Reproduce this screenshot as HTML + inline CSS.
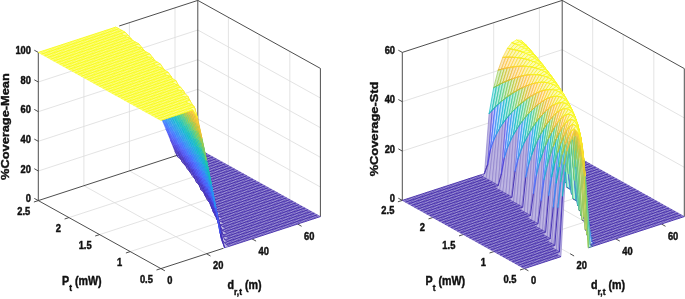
<!DOCTYPE html>
<html><head><meta charset="utf-8"><title>3D coverage plots</title>
<style>html,body{margin:0;padding:0;background:#fff}svg{display:block;will-change:transform}</style></head>
<body>
<svg width="685" height="299" viewBox="0 0 685 299">
<style>.f{fill:#fff;stroke:none}.n{fill:none}</style>
<defs><filter id="b" x="-5%" y="-5%" width="110%" height="110%"><feGaussianBlur stdDeviation=".35"/></filter></defs>
<rect width="685" height="299" fill="#fff"/>
<path d="M206.5 253.7L83.9 185.7M83.9 185.7L83.9 37.5M252 238.9L129.4 170.9M129.4 170.9L129.4 22.7M297.6 224L175 156M175 156L175 7.8M130.2 251.6L289.8 199.6M289.8 199.6L289.8 51.4M99.6 234.6L259.1 182.6M259.1 182.6L259.1 34.4M68.9 217.6L228.4 165.6M228.4 165.6L228.4 17.4M38.3 171L197.8 119M197.8 119L320.4 187M38.3 141.3L197.8 89.3M197.8 89.3L320.4 157.3M38.3 111.7L197.8 59.7M197.8 59.7L320.4 127.7M38.3 82L197.8 30M197.8 30L320.4 98" stroke="#dcdcdc" stroke-width=".8" fill="none"/>
<path d="M38.3 200.6L38.3 52.4M38.3 200.6L160.9 268.6M160.9 268.6L223.6 248.2M38.3 200.6L178.4 154.9M119.2 26L197.8 .4M197.8 148.6L197.8 .4M320.4 216.6L320.4 68.4M197.8 .4L320.4 68.4M38.3 200.6L34.3 198.4M38.3 171L34.3 168.7M38.3 141.3L34.3 139.1M38.3 111.7L34.3 109.4M38.3 82L34.3 79.8M38.3 52.4L34.3 50.2M160.9 268.6L156.5 270M130.2 251.6L125.9 253M99.6 234.6L95.2 236M68.9 217.6L64.6 219M38.3 200.6L33.9 202M160.9 268.6L164.9 270.8M206.5 253.7L210.5 256M252 238.9L256.1 241.1M297.6 224L301.6 226.3" stroke="#3a3a3a" stroke-width=".9" fill="none"/>
<g fill="#fff" stroke-width=".65" stroke-linejoin="round">
<path stroke="none" fill="#9e93d4" d="M229.3 246.3L320.4 216.6L317.3 214.9L226.2 244.6zM226.2 244.6L317.3 214.9L314.3 213.2L223.1 242.9zM227.7 241.4L314.3 213.2L311.2 211.5L224.6 239.7zM229.2 238.2L311.2 211.5L308.1 209.8L226.1 236.5zM226.1 236.5L308.1 209.8L305.1 208.1L223 234.8zM227.6 233.4L305.1 208.1L302 206.4L224.5 231.7zM224.5 231.7L302 206.4L298.9 204.7L221.5 230zM226 228.5L298.9 204.7L295.9 203L223 226.8zM223 226.8L295.9 203L292.8 201.3L219.9 225.1zM224.5 223.6L292.8 201.3L289.8 199.6L221.4 221.9zM221.4 221.9L289.8 199.6L286.7 197.9L218.3 220.2zM222.9 218.7L286.7 197.9L283.6 196.2L219.8 217zM219.8 217L283.6 196.2L280.6 194.5L216.8 215.3zM221.3 213.8L280.6 194.5L277.5 192.8L218.2 212.1zM218.2 212.1L277.5 192.8L274.4 191.1L215.2 210.4zM215.2 210.4L274.4 191.1L271.4 189.4L212.1 208.7zM216.7 207.2L271.4 189.4L268.3 187.7L213.6 205.5zM213.6 205.5L268.3 187.7L265.2 186L210.5 203.8zM215.1 202.3L265.2 186L262.2 184.3L212 200.6zM212 200.6L262.2 184.3L259.1 182.6L209 198.9zM209 198.9L259.1 182.6L256 180.9L205.9 197.2zM210.5 195.8L256 180.9L253 179.2L207.4 194.1zM207.4 194.1L253 179.2L249.9 177.5L204.3 192.4zM208.9 190.9L249.9 177.5L246.8 175.8L205.8 189.2zM205.8 189.2L246.8 175.8L243.8 174.1L202.8 187.5zM202.8 187.5L243.8 174.1L240.7 172.4L199.7 185.8zM204.3 184.3L240.7 172.4L237.6 170.7L201.2 182.6zM201.2 182.6L237.6 170.7L234.6 169L198.1 180.9zM198.1 180.9L234.6 169L231.5 167.3L195.1 179.2zM199.6 177.7L231.5 167.3L228.4 165.6L196.6 176zM196.6 176L228.4 165.6L225.4 163.9L193.5 174.3zM193.5 174.3L225.4 163.9L222.3 162.2L190.4 172.6zM195 171.1L222.3 162.2L219.3 160.5L191.9 169.4zM191.9 169.4L219.3 160.5L216.2 158.8L188.8 167.7zM188.8 167.7L216.2 158.8L213.1 157.1L185.8 166zM190.3 164.5L213.1 157.1L210.1 155.4L187.3 162.8zM187.3 162.8L210.1 155.4L207 153.7L184.2 161.1zM184.2 161.1L207 153.7L203.9 152L181.1 159.4zM185.7 157.9L203.9 152L200.9 150.3L182.6 156.2zM182.6 156.2L200.9 150.3L197.8 148.6L179.6 154.5z"/>
<path class="n" stroke-width=".5" stroke="#3e26a8" d="M229.3 246.3L223.1 242.9M231.5 245.6L225.4 242.2M233.8 244.8L224.6 239.7M236.1 244.1L226.9 239M238.4 243.3L223 234.8M240.6 242.6L225.3 234.1M242.9 241.9L221.5 230M245.2 241.1L223.8 229.2M247.5 240.4L219.9 225.1M249.8 239.6L222.2 224.3M252 238.9L218.3 220.2M254.3 238.1L220.6 219.4M256.6 237.4L216.8 215.3M258.9 236.7L219 214.6M261.2 235.9L212.1 208.7M263.4 235.2L214.4 208M265.7 234.4L210.5 203.8M268 233.7L212.8 203.1M270.3 232.9L205.9 197.2M272.5 232.2L208.2 196.5M274.8 231.5L204.3 192.4M277.1 230.7L206.6 191.6M279.4 230L199.7 185.8M281.7 229.2L202 185M283.9 228.5L195.1 179.2M286.2 227.7L197.3 178.4M288.5 227L190.4 172.6M290.8 226.3L192.7 171.9M293.1 225.5L185.8 166M295.3 224.8L188.1 165.3M297.6 224L181.1 159.4M299.9 223.3L183.4 158.7M302.2 222.5L179.6 154.5M304.4 221.8L181.8 153.8M306.7 221.1L184.1 153.1M309 220.3L186.4 152.3M311.3 219.6L188.7 151.6M313.6 218.8L191 150.8M315.8 218.1L193.2 150.1M318.1 217.3L195.5 149.3M320.4 216.6L197.8 148.6"/>
<path class="n" stroke-width=".85" stroke="#3e26a8" d="M229.3 246.3L320.4 216.6M226.2 244.6L317.3 214.9M223.1 242.9L314.3 213.2M224.6 239.7L311.2 211.5M226.1 236.5L308.1 209.8M223 234.8L305.1 208.1M224.5 231.7L302 206.4M221.5 230L298.9 204.7M223 226.8L295.9 203M219.9 225.1L292.8 201.3M221.4 221.9L289.8 199.6M218.3 220.2L286.7 197.9M219.8 217L283.6 196.2M216.8 215.3L280.6 194.5M218.2 212.1L277.5 192.8M215.2 210.4L274.4 191.1M212.1 208.7L271.4 189.4M213.6 205.5L268.3 187.7M210.5 203.8L265.2 186M212 200.6L262.2 184.3M209 198.9L259.1 182.6M205.9 197.2L256 180.9M207.4 194.1L253 179.2M204.3 192.4L249.9 177.5M205.8 189.2L246.8 175.8M202.8 187.5L243.8 174.1M199.7 185.8L240.7 172.4M201.2 182.6L237.6 170.7M198.1 180.9L234.6 169M195.1 179.2L231.5 167.3M196.6 176L228.4 165.6M193.5 174.3L225.4 163.9M190.4 172.6L222.3 162.2M191.9 169.4L219.3 160.5M188.8 167.7L216.2 158.8M185.8 166L213.1 157.1M187.3 162.8L210.1 155.4M184.2 161.1L207 153.7M181.1 159.4L203.9 152M182.6 156.2L200.9 150.3M179.6 154.5L197.8 148.6"/>
<g filter="url(#b)">
<path stroke="#3e26a8" fill="#bdb5e2" d="M179.6 154.5l-4.6-3.1l3.1 5.6l4.5-.8z"/>
<path stroke="#3e26a8" fill="#bdb5e2" d="M182.6 156.2l-4.5 .8l3 2.4l4.6-1.5z"/>
<path stroke="#422ec0" fill="#bfb8e9" d="M175 151.4l-4.5-11.4l3 5.4l4.6 11.6z"/>
<path class="n" stroke="#3e26a8" d="M173.5 145.4l4.6 11.6"/>
<path stroke="#3e26a8" fill="#bdb5e2" d="M178.1 157l-4.6-11.6l3.1 5.6l4.5 8.4z"/>
<path stroke="#3e26a8" fill="#bdb5e2" d="M181.1 159.4l-4.5-8.4l3.1 5.8l4.5 4.3z"/>
<path stroke="#3e26a8" fill="#bdb5e2" d="M184.2 161.1l-4.5-4.3l3 5.9l4.6 .1z"/>
<path stroke="#3e26a8" fill="#bdb5e2" d="M187.3 162.8l-4.6-.1l3.1 3.3l4.5-1.5z"/>
<path stroke="#4747eb" fill="#c1c0f8" d="M170.5 140l-4.6-11.2l3.1 5.3l4.5 11.3z"/>
<path class="n" stroke="#463cde" d="M169 134.1l4.5 11.3"/>
<path stroke="#463cde" fill="#c0bdf4" d="M173.5 145.4l-4.5-11.3l3 5.4l4.6 11.5z"/>
<path stroke="#4537d5" fill="#c0bbf1" d="M176.6 151l-4.6-11.5l3.1 5.5l4.6 11.8z"/>
<path class="n" stroke="#422ec0" d="M175.1 145l4.6 11.8"/>
<path stroke="#422ec0" fill="#bfb8e9" d="M179.7 156.8l-4.6-11.8l3.1 5.7l4.5 12z"/>
<path class="n" stroke="#3e26a8" d="M178.2 150.7l4.5 12"/>
<path stroke="#3e26a8" fill="#bdb5e2" d="M182.7 162.7l-4.5-12l3 5.8l4.6 9.5z"/>
<path stroke="#3e26a8" fill="#bdb5e2" d="M185.8 166l-4.6-9.5l3.1 6l4.5 5.2z"/>
<path stroke="#3e26a8" fill="#bdb5e2" d="M188.8 167.7l-4.5-5.2l3.1 6.2l4.5 .7z"/>
<path stroke="#3e26a8" fill="#bdb5e2" d="M191.9 169.4l-4.5-.7l3 3.9l4.6-1.5z"/>
<path stroke="#4269fe" fill="#bfccff" d="M165.9 128.8l-4.6-10.9l3.1 5l4.6 11.2z"/>
<path class="n" stroke="#465efb" d="M164.4 122.9l4.6 11.2"/>
<path stroke="#465efb" fill="#c0c8fe" d="M169 134.1l-4.6-11.2l3.1 5.2l4.5 11.4z"/>
<path class="n" stroke="#4852f4" d="M167.5 128.1l4.5 11.4"/>
<path stroke="#4852f4" fill="#c1c4fb" d="M172 139.5l-4.5-11.4l3 5.3l4.6 11.6z"/>
<path stroke="#484df0" fill="#c1c2fa" d="M175.1 145l-4.6-11.6l3.1 5.5l4.6 11.8z"/>
<path class="n" stroke="#4741e5" d="M173.6 138.9l4.6 11.8"/>
<path stroke="#4741e5" fill="#c0bef6" d="M178.2 150.7l-4.6-11.8l3.1 5.6l4.5 12z"/>
<path class="n" stroke="#4537d5" d="M176.7 144.5l4.5 12"/>
<path stroke="#4537d5" fill="#c0bbf1" d="M181.2 156.5l-4.5-12l3 5.8l4.6 12.2z"/>
<path class="n" stroke="#422ec0" d="M179.7 150.3l4.6 12.2"/>
<path stroke="#422ec0" fill="#bfb8e9" d="M184.3 162.5l-4.6-12.2l3.1 5.9l4.6 12.5z"/>
<path class="n" stroke="#3e26a8" d="M182.8 156.2l4.6 12.5"/>
<path stroke="#3e26a8" fill="#bdb5e2" d="M187.4 168.7l-4.6-12.5l3.1 6.1l4.5 10.3z"/>
<path stroke="#3e26a8" fill="#bdb5e2" d="M190.4 172.6l-4.5-10.3l3 6.4l4.6 5.6z"/>
<path stroke="#3e26a8" fill="#bdb5e2" d="M193.5 174.3l-4.6-5.6l3.1 6.5l4.6 .8z"/>
<path stroke="#3e26a8" fill="#bdb5e2" d="M196.6 176l-4.6-.8l3.1 4l4.5-1.5z"/>
<path stroke="#2e87f7" fill="#b8d6fc" d="M161.3 117.9l-4.5-10.7l3.1 4.8l4.5 10.9z"/>
<path class="n" stroke="#327cfc" d="M159.9 112l4.5 10.9"/>
<path stroke="#327cfc" fill="#b9d2fe" d="M164.4 122.9l-4.5-10.9l3 5l4.6 11.1z"/>
<path stroke="#3875fe" fill="#bbd0ff" d="M167.5 128.1l-4.6-11.1l3.1 5.1l4.5 11.3z"/>
<path class="n" stroke="#4269fe" d="M166 122.1l4.5 11.3"/>
<path stroke="#4269fe" fill="#bfccff" d="M170.5 133.4l-4.5-11.3l3 5.2l4.6 11.6z"/>
<path stroke="#4563fd" fill="#c0cafe" d="M173.6 138.9l-4.6-11.6l3.1 5.4l4.6 11.8z"/>
<path class="n" stroke="#4758f8" d="M172.1 132.7l4.6 11.8"/>
<path stroke="#4758f8" fill="#c1c6fd" d="M176.7 144.5l-4.6-11.8l3.1 5.5l4.5 12.1z"/>
<path class="n" stroke="#484df0" d="M175.2 138.2l4.5 12.1"/>
<path stroke="#484df0" fill="#c1c2fa" d="M179.7 150.3l-4.5-12.1l3 5.7l4.6 12.3z"/>
<path class="n" stroke="#4741e5" d="M178.2 143.9l4.6 12.3"/>
<path stroke="#4741e5" fill="#c0bef6" d="M182.8 156.2l-4.6-12.3l3.1 5.9l4.6 12.5z"/>
<path stroke="#463cde" fill="#c0bdf4" d="M185.9 162.3l-4.6-12.5l3.1 6.1l4.5 12.8z"/>
<path class="n" stroke="#4332cb" d="M184.4 155.9l4.5 12.8"/>
<path stroke="#4332cb" fill="#bfb9ed" d="M188.9 168.7l-4.5-12.8l3 6.3l4.6 13z"/>
<path class="n" stroke="#3e26a8" d="M187.4 162.2l4.6 13"/>
<path stroke="#3e26a8" fill="#bdb5e2" d="M192 175.2l-4.6-13l3.1 6.4l4.6 10.6z"/>
<path stroke="#3e26a8" fill="#bdb5e2" d="M195.1 179.2l-4.6-10.6l3.1 6.8l4.5 5.5z"/>
<path stroke="#3e26a8" fill="#bdb5e2" d="M198.1 180.9l-4.5-5.5l3 6.9l4.6 .3z"/>
<path stroke="#3e26a8" fill="#bdb5e2" d="M201.2 182.6l-4.6-.3l3.1 3.5l4.6-1.5z"/>
<path stroke="#23a0e5" fill="#b4dff6" d="M156.8 107.2l-4.6-10.5l3.1 4.7l4.6 10.6z"/>
<path stroke="#259be8" fill="#b5ddf7" d="M159.9 112l-4.6-10.6l3.1 4.7l4.5 10.9z"/>
<path class="n" stroke="#2b91ef" d="M158.4 106.1l4.5 10.9"/>
<path stroke="#2b91ef" fill="#b7daf9" d="M162.9 117l-4.5-10.9l3 4.9l4.6 11.1z"/>
<path stroke="#2d8cf3" fill="#b8d8fb" d="M166 122.1l-4.6-11.1l3.1 5l4.5 11.3z"/>
<path class="n" stroke="#2f81fa" d="M164.5 116l4.5 11.3"/>
<path stroke="#2f81fa" fill="#b8d4fd" d="M169 127.3l-4.5-11.3l3.1 5.2l4.5 11.5z"/>
<path stroke="#327cfc" fill="#b9d2fe" d="M172.1 132.7l-4.5-11.5l3 5.3l4.6 11.7z"/>
<path class="n" stroke="#3e6fff" d="M170.6 126.5l4.6 11.7"/>
<path stroke="#3e6fff" fill="#bdceff" d="M175.2 138.2l-4.6-11.7l3.1 5.4l4.5 12z"/>
<path class="n" stroke="#4563fd" d="M173.7 131.9l4.5 12"/>
<path stroke="#4563fd" fill="#c0cafe" d="M178.2 143.9l-4.5-12l3 5.7l4.6 12.2z"/>
<path stroke="#465efb" fill="#c0c8fe" d="M181.3 149.8l-4.6-12.2l3.1 5.8l4.6 12.5z"/>
<path class="n" stroke="#4852f4" d="M179.8 143.4l4.6 12.5"/>
<path stroke="#4852f4" fill="#c1c4fb" d="M184.4 155.9l-4.6-12.5l3.1 6l4.5 12.8z"/>
<path class="n" stroke="#4747eb" d="M182.9 149.4l4.5 12.8"/>
<path stroke="#4747eb" fill="#c1c0f8" d="M187.4 162.2l-4.5-12.8l3 6.1l4.6 13.1z"/>
<path class="n" stroke="#463cde" d="M185.9 155.5l4.6 13.1"/>
<path stroke="#463cde" fill="#c0bdf4" d="M190.5 168.6l-4.6-13.1l3.1 6.5l4.6 13.4z"/>
<path class="n" stroke="#4332cb" d="M189 162l4.6 13.4"/>
<path stroke="#4332cb" fill="#bfb9ed" d="M193.6 175.4l-4.6-13.4l3.1 6.6l4.5 13.7z"/>
<path class="n" stroke="#3e26a8" d="M192.1 168.6l4.5 13.7"/>
<path stroke="#3e26a8" fill="#bdb5e2" d="M196.6 182.3l-4.5-13.7l3 6.9l4.6 10.3z"/>
<path stroke="#3e26a8" fill="#bdb5e2" d="M199.7 185.8l-4.6-10.3l3.1 7.2l4.6 4.8z"/>
<path stroke="#3e26a8" fill="#bdb5e2" d="M202.8 187.5l-4.6-4.8l3.1 7.4l4.5-.9z"/>
<path stroke="#3e26a8" fill="#bdb5e2" d="M205.8 189.2l-4.5 .9l3 2.3l4.6-1.5z"/>
<path stroke="#08b5d0" fill="#abe6ef" d="M152.2 96.7l-4.5-10.2l3 4.4l4.6 10.5z"/>
<path stroke="#12b1d6" fill="#aee5f1" d="M155.3 101.4l-4.6-10.5l3.1 4.6l4.6 10.6z"/>
<path stroke="#18addb" fill="#b1e3f3" d="M158.4 106.1l-4.6-10.6l3.1 4.7l4.5 10.8z"/>
<path class="n" stroke="#20a5e3" d="M156.9 100.2l4.5 10.8"/>
<path stroke="#20a5e3" fill="#b3e0f5" d="M161.4 111l-4.5-10.8l3 4.8l4.6 11z"/>
<path stroke="#23a0e5" fill="#b4dff6" d="M164.5 116l-4.6-11l3.1 4.9l4.6 11.3z"/>
<path class="n" stroke="#2797eb" d="M163 109.9l4.6 11.3"/>
<path stroke="#2797eb" fill="#b6dbf8" d="M167.6 121.2l-4.6-11.3l3.1 5.1l4.5 11.5z"/>
<path stroke="#2b91ef" fill="#b7daf9" d="M170.6 126.5l-4.5-11.5l3 5.2l4.6 11.7z"/>
<path class="n" stroke="#2e87f7" d="M169.1 120.2l4.6 11.7"/>
<path stroke="#2e87f7" fill="#b8d6fc" d="M173.7 131.9l-4.6-11.7l3.1 5.4l4.5 12z"/>
<path stroke="#2f81fa" fill="#b8d4fd" d="M176.7 137.6l-4.5-12l3.1 5.5l4.5 12.3z"/>
<path class="n" stroke="#3875fe" d="M175.3 131.1l4.5 12.3"/>
<path stroke="#3875fe" fill="#bbd0ff" d="M179.8 143.4l-4.5-12.3l3 5.7l4.6 12.6z"/>
<path class="n" stroke="#4269fe" d="M178.3 136.8l4.6 12.6"/>
<path stroke="#4269fe" fill="#bfccff" d="M182.9 149.4l-4.6-12.6l3.1 5.9l4.5 12.8z"/>
<path class="n" stroke="#465efb" d="M181.4 142.7l4.5 12.8"/>
<path stroke="#465efb" fill="#c0c8fe" d="M185.9 155.5l-4.5-12.8l3.1 6.2l4.5 13.1z"/>
<path class="n" stroke="#4852f4" d="M184.5 148.9l4.5 13.1"/>
<path stroke="#4852f4" fill="#c1c4fb" d="M189 162l-4.5-13.1l3 6.3l4.6 13.4z"/>
<path class="n" stroke="#4747eb" d="M187.5 155.2l4.6 13.4"/>
<path stroke="#4747eb" fill="#c1c0f8" d="M192.1 168.6l-4.6-13.4l3.1 6.6l4.5 13.7z"/>
<path class="n" stroke="#463cde" d="M190.6 161.8l4.5 13.7"/>
<path stroke="#463cde" fill="#c0bdf4" d="M195.1 175.5l-4.5-13.7l3 6.8l4.6 14.1z"/>
<path class="n" stroke="#422ec0" d="M193.6 168.6l4.6 14.1"/>
<path stroke="#422ec0" fill="#bfb8e9" d="M198.2 182.7l-4.6-14.1l3.1 7.1l4.6 14.4z"/>
<path class="n" stroke="#3e26a8" d="M196.7 175.7l4.6 14.4"/>
<path stroke="#3e26a8" fill="#bdb5e2" d="M201.3 190.1l-4.6-14.4l3.1 7.4l4.5 9.3z"/>
<path stroke="#3e26a8" fill="#bdb5e2" d="M204.3 192.4l-4.5-9.3l3 7.7l4.6 3.3z"/>
<path stroke="#3e26a8" fill="#bdb5e2" d="M207.4 194.1l-4.6-3.3l3.1 6.4l4.6-1.4z"/>
<path stroke="#24c1ae" fill="#b5eae4" d="M147.7 86.5l-4.6-10l3.1 4.2l4.5 10.2z"/>
<path stroke="#19bfb6" fill="#b1e9e6" d="M150.7 90.9l-4.5-10.2l3 4.4l4.6 10.4z"/>
<path stroke="#0bbdbd" fill="#ace9e8" d="M153.8 95.5l-4.6-10.4l3.1 4.5l4.6 10.6z"/>
<path stroke="#02bac3" fill="#a9e8eb" d="M156.9 100.2l-4.6-10.6l3.1 4.6l4.5 10.8z"/>
<path class="n" stroke="#08b5d0" d="M155.4 94.2l4.5 10.8"/>
<path stroke="#08b5d0" fill="#abe6ef" d="M159.9 105l-4.5-10.8l3 4.7l4.6 11z"/>
<path stroke="#12b1d6" fill="#aee5f1" d="M163 109.9l-4.6-11l3.1 4.8l4.6 11.3z"/>
<path class="n" stroke="#1ca9df" d="M161.5 103.7l4.6 11.3"/>
<path stroke="#1ca9df" fill="#b2e2f4" d="M166.1 115l-4.6-11.3l3.1 5l4.5 11.5z"/>
<path stroke="#20a5e3" fill="#b3e0f5" d="M169.1 120.2l-4.5-11.5l3 5.1l4.6 11.8z"/>
<path class="n" stroke="#259be8" d="M167.6 113.8l4.6 11.8"/>
<path stroke="#259be8" fill="#b5ddf7" d="M172.2 125.6l-4.6-11.8l3.1 5.3l4.6 12z"/>
<path stroke="#2797eb" fill="#b6dbf8" d="M175.3 131.1l-4.6-12l3.1 5.5l4.5 12.2z"/>
<path class="n" stroke="#2d8cf3" d="M173.8 124.6l4.5 12.2"/>
<path stroke="#2d8cf3" fill="#b8d8fb" d="M178.3 136.8l-4.5-12.2l3 5.6l4.6 12.5z"/>
<path class="n" stroke="#2f81fa" d="M176.8 130.2l4.6 12.5"/>
<path stroke="#2f81fa" fill="#b8d4fd" d="M181.4 142.7l-4.6-12.5l3.1 5.9l4.6 12.8z"/>
<path class="n" stroke="#3875fe" d="M179.9 136.1l4.6 12.8"/>
<path stroke="#3875fe" fill="#bbd0ff" d="M184.5 148.9l-4.6-12.8l3.1 6l4.5 13.1z"/>
<path class="n" stroke="#4269fe" d="M183 142.1l4.5 13.1"/>
<path stroke="#4269fe" fill="#bfccff" d="M187.5 155.2l-4.5-13.1l3 6.3l4.6 13.4z"/>
<path class="n" stroke="#465efb" d="M186 148.4l4.6 13.4"/>
<path stroke="#465efb" fill="#c0c8fe" d="M190.6 161.8l-4.6-13.4l3.1 6.5l4.5 13.7z"/>
<path class="n" stroke="#4852f4" d="M189.1 154.9l4.5 13.7"/>
<path stroke="#4852f4" fill="#c1c4fb" d="M193.6 168.6l-4.5-13.7l3.1 6.7l4.5 14.1z"/>
<path class="n" stroke="#4747eb" d="M192.2 161.6l4.5 14.1"/>
<path stroke="#4747eb" fill="#c1c0f8" d="M196.7 175.7l-4.5-14.1l3 7.1l4.6 14.4z"/>
<path class="n" stroke="#4537d5" d="M195.2 168.7l4.6 14.4"/>
<path stroke="#4537d5" fill="#c0bbf1" d="M199.8 183.1l-4.6-14.4l3.1 7.3l4.5 14.8z"/>
<path class="n" stroke="#422ec0" d="M198.3 176l4.5 14.8"/>
<path stroke="#422ec0" fill="#bfb8e9" d="M202.8 190.8l-4.5-14.8l3 7.6l4.6 13.6z"/>
<path class="n" stroke="#3e26a8" d="M201.3 183.6l4.6 13.6"/>
<path stroke="#3e26a8" fill="#bdb5e2" d="M205.9 197.2l-4.6-13.6l3.1 8.1l4.6 7.2z"/>
<path stroke="#3e26a8" fill="#bdb5e2" d="M209 198.9l-4.6-7.2l3.1 8.3l4.5 .6z"/>
<path stroke="#3e26a8" fill="#bdb5e2" d="M212 200.6l-4.5-.6l3 3.8l4.6-1.5z"/>
<path stroke="#4acb84" fill="#c1edd5" d="M143.1 76.5l-4.5-9.8l3 4.1l4.6 9.9z"/>
<path stroke="#3fca8e" fill="#beedd9" d="M146.2 80.7l-4.6-9.9l3.1 4.2l4.5 10.1z"/>
<path stroke="#37c897" fill="#bbecdc" d="M149.2 85.1l-4.5-10.1l3.1 4.3l4.5 10.3z"/>
<path stroke="#31c69f" fill="#b9ecde" d="M152.3 89.6l-4.5-10.3l3 4.3l4.6 10.6z"/>
<path stroke="#2cc4a7" fill="#b7ebe1" d="M155.4 94.2l-4.6-10.6l3.1 4.5l4.5 10.8z"/>
<path class="n" stroke="#19bfb6" d="M153.9 88.1l4.5 10.8"/>
<path stroke="#19bfb6" fill="#b1e9e6" d="M158.4 98.9l-4.5-10.8l3 4.7l4.6 10.9z"/>
<path stroke="#0bbdbd" fill="#ace9e8" d="M161.5 103.7l-4.6-10.9l3.1 4.7l4.6 11.2z"/>
<path stroke="#02bac3" fill="#a9e8eb" d="M164.6 108.7l-4.6-11.2l3.1 4.9l4.5 11.4z"/>
<path class="n" stroke="#08b5d0" d="M163.1 102.4l4.5 11.4"/>
<path stroke="#08b5d0" fill="#abe6ef" d="M167.6 113.8l-4.5-11.4l3 5.1l4.6 11.6z"/>
<path stroke="#12b1d6" fill="#aee5f1" d="M170.7 119.1l-4.6-11.6l3.1 5.2l4.6 11.9z"/>
<path class="n" stroke="#1ca9df" d="M169.2 112.7l4.6 11.9"/>
<path stroke="#1ca9df" fill="#b2e2f4" d="M173.8 124.6l-4.6-11.9l3.1 5.3l4.5 12.2z"/>
<path class="n" stroke="#23a0e5" d="M172.3 118l4.5 12.2"/>
<path stroke="#23a0e5" fill="#b4dff6" d="M176.8 130.2l-4.5-12.2l3 5.6l4.6 12.5z"/>
<path class="n" stroke="#2797eb" d="M175.3 123.6l4.6 12.5"/>
<path stroke="#2797eb" fill="#b6dbf8" d="M179.9 136.1l-4.6-12.5l3.1 5.7l4.6 12.8z"/>
<path stroke="#2b91ef" fill="#b7daf9" d="M183 142.1l-4.6-12.8l3.1 6l4.5 13.1z"/>
<path class="n" stroke="#2e87f7" d="M181.5 135.3l4.5 13.1"/>
<path stroke="#2e87f7" fill="#b8d6fc" d="M186 148.4l-4.5-13.1l3 6.2l4.6 13.4z"/>
<path class="n" stroke="#327cfc" d="M184.5 141.5l4.6 13.4"/>
<path stroke="#327cfc" fill="#b9d2fe" d="M189.1 154.9l-4.6-13.4l3.1 6.4l4.6 13.7z"/>
<path class="n" stroke="#4269fe" d="M187.6 147.9l4.6 13.7"/>
<path stroke="#4269fe" fill="#bfccff" d="M192.2 161.6l-4.6-13.7l3.1 6.7l4.5 14.1z"/>
<path class="n" stroke="#465efb" d="M190.7 154.6l4.5 14.1"/>
<path stroke="#465efb" fill="#c0c8fe" d="M195.2 168.7l-4.5-14.1l3 6.9l4.6 14.5z"/>
<path class="n" stroke="#4852f4" d="M193.7 161.5l4.6 14.5"/>
<path stroke="#4852f4" fill="#c1c4fb" d="M198.3 176l-4.6-14.5l3.1 7.3l4.5 14.8z"/>
<path class="n" stroke="#4741e5" d="M196.8 168.8l4.5 14.8"/>
<path stroke="#4741e5" fill="#c0bef6" d="M201.3 183.6l-4.5-14.8l3.1 7.6l4.5 15.3z"/>
<path class="n" stroke="#4332cb" d="M199.9 176.4l4.5 15.3"/>
<path stroke="#4332cb" fill="#bfb9ed" d="M204.4 191.7l-4.5-15.3l3 7.9l4.6 15.7z"/>
<path class="n" stroke="#3e26a8" d="M202.9 184.3l4.6 15.7"/>
<path stroke="#3e26a8" fill="#bdb5e2" d="M207.5 200l-4.6-15.7l3.1 8.4l4.5 11.1z"/>
<path stroke="#3e26a8" fill="#bdb5e2" d="M210.5 203.8l-4.5-11.1l3.1 8.8l4.5 4z"/>
<path stroke="#3e26a8" fill="#bdb5e2" d="M213.6 205.5l-4.5-4l3 7.2l4.6-1.5z"/>
<path stroke="#8fcb4e" fill="#d9edc3" d="M138.6 66.7l-4.6-9.5l3.1 3.9l4.5 9.7z"/>
<path stroke="#81cc59" fill="#d4eec6" d="M141.6 70.8l-4.5-9.7l3 4l4.6 9.9z"/>
<path stroke="#72cd64" fill="#cfeeca" d="M144.7 75l-4.6-9.9l3.1 4.1l4.6 10.1z"/>
<path stroke="#64cd6f" fill="#caeece" d="M147.8 79.3l-4.6-10.1l3.1 4.2l4.5 10.2z"/>
<path stroke="#57cc7a" fill="#c6eed2" d="M150.8 83.6l-4.5-10.2l3 4.3l4.6 10.4z"/>
<path stroke="#4acb84" fill="#c1edd5" d="M153.9 88.1l-4.6-10.4l3.1 4.4l4.5 10.7z"/>
<path class="n" stroke="#37c897" d="M152.4 82.1l4.5 10.7"/>
<path stroke="#37c897" fill="#bbecdc" d="M156.9 92.8l-4.5-10.7l3.1 4.5l4.5 10.9z"/>
<path stroke="#31c69f" fill="#b9ecde" d="M160 97.5l-4.5-10.9l3 4.7l4.6 11.1z"/>
<path stroke="#2cc4a7" fill="#b7ebe1" d="M163.1 102.4l-4.6-11.1l3.1 4.8l4.5 11.4z"/>
<path class="n" stroke="#19bfb6" d="M161.6 96.1l4.5 11.4"/>
<path stroke="#19bfb6" fill="#b1e9e6" d="M166.1 107.5l-4.5-11.4l3 4.9l4.6 11.7z"/>
<path stroke="#0bbdbd" fill="#ace9e8" d="M169.2 112.7l-4.6-11.7l3.1 5.1l4.6 11.9z"/>
<path class="n" stroke="#01b8ca" d="M167.7 106.1l4.6 11.9"/>
<path stroke="#01b8ca" fill="#a9e7ed" d="M172.3 118l-4.6-11.9l3.1 5.3l4.5 12.2z"/>
<path class="n" stroke="#12b1d6" d="M170.8 111.4l4.5 12.2"/>
<path stroke="#12b1d6" fill="#aee5f1" d="M175.3 123.6l-4.5-12.2l3 5.5l4.6 12.4z"/>
<path stroke="#18addb" fill="#b1e3f3" d="M178.4 129.3l-4.6-12.4l3.1 5.6l4.6 12.8z"/>
<path class="n" stroke="#20a5e3" d="M176.9 122.5l4.6 12.8"/>
<path stroke="#20a5e3" fill="#b3e0f5" d="M181.5 135.3l-4.6-12.8l3.1 5.9l4.5 13.1z"/>
<path class="n" stroke="#259be8" d="M180 128.4l4.5 13.1"/>
<path stroke="#259be8" fill="#b5ddf7" d="M184.5 141.5l-4.5-13.1l3 6.1l4.6 13.4z"/>
<path class="n" stroke="#2b91ef" d="M183 134.5l4.6 13.4"/>
<path stroke="#2b91ef" fill="#b7daf9" d="M187.6 147.9l-4.6-13.4l3.1 6.3l4.6 13.8z"/>
<path class="n" stroke="#2e87f7" d="M186.1 140.8l4.6 13.8"/>
<path stroke="#2e87f7" fill="#b8d6fc" d="M190.7 154.6l-4.6-13.8l3.1 6.6l4.5 14.1z"/>
<path class="n" stroke="#3875fe" d="M189.2 147.4l4.5 14.1"/>
<path stroke="#3875fe" fill="#bbd0ff" d="M193.7 161.5l-4.5-14.1l3 6.9l4.6 14.5z"/>
<path class="n" stroke="#4269fe" d="M192.2 154.3l4.6 14.5"/>
<path stroke="#4269fe" fill="#bfccff" d="M196.8 168.8l-4.6-14.5l3.1 7.2l4.6 14.9z"/>
<path class="n" stroke="#465efb" d="M195.3 161.5l4.6 14.9"/>
<path stroke="#465efb" fill="#c0c8fe" d="M199.9 176.4l-4.6-14.9l3.1 7.5l4.5 15.3z"/>
<path class="n" stroke="#484df0" d="M198.4 169l4.5 15.3"/>
<path stroke="#484df0" fill="#c1c2fa" d="M202.9 184.3l-4.5-15.3l3 7.9l4.6 15.8z"/>
<path class="n" stroke="#463cde" d="M201.4 176.9l4.6 15.8"/>
<path stroke="#463cde" fill="#c0bdf4" d="M206 192.7l-4.6-15.8l3.1 8.3l4.6 16.3z"/>
<path class="n" stroke="#422ec0" d="M204.5 185.2l4.6 16.3"/>
<path stroke="#422ec0" fill="#bfb8e9" d="M209.1 201.5l-4.6-16.3l3.1 8.8l4.5 14.7z"/>
<path class="n" stroke="#3e26a8" d="M207.6 194l4.5 14.7"/>
<path stroke="#3e26a8" fill="#bdb5e2" d="M212.1 208.7l-4.5-14.7l3 9.2l4.6 7.2z"/>
<path stroke="#3e26a8" fill="#bdb5e2" d="M215.2 210.4l-4.6-7.2l3.1 9.8l4.5-.9z"/>
<path stroke="#3e26a8" fill="#bdb5e2" d="M218.2 212.1l-4.5 .9l3.1 2.3l4.5-1.5z"/>
<path stroke="#d1bf27" fill="#efe9b6" d="M134 57.2l-4.6-9.2l3.1 3.7l4.6 9.4z"/>
<path stroke="#c5c22a" fill="#ebeab7" d="M137.1 61.1l-4.6-9.4l3.1 3.8l4.5 9.6z"/>
<path stroke="#b9c431" fill="#e7ebb9" d="M140.1 65.1l-4.5-9.6l3 3.9l4.6 9.8z"/>
<path stroke="#abc739" fill="#e3ecbc" d="M143.2 69.2l-4.6-9.8l3.1 4l4.6 10z"/>
<path stroke="#9dc943" fill="#deedbf" d="M146.3 73.4l-4.6-10l3.1 4.1l4.5 10.2z"/>
<path stroke="#8fcb4e" fill="#d9edc3" d="M149.3 77.7l-4.5-10.2l3 4.2l4.6 10.4z"/>
<path stroke="#81cc59" fill="#d4eec6" d="M152.4 82.1l-4.6-10.4l3.1 4.3l4.6 10.6z"/>
<path class="n" stroke="#64cd6f" d="M150.9 76l4.6 10.6"/>
<path stroke="#64cd6f" fill="#caeece" d="M155.5 86.6l-4.6-10.6l3.1 4.4l4.5 10.9z"/>
<path stroke="#57cc7a" fill="#c6eed2" d="M158.5 91.3l-4.5-10.9l3 4.6l4.6 11.1z"/>
<path stroke="#4acb84" fill="#c1edd5" d="M161.6 96.1l-4.6-11.1l3.1 4.7l4.5 11.3z"/>
<path class="n" stroke="#37c897" d="M160.1 89.7l4.5 11.3"/>
<path stroke="#37c897" fill="#bbecdc" d="M164.6 101l-4.5-11.3l3.1 4.9l4.5 11.5z"/>
<path stroke="#31c69f" fill="#b9ecde" d="M167.7 106.1l-4.5-11.5l3 5l4.6 11.8z"/>
<path class="n" stroke="#24c1ae" d="M166.2 99.6l4.6 11.8"/>
<path stroke="#24c1ae" fill="#b5eae4" d="M170.8 111.4l-4.6-11.8l3.1 5.2l4.5 12.1z"/>
<path stroke="#19bfb6" fill="#b1e9e6" d="M173.8 116.9l-4.5-12.1l3.1 5.3l4.5 12.4z"/>
<path class="n" stroke="#02bac3" d="M172.4 110.1l4.5 12.4"/>
<path stroke="#02bac3" fill="#a9e8eb" d="M176.9 122.5l-4.5-12.4l3 5.6l4.6 12.7z"/>
<path class="n" stroke="#08b5d0" d="M175.4 115.7l4.6 12.7"/>
<path stroke="#08b5d0" fill="#abe6ef" d="M180 128.4l-4.6-12.7l3.1 5.7l4.5 13.1z"/>
<path class="n" stroke="#18addb" d="M178.5 121.4l4.5 13.1"/>
<path stroke="#18addb" fill="#b1e3f3" d="M183 134.5l-4.5-13.1l3 6l4.6 13.4z"/>
<path class="n" stroke="#20a5e3" d="M181.5 127.4l4.6 13.4"/>
<path stroke="#20a5e3" fill="#b3e0f5" d="M186.1 140.8l-4.6-13.4l3.1 6.3l4.6 13.7z"/>
<path class="n" stroke="#259be8" d="M184.6 133.7l4.6 13.7"/>
<path stroke="#259be8" fill="#b5ddf7" d="M189.2 147.4l-4.6-13.7l3.1 6.5l4.5 14.1z"/>
<path class="n" stroke="#2b91ef" d="M187.7 140.2l4.5 14.1"/>
<path stroke="#2b91ef" fill="#b7daf9" d="M192.2 154.3l-4.5-14.1l3 6.8l4.6 14.5z"/>
<path class="n" stroke="#2e87f7" d="M190.7 147l4.6 14.5"/>
<path stroke="#2e87f7" fill="#b8d6fc" d="M195.3 161.5l-4.6-14.5l3.1 7.1l4.6 14.9z"/>
<path class="n" stroke="#3875fe" d="M193.8 154.1l4.6 14.9"/>
<path stroke="#3875fe" fill="#bbd0ff" d="M198.4 169l-4.6-14.9l3.1 7.5l4.5 15.3z"/>
<path class="n" stroke="#4563fd" d="M196.9 161.6l4.5 15.3"/>
<path stroke="#4563fd" fill="#c0cafe" d="M201.4 176.9l-4.5-15.3l3 7.8l4.6 15.8z"/>
<path class="n" stroke="#4758f8" d="M199.9 169.4l4.6 15.8"/>
<path stroke="#4758f8" fill="#c1c6fd" d="M204.5 185.2l-4.6-15.8l3.1 8.3l4.6 16.3z"/>
<path class="n" stroke="#4747eb" d="M203 177.7l4.6 16.3"/>
<path stroke="#4747eb" fill="#c1c0f8" d="M207.6 194l-4.6-16.3l3.1 8.7l4.5 16.8z"/>
<path class="n" stroke="#4332cb" d="M206.1 186.4l4.5 16.8"/>
<path stroke="#4332cb" fill="#bfb9ed" d="M210.6 203.2l-4.5-16.8l3 9.2l4.6 17.4z"/>
<path class="n" stroke="#3e26a8" d="M209.1 195.6l4.6 17.4"/>
<path stroke="#3e26a8" fill="#bdb5e2" d="M213.7 213l-4.6-17.4l3.1 9.8l4.6 9.9z"/>
<path stroke="#3e26a8" fill="#bdb5e2" d="M216.8 215.3l-4.6-9.9l3.1 10.4l4.5 1.2z"/>
<path stroke="#3e26a8" fill="#bdb5e2" d="M219.8 217l-4.5-1.2l3 4.4l4.6-1.5z"/>
<path stroke="#febe3c" fill="#ffe9bd" d="M129.4 48l-4.5-9l3.1 3.6l4.5 9.1z"/>
<path stroke="#f8ba3d" fill="#fde8bd" d="M132.5 51.7l-4.5-9.1l3 3.6l4.6 9.3z"/>
<path stroke="#f0ba36" fill="#fae7bb" d="M135.6 55.5l-4.6-9.3l3.1 3.7l4.5 9.5z"/>
<path stroke="#e6bb2d" fill="#f7e8b8" d="M138.6 59.4l-4.5-9.5l3 3.8l4.6 9.7z"/>
<path stroke="#dcbd29" fill="#f3e9b6" d="M141.7 63.4l-4.6-9.7l3.1 3.9l4.6 9.9z"/>
<path stroke="#d1bf27" fill="#efe9b6" d="M144.8 67.5l-4.6-9.9l3.1 4l4.5 10.1z"/>
<path stroke="#c5c22a" fill="#ebeab7" d="M147.8 71.7l-4.5-10.1l3 4.1l4.6 10.3z"/>
<path stroke="#b9c431" fill="#e7ebb9" d="M150.9 76l-4.6-10.3l3.1 4.2l4.6 10.5z"/>
<path class="n" stroke="#9dc943" d="M149.4 69.9l4.6 10.5"/>
<path stroke="#9dc943" fill="#deedbf" d="M154 80.4l-4.6-10.5l3.1 4.3l4.5 10.8z"/>
<path stroke="#8fcb4e" fill="#d9edc3" d="M157 85l-4.5-10.8l3 4.5l4.6 11z"/>
<path stroke="#81cc59" fill="#d4eec6" d="M160.1 89.7l-4.6-11l3.1 4.6l4.6 11.3z"/>
<path stroke="#72cd64" fill="#cfeeca" d="M163.2 94.6l-4.6-11.3l3.1 4.8l4.5 11.5z"/>
<path class="n" stroke="#57cc7a" d="M161.7 88.1l4.5 11.5"/>
<path stroke="#57cc7a" fill="#c6eed2" d="M166.2 99.6l-4.5-11.5l3 4.9l4.6 11.8z"/>
<path stroke="#4acb84" fill="#c1edd5" d="M169.3 104.8l-4.6-11.8l3.1 5l4.6 12.1z"/>
<path class="n" stroke="#37c897" d="M167.8 98l4.6 12.1"/>
<path stroke="#37c897" fill="#bbecdc" d="M172.4 110.1l-4.6-12.1l3.1 5.3l4.5 12.4z"/>
<path class="n" stroke="#2cc4a7" d="M170.9 103.3l4.5 12.4"/>
<path stroke="#2cc4a7" fill="#b7ebe1" d="M175.4 115.7l-4.5-12.4l3 5.5l4.6 12.6z"/>
<path stroke="#24c1ae" fill="#b5eae4" d="M178.5 121.4l-4.6-12.6l3.1 5.6l4.5 13z"/>
<path class="n" stroke="#0bbdbd" d="M177 114.4l4.5 13"/>
<path stroke="#0bbdbd" fill="#ace9e8" d="M181.5 127.4l-4.5-13l3.1 5.9l4.5 13.4z"/>
<path class="n" stroke="#01b8ca" d="M180.1 120.3l4.5 13.4"/>
<path stroke="#01b8ca" fill="#a9e7ed" d="M184.6 133.7l-4.5-13.4l3 6.2l4.6 13.7z"/>
<path class="n" stroke="#12b1d6" d="M183.1 126.5l4.6 13.7"/>
<path stroke="#12b1d6" fill="#aee5f1" d="M187.7 140.2l-4.6-13.7l3.1 6.4l4.5 14.1z"/>
<path class="n" stroke="#1ca9df" d="M186.2 132.9l4.5 14.1"/>
<path stroke="#1ca9df" fill="#b2e2f4" d="M190.7 147l-4.5-14.1l3.1 6.7l4.5 14.5z"/>
<path class="n" stroke="#259be8" d="M189.3 139.6l4.5 14.5"/>
<path stroke="#259be8" fill="#b5ddf7" d="M193.8 154.1l-4.5-14.5l3 7l4.6 15z"/>
<path class="n" stroke="#2b91ef" d="M192.3 146.6l4.6 15"/>
<path stroke="#2b91ef" fill="#b7daf9" d="M196.9 161.6l-4.6-15l3.1 7.4l4.5 15.4z"/>
<path class="n" stroke="#2f81fa" d="M195.4 154l4.5 15.4"/>
<path stroke="#2f81fa" fill="#b8d4fd" d="M199.9 169.4l-4.5-15.4l3 7.8l4.6 15.9z"/>
<path class="n" stroke="#3e6fff" d="M198.4 161.8l4.6 15.9"/>
<path stroke="#3e6fff" fill="#bdceff" d="M203 177.7l-4.6-15.9l3.1 8.2l4.6 16.4z"/>
<path class="n" stroke="#465efb" d="M201.5 170l4.6 16.4"/>
<path stroke="#465efb" fill="#c0c8fe" d="M206.1 186.4l-4.6-16.4l3.1 8.7l4.5 16.9z"/>
<path class="n" stroke="#484df0" d="M204.6 178.7l4.5 16.9"/>
<path stroke="#484df0" fill="#c1c2fa" d="M209.1 195.6l-4.5-16.9l3 9.1l4.6 17.6z"/>
<path class="n" stroke="#4537d5" d="M207.6 187.8l4.6 17.6"/>
<path stroke="#4537d5" fill="#c0bbf1" d="M212.2 205.4l-4.6-17.6l3.1 9.8l4.6 18.2z"/>
<path class="n" stroke="#402ab4" d="M210.7 197.6l4.6 18.2"/>
<path stroke="#402ab4" fill="#beb7e6" d="M215.3 215.8l-4.6-18.2l3.1 10.5l4.5 12.1z"/>
<path stroke="#3e26a8" fill="#bdb5e2" d="M218.3 220.2l-4.5-12.1l3 11.1l4.6 2.7z"/>
<path stroke="#3e26a8" fill="#bdb5e2" d="M221.4 221.9l-4.6-2.7l3.1 5.9l4.6-1.5z"/>
<path stroke="#fad62d" fill="#fdf1b8" d="M124.9 39l-4.6-8.7l3.1 3.4l4.6 8.9z"/>
<path stroke="#fccf30" fill="#feefb9" d="M128 42.6l-4.6-8.9l3.1 3.5l4.5 9z"/>
<path stroke="#fec934" fill="#ffedba" d="M131 46.2l-4.5-9l3 3.5l4.6 9.2z"/>
<path stroke="#fec934" fill="#ffedba" d="M134.1 49.9l-4.6-9.2l3.1 3.6l4.5 9.4z"/>
<path stroke="#fec338" fill="#ffebbb" d="M137.1 53.7l-4.5-9.4l3.1 3.7l4.5 9.6z"/>
<path stroke="#febe3c" fill="#ffe9bd" d="M140.2 57.6l-4.5-9.6l3 3.8l4.6 9.8z"/>
<path stroke="#f8ba3d" fill="#fde8bd" d="M143.3 61.6l-4.6-9.8l3.1 3.9l4.5 10z"/>
<path stroke="#f0ba36" fill="#fae7bb" d="M146.3 65.7l-4.5-10l3 4l4.6 10.2z"/>
<path stroke="#e6bb2d" fill="#f7e8b8" d="M149.4 69.9l-4.6-10.2l3.1 4.1l4.6 10.4z"/>
<path class="n" stroke="#d1bf27" d="M147.9 63.8l4.6 10.4"/>
<path stroke="#d1bf27" fill="#efe9b6" d="M152.5 74.2l-4.6-10.4l3.1 4.2l4.5 10.7z"/>
<path stroke="#c5c22a" fill="#ebeab7" d="M155.5 78.7l-4.5-10.7l3 4.4l4.6 10.9z"/>
<path stroke="#b9c431" fill="#e7ebb9" d="M158.6 83.3l-4.6-10.9l3.1 4.5l4.6 11.2z"/>
<path stroke="#abc739" fill="#e3ecbc" d="M161.7 88.1l-4.6-11.2l3.1 4.6l4.5 11.5z"/>
<path class="n" stroke="#8fcb4e" d="M160.2 81.5l4.5 11.5"/>
<path stroke="#8fcb4e" fill="#d9edc3" d="M164.7 93l-4.5-11.5l3 4.8l4.6 11.7z"/>
<path stroke="#81cc59" fill="#d4eec6" d="M167.8 98l-4.6-11.7l3.1 5l4.6 12z"/>
<path class="n" stroke="#64cd6f" d="M166.3 91.3l4.6 12"/>
<path stroke="#64cd6f" fill="#caeece" d="M170.9 103.3l-4.6-12l3.1 5.1l4.5 12.4z"/>
<path stroke="#57cc7a" fill="#c6eed2" d="M173.9 108.8l-4.5-12.4l3 5.4l4.6 12.6z"/>
<path class="n" stroke="#3fca8e" d="M172.4 101.8l4.6 12.6"/>
<path stroke="#3fca8e" fill="#beedd9" d="M177 114.4l-4.6-12.6l3.1 5.5l4.6 13z"/>
<path class="n" stroke="#31c69f" d="M175.5 107.3l4.6 13"/>
<path stroke="#31c69f" fill="#b9ecde" d="M180.1 120.3l-4.6-13l3.1 5.8l4.5 13.4z"/>
<path class="n" stroke="#24c1ae" d="M178.6 113.1l4.5 13.4"/>
<path stroke="#24c1ae" fill="#b5eae4" d="M183.1 126.5l-4.5-13.4l3 6.1l4.6 13.7z"/>
<path class="n" stroke="#0bbdbd" d="M181.6 119.2l4.6 13.7"/>
<path stroke="#0bbdbd" fill="#ace9e8" d="M186.2 132.9l-4.6-13.7l3.1 6.3l4.6 14.1z"/>
<path class="n" stroke="#01b8ca" d="M184.7 125.5l4.6 14.1"/>
<path stroke="#01b8ca" fill="#a9e7ed" d="M189.3 139.6l-4.6-14.1l3.1 6.6l4.5 14.5z"/>
<path class="n" stroke="#12b1d6" d="M187.8 132.1l4.5 14.5"/>
<path stroke="#12b1d6" fill="#aee5f1" d="M192.3 146.6l-4.5-14.5l3 7l4.6 14.9z"/>
<path class="n" stroke="#20a5e3" d="M190.8 139.1l4.6 14.9"/>
<path stroke="#20a5e3" fill="#b3e0f5" d="M195.4 154l-4.6-14.9l3.1 7.3l4.5 15.4z"/>
<path class="n" stroke="#259be8" d="M193.9 146.4l4.5 15.4"/>
<path stroke="#259be8" fill="#b5ddf7" d="M198.4 161.8l-4.5-15.4l3.1 7.7l4.5 15.9z"/>
<path class="n" stroke="#2d8cf3" d="M197 154.1l4.5 15.9"/>
<path stroke="#2d8cf3" fill="#b8d8fb" d="M201.5 170l-4.5-15.9l3 8.1l4.6 16.5z"/>
<path class="n" stroke="#327cfc" d="M200 162.2l4.6 16.5"/>
<path stroke="#327cfc" fill="#b9d2fe" d="M204.6 178.7l-4.6-16.5l3.1 8.6l4.5 17z"/>
<path class="n" stroke="#4269fe" d="M203.1 170.8l4.5 17"/>
<path stroke="#4269fe" fill="#bfccff" d="M207.6 187.8l-4.5-17l3 9.2l4.6 17.6z"/>
<path class="n" stroke="#4852f4" d="M206.1 180l4.6 17.6"/>
<path stroke="#4852f4" fill="#c1c4fb" d="M210.7 197.6l-4.6-17.6l3.1 9.8l4.6 18.3z"/>
<path class="n" stroke="#463cde" d="M209.2 189.8l4.6 18.3"/>
<path stroke="#463cde" fill="#c0bdf4" d="M213.8 208.1l-4.6-18.3l3.1 10.4l4.5 19z"/>
<path class="n" stroke="#402ab4" d="M212.3 200.2l4.5 19"/>
<path stroke="#402ab4" fill="#beb7e6" d="M216.8 219.2l-4.5-19l3 11.3l4.6 13.6z"/>
<path stroke="#3e26a8" fill="#bdb5e2" d="M219.9 225.1l-4.6-13.6l3.1 12.1l4.6 3.2z"/>
<path stroke="#3e26a8" fill="#bdb5e2" d="M223 226.8l-4.6-3.2l3.1 6.4l4.5-1.5z"/>
<path stroke="#f6ef20" fill="#fcfab3" d="M120.3 30.3l-4.5-3.2l3 1.7l4.6 4.9z"/>
<path stroke="#f6ef20" fill="#fcfab3" d="M123.4 33.7l-4.6-4.9l3.1 1.7l4.6 6.7z"/>
<path stroke="#f5e924" fill="#fcf8b5" d="M126.5 37.2l-4.6-6.7l3.1 1.7l4.5 8.5z"/>
<path stroke="#f5e327" fill="#fcf5b6" d="M129.5 40.7l-4.5-8.5l3 3l4.6 9.1z"/>
<path stroke="#f7dc2a" fill="#fcf3b7" d="M132.6 44.3l-4.6-9.1l3.1 3.5l4.6 9.3z"/>
<path stroke="#f7dc2a" fill="#fcf3b7" d="M135.7 48l-4.6-9.3l3.1 3.6l4.5 9.5z"/>
<path stroke="#fad62d" fill="#fdf1b8" d="M138.7 51.8l-4.5-9.5l3 3.7l4.6 9.7z"/>
<path stroke="#fccf30" fill="#feefb9" d="M141.8 55.7l-4.6-9.7l3.1 3.8l4.5 9.9z"/>
<path stroke="#fec934" fill="#ffedba" d="M144.8 59.7l-4.5-9.9l3.1 3.9l4.5 10.1z"/>
<path stroke="#fec338" fill="#ffebbb" d="M147.9 63.8l-4.5-10.1l3 4l4.6 10.3z"/>
<path stroke="#febe3c" fill="#ffe9bd" d="M151 68l-4.6-10.3l3.1 4.1l4.5 10.6z"/>
<path class="n" stroke="#f0ba36" d="M149.5 61.8l4.5 10.6"/>
<path stroke="#f0ba36" fill="#fae7bb" d="M154 72.4l-4.5-10.6l3.1 4.2l4.5 10.9z"/>
<path stroke="#e6bb2d" fill="#f7e8b8" d="M157.1 76.9l-4.5-10.9l3 4.4l4.6 11.1z"/>
<path stroke="#dcbd29" fill="#f3e9b6" d="M160.2 81.5l-4.6-11.1l3.1 4.5l4.5 11.4z"/>
<path stroke="#d1bf27" fill="#efe9b6" d="M163.2 86.3l-4.5-11.4l3 4.7l4.6 11.7z"/>
<path class="n" stroke="#b9c431" d="M161.7 79.6l4.6 11.7"/>
<path stroke="#b9c431" fill="#e7ebb9" d="M166.3 91.3l-4.6-11.7l3.1 4.9l4.6 11.9z"/>
<path stroke="#abc739" fill="#e3ecbc" d="M169.4 96.4l-4.6-11.9l3.1 5l4.5 12.3z"/>
<path class="n" stroke="#8fcb4e" d="M167.9 89.5l4.5 12.3"/>
<path stroke="#8fcb4e" fill="#d9edc3" d="M172.4 101.8l-4.5-12.3l3 5.3l4.6 12.5z"/>
<path class="n" stroke="#72cd64" d="M170.9 94.8l4.6 12.5"/>
<path stroke="#72cd64" fill="#cfeeca" d="M175.5 107.3l-4.6-12.5l3.1 5.4l4.6 12.9z"/>
<path stroke="#64cd6f" fill="#caeece" d="M178.6 113.1l-4.6-12.9l3.1 5.7l4.5 13.3z"/>
<path class="n" stroke="#4acb84" d="M177.1 105.9l4.5 13.3"/>
<path stroke="#4acb84" fill="#c1edd5" d="M181.6 119.2l-4.5-13.3l3 5.9l4.6 13.7z"/>
<path class="n" stroke="#37c897" d="M180.1 111.8l4.6 13.7"/>
<path stroke="#37c897" fill="#bbecdc" d="M184.7 125.5l-4.6-13.7l3.1 6.2l4.6 14.1z"/>
<path class="n" stroke="#2cc4a7" d="M183.2 118l4.6 14.1"/>
<path stroke="#2cc4a7" fill="#b7ebe1" d="M187.8 132.1l-4.6-14.1l3.1 6.6l4.5 14.5z"/>
<path class="n" stroke="#0bbdbd" d="M186.3 124.6l4.5 14.5"/>
<path stroke="#0bbdbd" fill="#ace9e8" d="M190.8 139.1l-4.5-14.5l3 6.8l4.6 15z"/>
<path class="n" stroke="#01b8ca" d="M189.3 131.4l4.6 15"/>
<path stroke="#01b8ca" fill="#a9e7ed" d="M193.9 146.4l-4.6-15l3.1 7.2l4.6 15.5z"/>
<path class="n" stroke="#18addb" d="M192.4 138.6l4.6 15.5"/>
<path stroke="#18addb" fill="#b1e3f3" d="M197 154.1l-4.6-15.5l3.1 7.6l4.5 16z"/>
<path class="n" stroke="#20a5e3" d="M195.5 146.2l4.5 16"/>
<path stroke="#20a5e3" fill="#b3e0f5" d="M200 162.2l-4.5-16l3 8.1l4.6 16.5z"/>
<path class="n" stroke="#2797eb" d="M198.5 154.3l4.6 16.5"/>
<path stroke="#2797eb" fill="#b6dbf8" d="M203.1 170.8l-4.6-16.5l3.1 8.6l4.5 17.1z"/>
<path class="n" stroke="#2f81fa" d="M201.6 162.9l4.5 17.1"/>
<path stroke="#2f81fa" fill="#b8d4fd" d="M206.1 180l-4.5-17.1l3.1 9.1l4.5 17.8z"/>
<path class="n" stroke="#3e6fff" d="M204.7 172l4.5 17.8"/>
<path stroke="#3e6fff" fill="#bdceff" d="M209.2 189.8l-4.5-17.8l3 9.8l4.6 18.4z"/>
<path class="n" stroke="#4758f8" d="M207.7 181.8l4.6 18.4"/>
<path stroke="#4758f8" fill="#c1c6fd" d="M212.3 200.2l-4.6-18.4l3.1 10.5l4.5 19.2z"/>
<path class="n" stroke="#4741e5" d="M210.8 192.3l4.5 19.2"/>
<path stroke="#4741e5" fill="#c0bef6" d="M215.3 211.5l-4.5-19.2l3.1 11.3l4.5 20z"/>
<path class="n" stroke="#422ec0" d="M213.9 203.6l4.5 20"/>
<path stroke="#422ec0" fill="#bfb8e9" d="M218.4 223.6l-4.5-20l3 12.2l4.6 14.2z"/>
<path class="n" stroke="#3e26a8" d="M216.9 215.8l4.6 14.2"/>
<path stroke="#3e26a8" fill="#bdb5e2" d="M221.5 230l-4.6-14.2l3.1 13.4l4.5 2.5z"/>
<path stroke="#3e26a8" fill="#bdb5e2" d="M224.5 231.7l-4.5-2.5l3 5.6l4.6-1.4z"/>
<path stroke="#f9fb15" fill="#fdfeaf" d="M125 32.2l-4.6 1.5l3.1 1.7l4.5-.2z"/>
<path stroke="#f9fb15" fill="#fdfeaf" d="M128 35.2l-4.5 .2l3 1.7l4.6 1.6z"/>
<path stroke="#f7f51b" fill="#fcfcb2" d="M131.1 38.7l-4.6-1.6l3.1 1.7l4.6 3.5z"/>
<path stroke="#f6ef20" fill="#fcfab3" d="M134.2 42.3l-4.6-3.5l3.1 1.7l4.5 5.5z"/>
<path stroke="#f6ef20" fill="#fcfab3" d="M137.2 46l-4.5-5.5l3 1.7l4.6 7.6z"/>
<path stroke="#f5e924" fill="#fcf8b5" d="M140.3 49.8l-4.6-7.6l3.1 1.7l4.6 9.8z"/>
<path stroke="#f5e327" fill="#fcf5b6" d="M143.4 53.7l-4.6-9.8l3.1 3.8l4.5 10z"/>
<path stroke="#f7dc2a" fill="#fcf3b7" d="M146.4 57.7l-4.5-10l3 3.8l4.6 10.3z"/>
<path stroke="#fad62d" fill="#fdf1b8" d="M149.5 61.8l-4.6-10.3l3.1 4.1l4.6 10.4z"/>
<path stroke="#fccf30" fill="#feefb9" d="M152.6 66l-4.6-10.4l3.1 4.1l4.5 10.7z"/>
<path class="n" stroke="#fec338" d="M151.1 59.7l4.5 10.7"/>
<path stroke="#fec338" fill="#ffebbb" d="M155.6 70.4l-4.5-10.7l3 4.3l4.6 10.9z"/>
<path stroke="#febe3c" fill="#ffe9bd" d="M158.7 74.9l-4.6-10.9l3.1 4.4l4.5 11.2z"/>
<path stroke="#f8ba3d" fill="#fde8bd" d="M161.7 79.6l-4.5-11.2l3.1 4.5l4.5 11.6z"/>
<path class="n" stroke="#e6bb2d" d="M160.3 72.9l4.5 11.6"/>
<path stroke="#e6bb2d" fill="#f7e8b8" d="M164.8 84.5l-4.5-11.6l3 4.8l4.6 11.8z"/>
<path stroke="#dcbd29" fill="#f3e9b6" d="M167.9 89.5l-4.6-11.8l3.1 4.9l4.5 12.2z"/>
<path stroke="#d1bf27" fill="#efe9b6" d="M170.9 94.8l-4.5-12.2l3 5.1l4.6 12.5z"/>
<path class="n" stroke="#b9c431" d="M169.4 87.7l4.6 12.5"/>
<path stroke="#b9c431" fill="#e7ebb9" d="M174 100.2l-4.6-12.5l3.1 5.3l4.6 12.9z"/>
<path class="n" stroke="#9dc943" d="M172.5 93l4.6 12.9"/>
<path stroke="#9dc943" fill="#deedbf" d="M177.1 105.9l-4.6-12.9l3.1 5.6l4.5 13.2z"/>
<path class="n" stroke="#81cc59" d="M175.6 98.6l4.5 13.2"/>
<path stroke="#81cc59" fill="#d4eec6" d="M180.1 111.8l-4.5-13.2l3 5.8l4.6 13.6z"/>
<path class="n" stroke="#64cd6f" d="M178.6 104.4l4.6 13.6"/>
<path stroke="#64cd6f" fill="#caeece" d="M183.2 118l-4.6-13.6l3.1 6.1l4.6 14.1z"/>
<path class="n" stroke="#4acb84" d="M181.7 110.5l4.6 14.1"/>
<path stroke="#4acb84" fill="#c1edd5" d="M186.3 124.6l-4.6-14.1l3.1 6.4l4.5 14.5z"/>
<path class="n" stroke="#37c897" d="M184.8 116.9l4.5 14.5"/>
<path stroke="#37c897" fill="#bbecdc" d="M189.3 131.4l-4.5-14.5l3 6.8l4.6 14.9z"/>
<path class="n" stroke="#2cc4a7" d="M187.8 123.7l4.6 14.9"/>
<path stroke="#2cc4a7" fill="#b7ebe1" d="M192.4 138.6l-4.6-14.9l3.1 7.1l4.6 15.4z"/>
<path class="n" stroke="#0bbdbd" d="M190.9 130.8l4.6 15.4"/>
<path stroke="#0bbdbd" fill="#ace9e8" d="M195.5 146.2l-4.6-15.4l3.1 7.5l4.5 16z"/>
<path class="n" stroke="#08b5d0" d="M194 138.3l4.5 16"/>
<path stroke="#08b5d0" fill="#abe6ef" d="M198.5 154.3l-4.5-16l3 8l4.6 16.6z"/>
<path class="n" stroke="#1ca9df" d="M197 146.3l4.6 16.6"/>
<path stroke="#1ca9df" fill="#b2e2f4" d="M201.6 162.9l-4.6-16.6l3.1 8.6l4.6 17.1z"/>
<path class="n" stroke="#259be8" d="M200.1 154.9l4.6 17.1"/>
<path stroke="#259be8" fill="#b5ddf7" d="M204.7 172l-4.6-17.1l3.1 9.1l4.5 17.8z"/>
<path class="n" stroke="#2d8cf3" d="M203.2 164l4.5 17.8"/>
<path stroke="#2d8cf3" fill="#b8d8fb" d="M207.7 181.8l-4.5-17.8l3 9.7l4.6 18.6z"/>
<path class="n" stroke="#3875fe" d="M206.2 173.7l4.6 18.6"/>
<path stroke="#3875fe" fill="#bbd0ff" d="M210.8 192.3l-4.6-18.6l3.1 10.6l4.6 19.3z"/>
<path class="n" stroke="#465efb" d="M209.3 184.3l4.6 19.3"/>
<path stroke="#465efb" fill="#c0c8fe" d="M213.9 203.6l-4.6-19.3l3.1 11.4l4.5 20.1z"/>
<path class="n" stroke="#4741e5" d="M212.4 195.7l4.5 20.1"/>
<path stroke="#4741e5" fill="#c0bef6" d="M216.9 215.8l-4.5-20.1l3 12.3l4.6 21.2z"/>
<path class="n" stroke="#402ab4" d="M215.4 208l4.6 21.2"/>
<path stroke="#402ab4" fill="#beb7e6" d="M220 229.2l-4.6-21.2l3.1 13.6l4.5 13.2z"/>
<path stroke="#3e26a8" fill="#bdb5e2" d="M223 234.8l-4.5-13.2l3.1 14.9l4.5 0z"/>
<path stroke="#3e26a8" fill="#bdb5e2" d="M226.1 236.5l-4.5 0l3 3.2l4.6-1.5z"/>
<path stroke="#f9fb15" fill="#fdfeaf" d="M138.8 43.9l-4.6 1.5l3.1 1.7l4.6 .6z"/>
<path stroke="#f9fb15" fill="#fdfeaf" d="M141.9 47.7l-4.6-.6l3.1 1.7l4.5 2.7z"/>
<path stroke="#f7f51b" fill="#fcfcb2" d="M144.9 51.5l-4.5-2.7l3 1.7l4.6 5.1z"/>
<path stroke="#f6ef20" fill="#fcfab3" d="M148 55.6l-4.6-5.1l3.1 1.7l4.6 7.5z"/>
<path stroke="#f5e924" fill="#fcf8b5" d="M151.1 59.7l-4.6-7.5l3.1 1.7l4.5 10.1z"/>
<path stroke="#f5e327" fill="#fcf5b6" d="M154.1 64l-4.5-10.1l3 3.6l4.6 10.9z"/>
<path class="n" stroke="#fad62d" d="M152.6 57.5l4.6 10.9"/>
<path stroke="#fad62d" fill="#fdf1b8" d="M157.2 68.4l-4.6-10.9l3.1 4.3l4.6 11.1z"/>
<path stroke="#fccf30" fill="#feefb9" d="M160.3 72.9l-4.6-11.1l3.1 4.4l4.5 11.5z"/>
<path stroke="#fec934" fill="#ffedba" d="M163.3 77.7l-4.5-11.5l3 4.6l4.6 11.8z"/>
<path class="n" stroke="#febe3c" d="M161.8 70.8l4.6 11.8"/>
<path stroke="#febe3c" fill="#ffe9bd" d="M166.4 82.6l-4.6-11.8l3.1 4.8l4.5 12.1z"/>
<path stroke="#f8ba3d" fill="#fde8bd" d="M169.4 87.7l-4.5-12.1l3.1 5l4.5 12.4z"/>
<path class="n" stroke="#e6bb2d" d="M168 80.6l4.5 12.4"/>
<path stroke="#e6bb2d" fill="#f7e8b8" d="M172.5 93l-4.5-12.4l3 5.2l4.6 12.8z"/>
<path stroke="#dcbd29" fill="#f3e9b6" d="M175.6 98.6l-4.6-12.8l3.1 5.5l4.5 13.1z"/>
<path class="n" stroke="#c5c22a" d="M174.1 91.3l4.5 13.1"/>
<path stroke="#c5c22a" fill="#ebeab7" d="M178.6 104.4l-4.5-13.1l3.1 5.7l4.5 13.5z"/>
<path class="n" stroke="#abc739" d="M177.2 97l4.5 13.5"/>
<path stroke="#abc739" fill="#e3ecbc" d="M181.7 110.5l-4.5-13.5l3 5.9l4.6 14z"/>
<path class="n" stroke="#8fcb4e" d="M180.2 102.9l4.6 14"/>
<path stroke="#8fcb4e" fill="#d9edc3" d="M184.8 116.9l-4.6-14l3.1 6.3l4.5 14.5z"/>
<path class="n" stroke="#72cd64" d="M183.3 109.2l4.5 14.5"/>
<path stroke="#72cd64" fill="#cfeeca" d="M187.8 123.7l-4.5-14.5l3 6.7l4.6 14.9z"/>
<path class="n" stroke="#4acb84" d="M186.3 115.9l4.6 14.9"/>
<path stroke="#4acb84" fill="#c1edd5" d="M190.9 130.8l-4.6-14.9l3.1 7l4.6 15.4z"/>
<path class="n" stroke="#37c897" d="M189.4 122.9l4.6 15.4"/>
<path stroke="#37c897" fill="#bbecdc" d="M194 138.3l-4.6-15.4l3.1 7.4l4.5 16z"/>
<path class="n" stroke="#24c1ae" d="M192.5 130.3l4.5 16"/>
<path stroke="#24c1ae" fill="#b5eae4" d="M197 146.3l-4.5-16l3 8l4.6 16.6z"/>
<path class="n" stroke="#02bac3" d="M195.5 138.3l4.6 16.6"/>
<path stroke="#02bac3" fill="#a9e8eb" d="M200.1 154.9l-4.6-16.6l3.1 8.4l4.6 17.3z"/>
<path class="n" stroke="#12b1d6" d="M198.6 146.7l4.6 17.3"/>
<path stroke="#12b1d6" fill="#aee5f1" d="M203.2 164l-4.6-17.3l3.1 9.1l4.5 17.9z"/>
<path class="n" stroke="#20a5e3" d="M201.7 155.8l4.5 17.9"/>
<path stroke="#20a5e3" fill="#b3e0f5" d="M206.2 173.7l-4.5-17.9l3 9.8l4.6 18.7z"/>
<path class="n" stroke="#2b91ef" d="M204.7 165.6l4.6 18.7"/>
<path stroke="#2b91ef" fill="#b7daf9" d="M209.3 184.3l-4.6-18.7l3.1 10.5l4.6 19.6z"/>
<path class="n" stroke="#327cfc" d="M207.8 176.1l4.6 19.6"/>
<path stroke="#327cfc" fill="#b9d2fe" d="M212.4 195.7l-4.6-19.6l3.1 11.5l4.5 20.4z"/>
<path class="n" stroke="#465efb" d="M210.9 187.6l4.5 20.4"/>
<path stroke="#465efb" fill="#c0c8fe" d="M215.4 208l-4.5-20.4l3 12.6l4.6 21.4z"/>
<path class="n" stroke="#4741e5" d="M213.9 200.2l4.6 21.4"/>
<path stroke="#4741e5" fill="#c0bef6" d="M218.5 221.6l-4.6-21.4l3.1 13.7l4.6 22.6z"/>
<path class="n" stroke="#3e26a8" d="M217 213.9l4.6 22.6"/>
<path stroke="#3e26a8" fill="#bdb5e2" d="M221.6 236.5l-4.6-22.6l3.1 15.3l4.5 10.5z"/>
<path stroke="#3e26a8" fill="#bdb5e2" d="M224.6 239.7l-4.5-10.5l3 13.7l4.6-1.5z"/>
<path stroke="#f9fb15" fill="#fdfeaf" d="M149.6 53.9l-4.6 1.5l3.1 1.7l4.5 .4z"/>
<path stroke="#f9fb15" fill="#fdfeaf" d="M152.6 57.5l-4.5-.4l3 1.7l4.6 3z"/>
<path stroke="#f7f51b" fill="#fcfcb2" d="M155.7 61.8l-4.6-3l3.1 1.7l4.6 5.7z"/>
<path class="n" stroke="#f5e924" d="M154.2 60.5l4.6 5.7"/>
<path stroke="#f5e924" fill="#fcf8b5" d="M158.8 66.2l-4.6-5.7l3.1 1.7l4.5 8.6z"/>
<path stroke="#f5e327" fill="#fcf5b6" d="M161.8 70.8l-4.5-8.6l3 1.8l4.6 11.6z"/>
<path stroke="#f7dc2a" fill="#fcf3b7" d="M164.9 75.6l-4.6-11.6l3.1 4.6l4.6 12z"/>
<path class="n" stroke="#fccf30" d="M163.4 68.6l4.6 12"/>
<path stroke="#fccf30" fill="#feefb9" d="M168 80.6l-4.6-12l3.1 4.9l4.5 12.3z"/>
<path stroke="#fec934" fill="#ffedba" d="M171 85.8l-4.5-12.3l3 5.1l4.6 12.7z"/>
<path class="n" stroke="#febe3c" d="M169.5 78.6l4.6 12.7"/>
<path stroke="#febe3c" fill="#ffe9bd" d="M174.1 91.3l-4.6-12.7l3.1 5.3l4.6 13.1z"/>
<path stroke="#f8ba3d" fill="#fde8bd" d="M177.2 97l-4.6-13.1l3.1 5.5l4.5 13.5z"/>
<path class="n" stroke="#e6bb2d" d="M175.7 89.4l4.5 13.5"/>
<path stroke="#e6bb2d" fill="#f7e8b8" d="M180.2 102.9l-4.5-13.5l3 5.9l4.6 13.9z"/>
<path class="n" stroke="#d1bf27" d="M178.7 95.3l4.6 13.9"/>
<path stroke="#d1bf27" fill="#efe9b6" d="M183.3 109.2l-4.6-13.9l3.1 6.2l4.5 14.4z"/>
<path class="n" stroke="#b9c431" d="M181.8 101.5l4.5 14.4"/>
<path stroke="#b9c431" fill="#e7ebb9" d="M186.3 115.9l-4.5-14.4l3.1 6.5l4.5 14.9z"/>
<path class="n" stroke="#8fcb4e" d="M184.9 108l4.5 14.9"/>
<path stroke="#8fcb4e" fill="#d9edc3" d="M189.4 122.9l-4.5-14.9l3 6.9l4.6 15.4z"/>
<path class="n" stroke="#72cd64" d="M187.9 114.9l4.6 15.4"/>
<path stroke="#72cd64" fill="#cfeeca" d="M192.5 130.3l-4.6-15.4l3.1 7.4l4.5 16z"/>
<path class="n" stroke="#4acb84" d="M191 122.3l4.5 16"/>
<path stroke="#4acb84" fill="#c1edd5" d="M195.5 138.3l-4.5-16l3 7.8l4.6 16.6z"/>
<path class="n" stroke="#31c69f" d="M194 130.1l4.6 16.6"/>
<path stroke="#31c69f" fill="#b9ecde" d="M198.6 146.7l-4.6-16.6l3.1 8.4l4.6 17.3z"/>
<path class="n" stroke="#19bfb6" d="M197.1 138.5l4.6 17.3"/>
<path stroke="#19bfb6" fill="#b1e9e6" d="M201.7 155.8l-4.6-17.3l3.1 9l4.5 18.1z"/>
<path class="n" stroke="#08b5d0" d="M200.2 147.5l4.5 18.1"/>
<path stroke="#08b5d0" fill="#abe6ef" d="M204.7 165.6l-4.5-18.1l3 9.8l4.6 18.8z"/>
<path class="n" stroke="#1ca9df" d="M203.2 157.3l4.6 18.8"/>
<path stroke="#1ca9df" fill="#b2e2f4" d="M207.8 176.1l-4.6-18.8l3.1 10.6l4.6 19.7z"/>
<path class="n" stroke="#2b91ef" d="M206.3 167.9l4.6 19.7"/>
<path stroke="#2b91ef" fill="#b7daf9" d="M210.9 187.6l-4.6-19.7l3.1 11.6l4.5 20.7z"/>
<path class="n" stroke="#327cfc" d="M209.4 179.5l4.5 20.7"/>
<path stroke="#327cfc" fill="#b9d2fe" d="M213.9 200.2l-4.5-20.7l3 12.7l4.6 21.7z"/>
<path class="n" stroke="#465efb" d="M212.4 192.2l4.6 21.7"/>
<path stroke="#465efb" fill="#c0c8fe" d="M217 213.9l-4.6-21.7l3.1 14.1l4.6 22.9z"/>
<path class="n" stroke="#463cde" d="M215.5 206.3l4.6 22.9"/>
<path stroke="#463cde" fill="#c0bdf4" d="M220.1 229.2l-4.6-22.9l3.1 15.7l4.5 20.9z"/>
<path class="n" stroke="#3e26a8" d="M218.6 222l4.5 20.9"/>
<path stroke="#3e26a8" fill="#bdb5e2" d="M223.1 242.9l-4.5-20.9l3 17.7l4.6 4.9z"/>
<path stroke="#3e26a8" fill="#bdb5e2" d="M226.2 244.6l-4.6-4.9l3.1 8.1l4.6-1.5z"/>
<path stroke="#f9fb15" fill="#fdfeaf" d="M157.3 62.2l-4.6 1.5l3.1 1.7l4.5-1.4z"/>
<path stroke="#f9fb15" fill="#fdfeaf" d="M160.3 64l-4.5 1.4l3 1.7l4.6 1.5z"/>
<path stroke="#f7f51b" fill="#fcfcb2" d="M163.4 68.6l-4.6-1.5l3.1 1.7l4.6 4.7z"/>
<path stroke="#f6ef20" fill="#fcfab3" d="M166.5 73.5l-4.6-4.7l3.1 1.7l4.5 8.1z"/>
<path class="n" stroke="#f5e327" d="M165 70.5l4.5 8.1"/>
<path stroke="#f5e327" fill="#fcf5b6" d="M169.5 78.6l-4.5-8.1l3 1.7l4.6 11.7z"/>
<path stroke="#f7dc2a" fill="#fcf3b7" d="M172.6 83.9l-4.6-11.7l3.1 4.3l4.6 12.9z"/>
<path class="n" stroke="#fccf30" d="M171.1 76.5l4.6 12.9"/>
<path stroke="#fccf30" fill="#feefb9" d="M175.7 89.4l-4.6-12.9l3.1 5.4l4.5 13.4z"/>
<path class="n" stroke="#fec338" d="M174.2 81.9l4.5 13.4"/>
<path stroke="#fec338" fill="#ffebbb" d="M178.7 95.3l-4.5-13.4l3 5.7l4.6 13.9z"/>
<path class="n" stroke="#f8ba3d" d="M177.2 87.6l4.6 13.9"/>
<path stroke="#f8ba3d" fill="#fde8bd" d="M181.8 101.5l-4.6-13.9l3.1 6.1l4.6 14.3z"/>
<path class="n" stroke="#e6bb2d" d="M180.3 93.7l4.6 14.3"/>
<path stroke="#e6bb2d" fill="#f7e8b8" d="M184.9 108l-4.6-14.3l3.1 6.4l4.5 14.8z"/>
<path class="n" stroke="#d1bf27" d="M183.4 100.1l4.5 14.8"/>
<path stroke="#d1bf27" fill="#efe9b6" d="M187.9 114.9l-4.5-14.8l3 6.8l4.6 15.4z"/>
<path class="n" stroke="#b9c431" d="M186.4 106.9l4.6 15.4"/>
<path stroke="#b9c431" fill="#e7ebb9" d="M191 122.3l-4.6-15.4l3.1 7.2l4.5 16z"/>
<path class="n" stroke="#8fcb4e" d="M189.5 114.1l4.5 16"/>
<path stroke="#8fcb4e" fill="#d9edc3" d="M194 130.1l-4.5-16l3.1 7.8l4.5 16.6z"/>
<path class="n" stroke="#64cd6f" d="M192.6 121.9l4.5 16.6"/>
<path stroke="#64cd6f" fill="#caeece" d="M197.1 138.5l-4.5-16.6l3 8.3l4.6 17.3z"/>
<path class="n" stroke="#3fca8e" d="M195.6 130.2l4.6 17.3"/>
<path stroke="#3fca8e" fill="#beedd9" d="M200.2 147.5l-4.6-17.3l3.1 9l4.5 18.1z"/>
<path class="n" stroke="#24c1ae" d="M198.7 139.2l4.5 18.1"/>
<path stroke="#24c1ae" fill="#b5eae4" d="M203.2 157.3l-4.5-18.1l3.1 9.7l4.5 19z"/>
<path class="n" stroke="#02bac3" d="M201.8 148.9l4.5 19"/>
<path stroke="#02bac3" fill="#a9e8eb" d="M206.3 167.9l-4.5-19l3 10.7l4.6 19.9z"/>
<path class="n" stroke="#1ca9df" d="M204.8 159.6l4.6 19.9"/>
<path stroke="#1ca9df" fill="#b2e2f4" d="M209.4 179.5l-4.6-19.9l3.1 11.7l4.5 20.9z"/>
<path class="n" stroke="#2797eb" d="M207.9 171.3l4.5 20.9"/>
<path stroke="#2797eb" fill="#b6dbf8" d="M212.4 192.2l-4.5-20.9l3 12.9l4.6 22.1z"/>
<path class="n" stroke="#3875fe" d="M210.9 184.2l4.6 22.1"/>
<path stroke="#3875fe" fill="#bbd0ff" d="M215.5 206.3l-4.6-22.1l3.1 14.4l4.6 23.4z"/>
<path class="n" stroke="#4852f4" d="M214 198.6l4.6 23.4"/>
<path stroke="#4852f4" fill="#c1c4fb" d="M218.6 222l-4.6-23.4l3.1 16.2l4.5 24.9z"/>
<path class="n" stroke="#422ec0" d="M217.1 214.8l4.5 24.9"/>
<path stroke="#422ec0" fill="#bfb8e9" d="M221.6 239.7l-4.5-24.9l3 18.5l4.6 14.5z"/>
<path class="n" stroke="#3e26a8" d="M220.1 233.3l4.6 14.5"/>
<path stroke="#f9fb15" fill="#fdfeaf" d="M168 72.2l-4.5 1.5l3 1.7l4.6 1.1z"/>
<path stroke="#f7f51b" fill="#fcfcb2" d="M171.1 76.5l-4.6-1.1l3.1 1.7l4.6 4.8z"/>
<path stroke="#f6ef20" fill="#fcfab3" d="M174.2 81.9l-4.6-4.8l3.1 1.7l4.5 8.8z"/>
<path class="n" stroke="#f5e327" d="M172.7 78.8l4.5 8.8"/>
<path stroke="#f5e327" fill="#fcf5b6" d="M177.2 87.6l-4.5-8.8l3 1.7l4.6 13.2z"/>
<path class="n" stroke="#fad62d" d="M175.7 80.5l4.6 13.2"/>
<path stroke="#fad62d" fill="#fdf1b8" d="M180.3 93.7l-4.6-13.2l3.1 5.3l4.6 14.3z"/>
<path class="n" stroke="#fec934" d="M178.8 85.8l4.6 14.3"/>
<path stroke="#fec934" fill="#ffedba" d="M183.4 100.1l-4.6-14.3l3.1 6.3l4.5 14.8z"/>
<path class="n" stroke="#febe3c" d="M181.9 92.1l4.5 14.8"/>
<path stroke="#febe3c" fill="#ffe9bd" d="M186.4 106.9l-4.5-14.8l3 6.7l4.6 15.3z"/>
<path class="n" stroke="#f0ba36" d="M184.9 98.8l4.6 15.3"/>
<path stroke="#f0ba36" fill="#fae7bb" d="M189.5 114.1l-4.6-15.3l3.1 7.1l4.6 16z"/>
<path class="n" stroke="#d1bf27" d="M188 105.9l4.6 16"/>
<path stroke="#d1bf27" fill="#efe9b6" d="M192.6 121.9l-4.6-16l3.1 7.6l4.5 16.7z"/>
<path class="n" stroke="#abc739" d="M191.1 113.5l4.5 16.7"/>
<path stroke="#abc739" fill="#e3ecbc" d="M195.6 130.2l-4.5-16.7l3 8.3l4.6 17.4z"/>
<path class="n" stroke="#81cc59" d="M194.1 121.8l4.6 17.4"/>
<path stroke="#81cc59" fill="#d4eec6" d="M198.7 139.2l-4.6-17.4l3.1 8.9l4.6 18.2z"/>
<path class="n" stroke="#4acb84" d="M197.2 130.7l4.6 18.2"/>
<path stroke="#4acb84" fill="#c1edd5" d="M201.8 148.9l-4.6-18.2l3.1 9.8l4.5 19.1z"/>
<path class="n" stroke="#31c69f" d="M200.3 140.5l4.5 19.1"/>
<path stroke="#31c69f" fill="#b9ecde" d="M204.8 159.6l-4.5-19.1l3 10.7l4.6 20.1z"/>
<path class="n" stroke="#02bac3" d="M203.3 151.2l4.6 20.1"/>
<path stroke="#02bac3" fill="#a9e8eb" d="M207.9 171.3l-4.6-20.1l3.1 11.8l4.5 21.2z"/>
<path class="n" stroke="#1ca9df" d="M206.4 163l4.5 21.2"/>
<path stroke="#1ca9df" fill="#b2e2f4" d="M210.9 184.2l-4.5-21.2l3.1 13.2l4.5 22.4z"/>
<path class="n" stroke="#2b91ef" d="M209.5 176.2l4.5 22.4"/>
<path stroke="#2b91ef" fill="#b7daf9" d="M214 198.6l-4.5-22.4l3 14.8l4.6 23.8z"/>
<path class="n" stroke="#3e6fff" d="M212.5 191l4.6 23.8"/>
<path stroke="#3e6fff" fill="#bdceff" d="M217.1 214.8l-4.6-23.8l3.1 16.8l4.5 25.5z"/>
<path class="n" stroke="#4741e5" d="M215.6 207.8l4.5 25.5"/>
<path stroke="#f9fb15" fill="#fdfeaf" d="M175.7 80.5l-4.5 1.5l3 1.7l4.6 2.1z"/>
<path stroke="#f7f51b" fill="#fcfcb2" d="M178.8 85.8l-4.6-2.1l3.1 1.7l4.6 6.7z"/>
<path class="n" stroke="#f5e924" d="M177.3 85.4l4.6 6.7"/>
<path stroke="#f5e924" fill="#fcf8b5" d="M181.9 92.1l-4.6-6.7l3.1 1.7l4.5 11.7z"/>
<path class="n" stroke="#f7dc2a" d="M180.4 87.1l4.5 11.7"/>
<path stroke="#f7dc2a" fill="#fcf3b7" d="M184.9 98.8l-4.5-11.7l3 3.5l4.6 15.3z"/>
<path class="n" stroke="#fec934" d="M183.4 90.6l4.6 15.3"/>
<path stroke="#fec934" fill="#ffedba" d="M188 105.9l-4.6-15.3l3.1 7l4.6 15.9z"/>
<path class="n" stroke="#febe3c" d="M186.5 97.6l4.6 15.9"/>
<path stroke="#febe3c" fill="#ffe9bd" d="M191.1 113.5l-4.6-15.9l3.1 7.6l4.5 16.6z"/>
<path class="n" stroke="#e6bb2d" d="M189.6 105.2l4.5 16.6"/>
<path stroke="#e6bb2d" fill="#f7e8b8" d="M194.1 121.8l-4.5-16.6l3 8.2l4.6 17.3z"/>
<path class="n" stroke="#c5c22a" d="M192.6 113.4l4.6 17.3"/>
<path stroke="#c5c22a" fill="#ebeab7" d="M197.2 130.7l-4.6-17.3l3.1 8.9l4.6 18.2z"/>
<path class="n" stroke="#8fcb4e" d="M195.7 122.3l4.6 18.2"/>
<path stroke="#8fcb4e" fill="#d9edc3" d="M200.3 140.5l-4.6-18.2l3.1 9.7l4.5 19.2z"/>
<path class="n" stroke="#64cd6f" d="M198.8 132l4.5 19.2"/>
<path stroke="#64cd6f" fill="#caeece" d="M203.3 151.2l-4.5-19.2l3 10.8l4.6 20.2z"/>
<path class="n" stroke="#31c69f" d="M201.8 142.8l4.6 20.2"/>
<path stroke="#31c69f" fill="#b9ecde" d="M206.4 163l-4.6-20.2l3.1 11.9l4.6 21.5z"/>
<path class="n" stroke="#02bac3" d="M204.9 154.7l4.6 21.5"/>
<path stroke="#02bac3" fill="#a9e8eb" d="M209.5 176.2l-4.6-21.5l3.1 13.5l4.5 22.8z"/>
<path class="n" stroke="#1ca9df" d="M208 168.2l4.5 22.8"/>
<path stroke="#1ca9df" fill="#b2e2f4" d="M212.5 191l-4.5-22.8l3 15.3l4.6 24.3z"/>
<path class="n" stroke="#2e87f7" d="M211 183.5l4.6 24.3"/>
<path stroke="#f9fb15" fill="#fdfeaf" d="M180.4 87.1l-4.6 1.4l3.1 1.7l4.5 .4z"/>
<path stroke="#f9fb15" fill="#fdfeaf" d="M183.4 90.6l-4.5-.4l3.1 1.7l4.5 5.7z"/>
<path class="n" stroke="#f5e924" d="M182 91.9l4.5 5.7"/>
<path stroke="#f5e924" fill="#fcf8b5" d="M186.5 97.6l-4.5-5.7l3 1.7l4.6 11.6z"/>
<path class="n" stroke="#f7dc2a" d="M185 93.6l4.6 11.6"/>
<path stroke="#f7dc2a" fill="#fcf3b7" d="M189.6 105.2l-4.6-11.6l3.1 3.2l4.5 16.6z"/>
<path class="n" stroke="#fec934" d="M188.1 96.8l4.5 16.6"/>
<path stroke="#fec934" fill="#ffedba" d="M192.6 113.4l-4.5-16.6l3 8.1l4.6 17.4z"/>
<path class="n" stroke="#f8ba3d" d="M191.1 104.9l4.6 17.4"/>
<path stroke="#f8ba3d" fill="#fde8bd" d="M195.7 122.3l-4.6-17.4l3.1 8.8l4.6 18.3z"/>
<path class="n" stroke="#d1bf27" d="M194.2 113.7l4.6 18.3"/>
<path stroke="#d1bf27" fill="#efe9b6" d="M198.8 132l-4.6-18.3l3.1 9.8l4.5 19.3z"/>
<path class="n" stroke="#abc739" d="M197.3 123.5l4.5 19.3"/>
<path stroke="#abc739" fill="#e3ecbc" d="M201.8 142.8l-4.5-19.3l3 10.8l4.6 20.4z"/>
<path class="n" stroke="#64cd6f" d="M200.3 134.3l4.6 20.4"/>
<path stroke="#64cd6f" fill="#caeece" d="M204.9 154.7l-4.6-20.4l3.1 12.2l4.6 21.7z"/>
<path class="n" stroke="#31c69f" d="M203.4 146.5l4.6 21.7"/>
<path stroke="#31c69f" fill="#b9ecde" d="M208 168.2l-4.6-21.7l3.1 13.8l4.5 23.2z"/>
<path class="n" stroke="#01b8ca" d="M206.5 160.3l4.5 23.2"/>
<path stroke="#f9fb15" fill="#fdfeaf" d="M185 93.6l-4.5 1.5l3 1.7l4.6 0z"/>
<path stroke="#f9fb15" fill="#fdfeaf" d="M188.1 96.8l-4.6 0l3.1 1.7l4.5 6.4z"/>
<path class="n" stroke="#f5e924" d="M186.6 98.5l4.5 6.4"/>
<path stroke="#f5e924" fill="#fcf8b5" d="M191.1 104.9l-4.5-6.4l3.1 1.7l4.5 13.5z"/>
<path class="n" stroke="#fad62d" d="M189.7 100.2l4.5 13.5"/>
<path stroke="#fad62d" fill="#fdf1b8" d="M194.2 113.7l-4.5-13.5l3 5l4.6 18.3z"/>
<path class="n" stroke="#fec338" d="M192.7 105.2l4.6 18.3"/>
<path stroke="#fec338" fill="#ffebbb" d="M197.3 123.5l-4.6-18.3l3.1 9.8l4.5 19.3z"/>
<path class="n" stroke="#e6bb2d" d="M195.8 115l4.5 19.3"/>
<path stroke="#e6bb2d" fill="#f7e8b8" d="M200.3 134.3l-4.5-19.3l3 10.9l4.6 20.6z"/>
<path class="n" stroke="#abc739" d="M198.8 125.9l4.6 20.6"/>
<path stroke="#abc739" fill="#e3ecbc" d="M203.4 146.5l-4.6-20.6l3.1 12.3l4.6 22.1z"/>
<path class="n" stroke="#64cd6f" d="M201.9 138.2l4.6 22.1"/>
<path stroke="#f9fb15" fill="#fdfeaf" d="M189.7 100.2l-4.6 1.5l3.1 1.7l4.5 1.8z"/>
<path stroke="#f7f51b" fill="#fcfcb2" d="M192.7 105.2l-4.5-1.8l3 1.7l4.6 9.9z"/>
<path class="n" stroke="#f5e327" d="M191.2 105.1l4.6 9.9"/>
<path stroke="#f5e327" fill="#fcf5b6" d="M195.8 115l-4.6-9.9l3.1 1.7l4.5 19.1z"/>
<path class="n" stroke="#fec934" d="M194.3 106.8l4.5 19.1"/>
<path stroke="#fec934" fill="#ffedba" d="M198.8 125.9l-4.5-19.1l3.1 10.7l4.5 20.7z"/>
<path class="n" stroke="#e6bb2d" d="M197.4 117.5l4.5 20.7"/>
<path stroke="#f9fb15" fill="#fdfeaf" d="M194.3 106.8l-4.6 1.5l3.1 1.7l4.6 7.5z"/>
<path class="n" stroke="#f5e924" d="M192.8 110l4.6 7.5"/>
</g>
<path stroke="none" fill="#fcfd8a" d="M160.9 120.4L192.8 110L189.7 108.3L157.8 118.7zM157.8 118.7L194.3 106.8L191.2 105.1L154.8 117zM154.8 117L191.2 105.1L188.2 103.4L151.7 115.3zM151.7 115.3L188.2 103.4L185.1 101.7L148.6 113.6zM148.6 113.6L189.7 100.2L186.6 98.5L145.6 111.9zM145.6 111.9L186.6 98.5L183.5 96.8L142.5 110.2zM142.5 110.2L183.5 96.8L180.5 95.1L139.4 108.5zM139.4 108.5L185 93.6L182 91.9L136.4 106.8zM136.4 106.8L182 91.9L178.9 90.2L133.3 105.1zM133.3 105.1L178.9 90.2L175.8 88.5L130.2 103.4zM130.2 103.4L180.4 87.1L177.3 85.4L127.2 101.7zM127.2 101.7L177.3 85.4L174.2 83.7L124.1 100zM124.1 100L174.2 83.7L171.2 82L121.1 98.3zM121.1 98.3L175.7 80.5L172.7 78.8L118 96.6zM118 96.6L172.7 78.8L169.6 77.1L114.9 94.9zM114.9 94.9L169.6 77.1L166.5 75.4L111.9 93.2zM111.9 93.2L166.5 75.4L163.5 73.7L108.8 91.5zM108.8 91.5L168 72.2L165 70.5L105.7 89.8zM105.7 89.8L165 70.5L161.9 68.8L102.7 88.1zM102.7 88.1L161.9 68.8L158.8 67.1L99.6 86.4zM99.6 86.4L158.8 67.1L155.8 65.4L96.5 84.7zM96.5 84.7L155.8 65.4L152.7 63.7L93.5 83zM93.5 83L157.3 62.2L154.2 60.5L90.4 81.3zM90.4 81.3L154.2 60.5L151.1 58.8L87.3 79.6zM87.3 79.6L151.1 58.8L148.1 57.1L84.3 77.9zM84.3 77.9L148.1 57.1L145 55.4L81.2 76.2zM81.2 76.2L149.6 53.9L146.5 52.2L78.1 74.5zM78.1 74.5L146.5 52.2L143.4 50.5L75.1 72.8zM75.1 72.8L143.4 50.5L140.4 48.8L72 71.1zM72 71.1L140.4 48.8L137.3 47.1L68.9 69.4zM68.9 69.4L137.3 47.1L134.2 45.4L65.9 67.7zM65.9 67.7L138.8 43.9L135.7 42.2L62.8 66zM62.8 66L135.7 42.2L132.7 40.5L59.8 64.3zM59.8 64.3L132.7 40.5L129.6 38.8L56.7 62.6zM56.7 62.6L129.6 38.8L126.5 37.1L53.6 60.9zM53.6 60.9L126.5 37.1L123.5 35.4L50.6 59.2zM50.6 59.2L123.5 35.4L120.4 33.7L47.5 57.5zM47.5 57.5L125 32.2L121.9 30.5L44.4 55.8zM44.4 55.8L121.9 30.5L118.8 28.8L41.4 54.1zM41.4 54.1L118.8 28.8L115.8 27.1L38.3 52.4z"/>
<path class="n" stroke-width=".5" stroke="#f9fb15" d="M160.9 120.4L38.3 52.4M163.2 119.7L40.6 51.7M165.5 118.9L42.9 50.9M167.7 118.2L45.1 50.2M170 117.4L47.4 49.4M172.3 116.7L49.7 48.7M174.6 115.9L52 47.9M176.8 115.2L54.2 47.2M179.1 114.5L56.5 46.5M181.4 113.7L58.8 45.7M183.7 113L61.1 45M186 112.2L63.4 44.2M188.2 111.5L65.6 43.5M190.5 110.7L67.9 42.7M192.8 110L70.2 42M192 107.6L72.5 41.3M194.3 106.8L74.8 40.5M187.4 101L77 39.8M189.7 100.2L79.3 39M182.7 94.4L81.6 38.3M185 93.6L83.9 37.5M178.1 87.8L86.1 36.8M180.4 87.1L88.4 36.1M173.5 81.2L90.7 35.3M175.7 80.5L93 34.6M165.8 72.9L95.3 33.8M168 72.2L97.5 33.1M155 62.9L99.8 32.3M157.3 62.2L102.1 31.6M147.3 54.7L104.4 30.9M149.6 53.9L106.7 30.1M136.5 44.7L108.9 29.4M138.8 43.9L111.2 28.6M122.7 33L113.5 27.9M125 32.2L115.8 27.1"/>
<path class="n" stroke-width=".85" stroke="#f9fb15" d="M160.9 120.4L192.8 110M157.8 118.7L194.3 106.8M154.8 117L191.2 105.1M151.7 115.3L188.2 103.4M148.6 113.6L189.7 100.2M145.6 111.9L186.6 98.5M142.5 110.2L183.5 96.8M139.4 108.5L185 93.6M136.4 106.8L182 91.9M133.3 105.1L178.9 90.2M130.2 103.4L180.4 87.1M127.2 101.7L177.3 85.4M124.1 100L174.2 83.7M121.1 98.3L175.7 80.5M118 96.6L172.7 78.8M114.9 94.9L169.6 77.1M111.9 93.2L166.5 75.4M108.8 91.5L168 72.2M105.7 89.8L165 70.5M102.7 88.1L161.9 68.8M99.6 86.4L158.8 67.1M96.5 84.7L155.8 65.4M93.5 83L157.3 62.2M90.4 81.3L154.2 60.5M87.3 79.6L151.1 58.8M84.3 77.9L148.1 57.1M81.2 76.2L149.6 53.9M78.1 74.5L146.5 52.2M75.1 72.8L143.4 50.5M72 71.1L140.4 48.8M68.9 69.4L137.3 47.1M65.9 67.7L138.8 43.9M62.8 66L135.7 42.2M59.8 64.3L132.7 40.5M56.7 62.6L129.6 38.8M53.6 60.9L126.5 37.1M50.6 59.2L123.5 35.4M47.5 57.5L125 32.2M44.4 55.8L121.9 30.5M41.4 54.1L118.8 28.8M38.3 52.4L115.8 27.1"/>
</g>
<path d="M570.1 253.7L448 185.5M448 185.5L448 37.5M615.8 238.9L493.7 170.7M493.7 170.7L493.7 22.7M661.5 224L539.4 155.8M539.4 155.8L539.4 7.8M493.9 251.6L653.8 199.6M653.8 199.6L653.8 51.6M463.4 234.5L623.2 182.5M623.2 182.5L623.2 34.5M432.8 217.5L592.7 165.5M592.7 165.5L592.7 17.5M402.3 151.1L562.2 99.1M562.2 99.1L684.3 167.3M402.3 101.7L562.2 49.7M562.2 49.7L684.3 117.9" stroke="#dcdcdc" stroke-width=".8" fill="none"/>
<path d="M402.3 200.4L402.3 52.4M402.3 52.4L562.2 .4M562.2 148.4L562.2 .4M684.3 216.6L684.3 68.6M562.2 .4L684.3 68.6M402.3 200.4L398.3 198.2M402.3 151.1L398.3 148.8M402.3 101.7L398.3 99.5M402.3 52.4L398.3 50.2M524.4 268.6L520 270M493.9 251.6L489.5 253M463.4 234.5L459 235.9M432.8 217.5L428.5 218.9M402.3 200.4L397.9 201.8M524.4 268.6L528.4 270.8M570.1 253.7L574.1 256M615.8 238.9L619.8 241.1M661.5 224L665.5 226.3" stroke="#3a3a3a" stroke-width=".9" fill="none"/>
<g fill="#fff" stroke-width=".65" stroke-linejoin="round">
<path stroke="none" fill="#9e93d4" d="M592.9 246.3L684.3 216.6L681.2 214.9L589.9 244.6zM594.4 243.1L681.2 214.9L678.2 213.2L591.4 241.4zM591.4 241.4L678.2 213.2L675.1 211.5L588.3 239.7zM592.9 238.2L675.1 211.5L672.1 209.8L589.9 236.5zM589.9 236.5L672.1 209.8L669 208.1L586.8 234.8zM591.4 233.3L669 208.1L666 206.4L588.3 231.6zM588.3 231.6L666 206.4L662.9 204.7L585.3 229.9zM589.8 228.4L662.9 204.7L659.9 203L586.8 226.7zM591.4 225.2L659.9 203L656.8 201.3L588.3 223.5zM588.3 223.5L656.8 201.3L653.8 199.6L585.2 221.8zM585.2 221.8L653.8 199.6L650.7 197.8L582.2 220.1zM586.8 218.6L650.7 197.8L647.7 196.1L583.7 216.9zM583.7 216.9L647.7 196.1L644.6 194.4L580.7 215.2zM585.2 213.7L644.6 194.4L641.6 192.7L582.2 212zM582.2 212L641.6 192.7L638.5 191L579.1 210.3zM583.7 208.9L638.5 191L635.5 189.3L580.6 207.1zM580.6 207.1L635.5 189.3L632.4 187.6L577.6 205.4zM582.2 204L632.4 187.6L629.4 185.9L579.1 202.3zM579.1 202.3L629.4 185.9L626.3 184.2L576 200.5zM576 200.5L626.3 184.2L623.2 182.5L573 198.8zM577.6 197.4L623.2 182.5L620.2 180.8L574.5 195.7zM574.5 195.7L620.2 180.8L617.1 179.1L571.5 193.9zM576 192.5L617.1 179.1L614.1 177.4L573 190.8zM573 190.8L614.1 177.4L611 175.7L569.9 189.1zM569.9 189.1L611 175.7L608 174L566.9 187.3zM571.4 185.9L608 174L604.9 172.3L568.4 184.2zM568.4 184.2L604.9 172.3L601.9 170.6L565.3 182.5zM565.3 182.5L601.9 170.6L598.8 168.9L562.3 180.7zM566.9 179.3L598.8 168.9L595.8 167.2L563.8 177.6zM563.8 177.6L595.8 167.2L592.7 165.5L560.7 175.9zM560.7 175.9L592.7 165.5L589.7 163.7L557.7 174.1zM562.3 172.7L589.7 163.7L586.6 162L559.2 171zM559.2 171L586.6 162L583.6 160.3L556.2 169.2zM556.2 169.2L583.6 160.3L580.5 158.6L553.1 167.5zM557.7 166.1L580.5 158.6L577.5 156.9L554.6 164.4zM554.6 164.4L577.5 156.9L574.4 155.2L551.6 162.6zM551.6 162.6L574.4 155.2L571.4 153.5L548.5 160.9zM553.1 159.5L571.4 153.5L568.3 151.8L550 157.8zM550 157.8L568.3 151.8L565.3 150.1L547 156zM547 156L565.3 150.1L562.2 148.4L543.9 154.3z"/>
<path class="n" stroke-width=".5" stroke="#3e26a8" d="M592.9 246.3L589.9 244.6M595.2 245.6L592.2 243.9M597.5 244.8L588.3 239.7M599.8 244.1L590.6 239M602.1 243.3L586.8 234.8M604.3 242.6L589.1 234.1M606.6 241.9L585.3 229.9M608.9 241.1L587.6 229.2M611.2 240.4L586.8 226.7M613.5 239.6L589.1 226M615.8 238.9L582.2 220.1M618.1 238.1L584.5 219.4M620.3 237.4L580.7 215.2M622.6 236.7L582.9 214.5M624.9 235.9L579.1 210.3M627.2 235.2L581.4 209.6M629.5 234.4L577.6 205.4M631.8 233.7L579.9 204.7M634 232.9L573 198.8M636.3 232.2L575.3 198.1M638.6 231.5L571.5 193.9M640.9 230.7L573.7 193.2M643.2 230L566.9 187.3M645.5 229.2L569.2 186.6M647.8 228.5L562.3 180.7M650 227.7L564.6 180M652.3 227L557.7 174.1M654.6 226.3L560 173.4M656.9 225.5L553.1 167.5M659.2 224.8L555.4 166.8M661.5 224L548.5 160.9M663.7 223.3L550.8 160.2M666 222.5L543.9 154.3M668.3 221.8L546.2 153.6M670.6 221.1L548.5 152.9M672.9 220.3L550.8 152.1M675.2 219.6L553.1 151.4M677.4 218.8L555.3 150.6M679.7 218.1L557.6 149.9M682 217.3L559.9 149.1M684.3 216.6L562.2 148.4"/>
<path class="n" stroke-width=".85" stroke="#3e26a8" d="M592.9 246.3L684.3 216.6M589.9 244.6L681.2 214.9M591.4 241.4L678.2 213.2M588.3 239.7L675.1 211.5M589.9 236.5L672.1 209.8M586.8 234.8L669 208.1M588.3 231.6L666 206.4M585.3 229.9L662.9 204.7M586.8 226.7L659.9 203M588.3 223.5L656.8 201.3M585.2 221.8L653.8 199.6M582.2 220.1L650.7 197.8M583.7 216.9L647.7 196.1M580.7 215.2L644.6 194.4M582.2 212L641.6 192.7M579.1 210.3L638.5 191M580.6 207.1L635.5 189.3M577.6 205.4L632.4 187.6M579.1 202.3L629.4 185.9M576 200.5L626.3 184.2M573 198.8L623.2 182.5M574.5 195.7L620.2 180.8M571.5 193.9L617.1 179.1M573 190.8L614.1 177.4M569.9 189.1L611 175.7M566.9 187.3L608 174M568.4 184.2L604.9 172.3M565.3 182.5L601.9 170.6M562.3 180.7L598.8 168.9M563.8 177.6L595.8 167.2M560.7 175.9L592.7 165.5M557.7 174.1L589.7 163.7M559.2 171L586.6 162M556.2 169.2L583.6 160.3M553.1 167.5L580.5 158.6M554.6 164.4L577.5 156.9M551.6 162.6L574.4 155.2M548.5 160.9L571.4 153.5M550 157.8L568.3 151.8M547 156L565.3 150.1M543.9 154.3L562.2 148.4"/>
<g filter="url(#b)">
<path stroke="#24c1ae" fill="#b5eae4" d="M543.9 154.3l-4.5-62.7l3 13.9l4.6 50.5z"/>
<path class="n" stroke="#18addb" d="M542.4 105.5l4.6 50.5"/>
<path class="n" stroke="#3e26a8" d="M547 156l-3.1-1.7"/>
<path stroke="#18addb" fill="#b1e3f3" d="M547 156l-4.6-50.5l3.1 20.1l4.5 32.2z"/>
<path class="n" stroke="#2f81fa" d="M545.5 125.6l4.5 32.2"/>
<path class="n" stroke="#3e26a8" d="M550 157.8l-3-1.8"/>
<path stroke="#2f81fa" fill="#b8d4fd" d="M550 157.8l-4.5-32.2l3 35.3l4.6-1.4z"/>
<path class="n" stroke="#3e26a8" d="M548.5 160.9l4.6-1.4"/>
<path class="n" stroke="#3e26a8" d="M553.1 159.5l-3.1-1.7"/>
<path stroke="#b9c431" fill="#e7ebb9" d="M539.4 91.6l-4.6-24.7l3 7.9l4.6 30.7z"/>
<path class="n" stroke="#8fcb4e" d="M537.8 74.8l4.6 30.7"/>
<path class="n" stroke="#24c1ae" d="M542.4 105.5l-3-13.9"/>
<path stroke="#8fcb4e" fill="#d9edc3" d="M542.4 105.5l-4.6-30.7l3.1 9.2l4.6 41.6z"/>
<path class="n" stroke="#57cc7a" d="M540.9 84l4.6 41.6"/>
<path class="n" stroke="#18addb" d="M545.5 125.6l-3.1-20.1"/>
<path stroke="#57cc7a" fill="#c6eed2" d="M545.5 125.6l-4.6-41.6l3 11l4.6 65.9z"/>
<path class="n" stroke="#2cc4a7" d="M543.9 95l4.6 65.9"/>
<path class="n" stroke="#2f81fa" d="M548.5 160.9l-3-35.3"/>
<path stroke="#2cc4a7" fill="#b7ebe1" d="M548.5 160.9l-4.6-65.9l3.1 13.9l4.6 53.7z"/>
<path class="n" stroke="#08b5d0" d="M547 108.9l4.6 53.7"/>
<path class="n" stroke="#3e26a8" d="M551.6 162.6l-3.1-1.7"/>
<path stroke="#08b5d0" fill="#abe6ef" d="M551.6 162.6l-4.6-53.7l3.1 19.6l4.5 35.9z"/>
<path class="n" stroke="#2d8cf3" d="M550.1 128.5l4.5 35.9"/>
<path class="n" stroke="#3e26a8" d="M554.6 164.4l-3-1.8"/>
<path stroke="#2d8cf3" fill="#b8d8fb" d="M554.6 164.4l-4.5-35.9l3 39l4.6-1.4z"/>
<path class="n" stroke="#3e26a8" d="M553.1 167.5l4.6-1.4"/>
<path class="n" stroke="#3e26a8" d="M557.7 166.1l-3.1-1.7"/>
<path stroke="#fec934" fill="#ffedba" d="M534.8 66.9l-4.6-14.2l3.1 5.4l4.5 16.7z"/>
<path class="n" stroke="#febe3c" d="M533.3 58.1l4.5 16.7"/>
<path class="n" stroke="#b9c431" d="M537.8 74.8l-3-7.9"/>
<path stroke="#febe3c" fill="#ffe9bd" d="M537.8 74.8l-4.5-16.7l3 6.1l4.6 19.8z"/>
<path class="n" stroke="#e6bb2d" d="M536.3 64.2l4.6 19.8"/>
<path class="n" stroke="#8fcb4e" d="M540.9 84l-3.1-9.2"/>
<path stroke="#e6bb2d" fill="#f7e8b8" d="M540.9 84l-4.6-19.8l3.1 6.8l4.5 24z"/>
<path class="n" stroke="#d1bf27" d="M539.4 71l4.5 24"/>
<path class="n" stroke="#57cc7a" d="M543.9 95l-3-11"/>
<path stroke="#d1bf27" fill="#efe9b6" d="M543.9 95l-4.5-24l3 7.9l4.6 30z"/>
<path class="n" stroke="#9dc943" d="M542.4 78.9l4.6 30"/>
<path class="n" stroke="#2cc4a7" d="M547 108.9l-3.1-13.9"/>
<path stroke="#9dc943" fill="#deedbf" d="M547 108.9l-4.6-30l3.1 9.3l4.6 40.3z"/>
<path class="n" stroke="#72cd64" d="M545.5 88.2l4.6 40.3"/>
<path class="n" stroke="#08b5d0" d="M550.1 128.5l-3.1-19.6"/>
<path stroke="#72cd64" fill="#cfeeca" d="M550.1 128.5l-4.6-40.3l3 11.2l4.6 68.1z"/>
<path class="n" stroke="#37c897" d="M548.5 99.4l4.6 68.1"/>
<path class="n" stroke="#2d8cf3" d="M553.1 167.5l-3-39"/>
<path stroke="#37c897" fill="#bbecdc" d="M553.1 167.5l-4.6-68.1l3.1 14.2l4.6 55.6z"/>
<path class="n" stroke="#01b8ca" d="M551.6 113.6l4.6 55.6"/>
<path class="n" stroke="#3e26a8" d="M556.2 169.2l-3.1-1.7"/>
<path stroke="#01b8ca" fill="#a9e7ed" d="M556.2 169.2l-4.6-55.6l3 20.2l4.6 37.2z"/>
<path class="n" stroke="#2b91ef" d="M554.6 133.8l4.6 37.2"/>
<path class="n" stroke="#3e26a8" d="M559.2 171l-3-1.8"/>
<path stroke="#2b91ef" fill="#b7daf9" d="M559.2 171l-4.6-37.2l3.1 40.3l4.6-1.4z"/>
<path class="n" stroke="#3e26a8" d="M557.7 174.1l4.6-1.4"/>
<path class="n" stroke="#3e26a8" d="M562.3 172.7l-3.1-1.7"/>
<path stroke="#f5e924" fill="#fcf8b5" d="M530.2 52.7l-4.5-8.3l3 3.9l4.6 9.8z"/>
<path class="n" stroke="#fec934" d="M533.3 58.1l-3.1-5.4"/>
<path stroke="#f5e327" fill="#fcf5b6" d="M533.3 58.1l-4.6-9.8l3.1 4.2l4.5 11.7z"/>
<path class="n" stroke="#fad62d" d="M531.8 52.5l4.5 11.7"/>
<path class="n" stroke="#febe3c" d="M536.3 64.2l-3-6.1"/>
<path stroke="#fad62d" fill="#fdf1b8" d="M536.3 64.2l-4.5-11.7l3 4.8l4.6 13.7z"/>
<path class="n" stroke="#e6bb2d" d="M539.4 71l-3.1-6.8"/>
<path stroke="#fccf30" fill="#feefb9" d="M539.4 71l-4.6-13.7l3.1 5.4l4.5 16.2z"/>
<path class="n" stroke="#fec338" d="M537.9 62.7l4.5 16.2"/>
<path class="n" stroke="#d1bf27" d="M542.4 78.9l-3-7.9"/>
<path stroke="#fec338" fill="#ffebbb" d="M542.4 78.9l-4.5-16.2l3 6l4.6 19.5z"/>
<path class="n" stroke="#f0ba36" d="M540.9 68.7l4.6 19.5"/>
<path class="n" stroke="#9dc943" d="M545.5 88.2l-3.1-9.3"/>
<path stroke="#f0ba36" fill="#fae7bb" d="M545.5 88.2l-4.6-19.5l3.1 7l4.5 23.7z"/>
<path class="n" stroke="#dcbd29" d="M544 75.7l4.5 23.7"/>
<path class="n" stroke="#72cd64" d="M548.5 99.4l-3-11.2"/>
<path stroke="#dcbd29" fill="#f3e9b6" d="M548.5 99.4l-4.5-23.7l3 8l4.6 29.9z"/>
<path class="n" stroke="#abc739" d="M547 83.7l4.6 29.9"/>
<path class="n" stroke="#37c897" d="M551.6 113.6l-3.1-14.2"/>
<path stroke="#abc739" fill="#e3ecbc" d="M551.6 113.6l-4.6-29.9l3.1 9.6l4.5 40.5z"/>
<path class="n" stroke="#72cd64" d="M550.1 93.3l4.5 40.5"/>
<path class="n" stroke="#01b8ca" d="M554.6 133.8l-3-20.2"/>
<path stroke="#72cd64" fill="#cfeeca" d="M554.6 133.8l-4.5-40.5l3 11.6l4.6 69.2z"/>
<path class="n" stroke="#37c897" d="M553.1 104.9l4.6 69.2"/>
<path class="n" stroke="#2b91ef" d="M557.7 174.1l-3.1-40.3"/>
<path stroke="#37c897" fill="#bbecdc" d="M557.7 174.1l-4.6-69.2l3.1 14.9l4.5 56.1z"/>
<path class="n" stroke="#01b8ca" d="M556.2 119.8l4.5 56.1"/>
<path class="n" stroke="#3e26a8" d="M560.7 175.9l-3-1.8"/>
<path stroke="#01b8ca" fill="#a9e7ed" d="M560.7 175.9l-4.5-56.1l3 21.9l4.6 35.9z"/>
<path class="n" stroke="#2d8cf3" d="M559.2 141.7l4.6 35.9"/>
<path class="n" stroke="#3e26a8" d="M563.8 177.6l-3.1-1.7"/>
<path stroke="#2d8cf3" fill="#b8d8fb" d="M563.8 177.6l-4.6-35.9l3.1 39l4.5-1.4z"/>
<path class="n" stroke="#3e26a8" d="M562.3 180.7l4.5-1.4"/>
<path class="n" stroke="#3e26a8" d="M566.8 179.3l-3-1.7"/>
<path stroke="#f7f51b" fill="#fcfcb2" d="M525.7 44.4l-4.6-4l3 2.8l4.6 5.1z"/>
<path class="n" stroke="#f5e924" d="M528.7 48.3l-3-3.9"/>
<path stroke="#f7f51b" fill="#fcfcb2" d="M528.7 48.3l-4.6-5.1l3.1 3l4.6 6.3z"/>
<path class="n" stroke="#f5e327" d="M531.8 52.5l-3.1-4.2"/>
<path stroke="#f6ef20" fill="#fcfab3" d="M531.8 52.5l-4.6-6.3l3 3.4l4.6 7.7z"/>
<path class="n" stroke="#fad62d" d="M534.8 57.3l-3-4.8"/>
<path stroke="#f5e924" fill="#fcf8b5" d="M534.8 57.3l-4.6-7.7l3.1 3.7l4.6 9.4z"/>
<path class="n" stroke="#fccf30" d="M537.9 62.7l-3.1-5.4"/>
<path stroke="#f5e327" fill="#fcf5b6" d="M537.9 62.7l-4.6-9.4l3 4.3l4.6 11.1z"/>
<path class="n" stroke="#fec338" d="M540.9 68.7l-3-6"/>
<path stroke="#f7dc2a" fill="#fcf3b7" d="M540.9 68.7l-4.6-11.1l3.1 4.7l4.6 13.4z"/>
<path class="n" stroke="#fccf30" d="M539.4 62.3l4.6 13.4"/>
<path class="n" stroke="#f0ba36" d="M544 75.7l-3.1-7"/>
<path stroke="#fccf30" fill="#feefb9" d="M544 75.7l-4.6-13.4l3.1 5.4l4.5 16z"/>
<path class="n" stroke="#dcbd29" d="M547 83.7l-3-8"/>
<path stroke="#fec934" fill="#ffedba" d="M547 83.7l-4.5-16l3 6.1l4.6 19.5z"/>
<path class="n" stroke="#f8ba3d" d="M545.5 73.8l4.6 19.5"/>
<path class="n" stroke="#abc739" d="M550.1 93.3l-3.1-9.6"/>
<path stroke="#f8ba3d" fill="#fde8bd" d="M550.1 93.3l-4.6-19.5l3.1 7.1l4.5 24z"/>
<path class="n" stroke="#dcbd29" d="M548.6 80.9l4.5 24"/>
<path class="n" stroke="#72cd64" d="M553.1 104.9l-3-11.6"/>
<path stroke="#dcbd29" fill="#f3e9b6" d="M553.1 104.9l-4.5-24l3 8.3l4.6 30.6z"/>
<path class="n" stroke="#b9c431" d="M551.6 89.2l4.6 30.6"/>
<path class="n" stroke="#37c897" d="M556.2 119.8l-3.1-14.9"/>
<path stroke="#b9c431" fill="#e7ebb9" d="M556.2 119.8l-4.6-30.6l3.1 10l4.5 42.5z"/>
<path class="n" stroke="#81cc59" d="M554.7 99.2l4.5 42.5"/>
<path class="n" stroke="#01b8ca" d="M559.2 141.7l-3-21.9"/>
<path stroke="#81cc59" fill="#d4eec6" d="M559.2 141.7l-4.5-42.5l3 12.3l4.6 69.2z"/>
<path class="n" stroke="#37c897" d="M557.7 111.5l4.6 69.2"/>
<path class="n" stroke="#2d8cf3" d="M562.3 180.7l-3.1-39"/>
<path stroke="#37c897" fill="#bbecdc" d="M562.3 180.7l-4.6-69.2l3.1 16.4l4.5 54.6z"/>
<path class="n" stroke="#01b8ca" d="M560.8 127.9l4.5 54.6"/>
<path class="n" stroke="#3e26a8" d="M565.3 182.5l-3-1.8"/>
<path stroke="#01b8ca" fill="#a9e7ed" d="M565.3 182.5l-4.5-54.6l3 25.6l4.6 30.7z"/>
<path class="n" stroke="#327cfc" d="M563.8 153.5l4.6 30.7"/>
<path class="n" stroke="#3e26a8" d="M568.4 184.2l-3.1-1.7"/>
<path stroke="#327cfc" fill="#b9d2fe" d="M568.4 184.2l-4.6-30.7l3.1 33.8l4.5-1.4z"/>
<path class="n" stroke="#3e26a8" d="M566.9 187.3l4.5-1.4"/>
<path class="n" stroke="#3e26a8" d="M571.4 185.9l-3-1.7"/>
<path stroke="#f9fb15" fill="#fdfeaf" d="M521.1 40.4l-4.6-.5l3.1 1.9l4.5 1.4z"/>
<path stroke="#f9fb15" fill="#fdfeaf" d="M524.1 43.2l-4.5-1.4l3 2.1l4.6 2.3z"/>
<path stroke="#f9fb15" fill="#fdfeaf" d="M527.2 46.2l-4.6-2.3l3.1 2.3l4.5 3.4z"/>
<path class="n" stroke="#f6ef20" d="M530.2 49.6l-3-3.4"/>
<path stroke="#f9fb15" fill="#fdfeaf" d="M530.2 49.6l-4.5-3.4l3 2.6l4.6 4.5z"/>
<path class="n" stroke="#f5e924" d="M533.3 53.3l-3.1-3.7"/>
<path stroke="#f7f51b" fill="#fcfcb2" d="M533.3 53.3l-4.6-4.5l3.1 2.9l4.5 5.9z"/>
<path class="n" stroke="#f5e327" d="M536.3 57.6l-3-4.3"/>
<path stroke="#f7f51b" fill="#fcfcb2" d="M536.3 57.6l-4.5-5.9l3 3.3l4.6 7.3z"/>
<path class="n" stroke="#f7dc2a" d="M539.4 62.3l-3.1-4.7"/>
<path stroke="#f6ef20" fill="#fcfab3" d="M539.4 62.3l-4.6-7.3l3.1 3.7l4.6 9z"/>
<path class="n" stroke="#fccf30" d="M542.5 67.7l-3.1-5.4"/>
<path stroke="#f5e924" fill="#fcf8b5" d="M542.5 67.7l-4.6-9l3 4.2l4.6 10.9z"/>
<path class="n" stroke="#fec934" d="M545.5 73.8l-3-6.1"/>
<path stroke="#f5e327" fill="#fcf5b6" d="M545.5 73.8l-4.6-10.9l3.1 4.7l4.6 13.3z"/>
<path class="n" stroke="#fad62d" d="M544 67.6l4.6 13.3"/>
<path class="n" stroke="#f8ba3d" d="M548.6 80.9l-3.1-7.1"/>
<path stroke="#fad62d" fill="#fdf1b8" d="M548.6 80.9l-4.6-13.3l3 5.4l4.6 16.2z"/>
<path class="n" stroke="#fec934" d="M547 73l4.6 16.2"/>
<path class="n" stroke="#dcbd29" d="M551.6 89.2l-3-8.3"/>
<path stroke="#fec934" fill="#ffedba" d="M551.6 89.2l-4.6-16.2l3.1 6.4l4.6 19.8z"/>
<path class="n" stroke="#febe3c" d="M550.1 79.4l4.6 19.8"/>
<path class="n" stroke="#b9c431" d="M554.7 99.2l-3.1-10"/>
<path stroke="#febe3c" fill="#ffe9bd" d="M554.7 99.2l-4.6-19.8l3 7.3l4.6 24.8z"/>
<path class="n" stroke="#e6bb2d" d="M553.1 86.7l4.6 24.8"/>
<path class="n" stroke="#81cc59" d="M557.7 111.5l-3-12.3"/>
<path stroke="#e6bb2d" fill="#f7e8b8" d="M557.7 111.5l-4.6-24.8l3.1 8.8l4.6 32.4z"/>
<path class="n" stroke="#b9c431" d="M556.2 95.5l4.6 32.4"/>
<path class="n" stroke="#37c897" d="M560.8 127.9l-3.1-16.4"/>
<path stroke="#b9c431" fill="#e7ebb9" d="M560.8 127.9l-4.6-32.4l3 10.7l4.6 47.3z"/>
<path class="n" stroke="#72cd64" d="M559.2 106.2l4.6 47.3"/>
<path class="n" stroke="#01b8ca" d="M563.8 153.5l-3-25.6"/>
<path stroke="#72cd64" fill="#cfeeca" d="M563.8 153.5l-4.6-47.3l3.1 13.6l4.6 67.5z"/>
<path class="n" stroke="#31c69f" d="M562.3 119.8l4.6 67.5"/>
<path class="n" stroke="#327cfc" d="M566.9 187.3l-3.1-33.8"/>
<path stroke="#31c69f" fill="#b9ecde" d="M566.9 187.3l-4.6-67.5l3.1 18.8l4.5 50.5z"/>
<path class="n" stroke="#18addb" d="M565.4 138.6l4.5 50.5"/>
<path class="n" stroke="#3e26a8" d="M569.9 189.1l-3-1.8"/>
<path stroke="#18addb" fill="#b1e3f3" d="M569.9 189.1l-4.5-50.5l3 35.6l4.6 16.6z"/>
<path class="n" stroke="#4852f4" d="M568.4 174.2l4.6 16.6"/>
<path class="n" stroke="#3e26a8" d="M573 190.8l-3.1-1.7"/>
<path stroke="#4852f4" fill="#c1c4fb" d="M573 190.8l-4.6-16.6l3.1 19.7l4.5-1.4z"/>
<path class="n" stroke="#3e26a8" d="M571.5 193.9l4.5-1.4"/>
<path class="n" stroke="#3e26a8" d="M576 192.5l-3-1.7"/>
<path stroke="#f9fb15" fill="#fdfeaf" d="M516.5 39.9l-4.6 2.7l3.1 1.2l4.6-2z"/>
<path stroke="#f9fb15" fill="#fdfeaf" d="M519.6 41.8l-4.6 2l3.1 1.3l4.5-1.2z"/>
<path stroke="#f9fb15" fill="#fdfeaf" d="M522.6 43.9l-4.5 1.2l3 1.5l4.6-.4z"/>
<path stroke="#f9fb15" fill="#fdfeaf" d="M525.7 46.2l-4.6 .4l3.1 1.6l4.5 .6z"/>
<path stroke="#f9fb15" fill="#fdfeaf" d="M528.7 48.8l-4.5-.6l3 1.9l4.6 1.6z"/>
<path stroke="#f9fb15" fill="#fdfeaf" d="M531.8 51.7l-4.6-1.6l3.1 2.2l4.5 2.7z"/>
<path stroke="#f9fb15" fill="#fdfeaf" d="M534.8 55l-4.5-2.7l3 2.4l4.6 4z"/>
<path class="n" stroke="#f6ef20" d="M537.9 58.7l-3.1-3.7"/>
<path stroke="#f9fb15" fill="#fdfeaf" d="M537.9 58.7l-4.6-4l3.1 2.8l4.5 5.4z"/>
<path class="n" stroke="#f5e924" d="M540.9 62.9l-3-4.2"/>
<path stroke="#f7f51b" fill="#fcfcb2" d="M540.9 62.9l-4.5-5.4l3 3.2l4.6 6.9z"/>
<path class="n" stroke="#f5e327" d="M544 67.6l-3.1-4.7"/>
<path stroke="#f6ef20" fill="#fcfab3" d="M544 67.6l-4.6-6.9l3.1 3.6l4.5 8.7z"/>
<path class="n" stroke="#fad62d" d="M547 73l-3-5.4"/>
<path stroke="#f5e924" fill="#fcf8b5" d="M547 73l-4.5-8.7l3 4.2l4.6 10.9z"/>
<path class="n" stroke="#fec934" d="M550.1 79.4l-3.1-6.4"/>
<path stroke="#f5e327" fill="#fcf5b6" d="M550.1 79.4l-4.6-10.9l3.1 4.8l4.5 13.4z"/>
<path class="n" stroke="#febe3c" d="M553.1 86.7l-3-7.3"/>
<path stroke="#f7dc2a" fill="#fcf3b7" d="M553.1 86.7l-4.5-13.4l3 5.6l4.6 16.6z"/>
<path class="n" stroke="#fccf30" d="M551.6 78.9l4.6 16.6"/>
<path class="n" stroke="#e6bb2d" d="M556.2 95.5l-3.1-8.8"/>
<path stroke="#fccf30" fill="#feefb9" d="M556.2 95.5l-4.6-16.6l3.1 6.6l4.5 20.7z"/>
<path class="n" stroke="#febe3c" d="M554.7 85.5l4.5 20.7"/>
<path class="n" stroke="#b9c431" d="M559.2 106.2l-3-10.7"/>
<path stroke="#febe3c" fill="#ffe9bd" d="M559.2 106.2l-4.5-20.7l3 7.8l4.6 26.5z"/>
<path class="n" stroke="#e6bb2d" d="M557.7 93.3l4.6 26.5"/>
<path class="n" stroke="#72cd64" d="M562.3 119.8l-3.1-13.6"/>
<path stroke="#e6bb2d" fill="#f7e8b8" d="M562.3 119.8l-4.6-26.5l3.1 9.5l4.6 35.8z"/>
<path class="n" stroke="#b9c431" d="M560.8 102.8l4.6 35.8"/>
<path class="n" stroke="#31c69f" d="M565.4 138.6l-3.1-18.8"/>
<path stroke="#b9c431" fill="#e7ebb9" d="M565.4 138.6l-4.6-35.8l3 11.9l4.6 59.5z"/>
<path class="n" stroke="#64cd6f" d="M563.8 114.7l4.6 59.5"/>
<path class="n" stroke="#18addb" d="M568.4 174.2l-3-35.6"/>
<path stroke="#64cd6f" fill="#caeece" d="M568.4 174.2l-4.6-59.5l3.1 15.7l4.6 63.5z"/>
<path class="n" stroke="#24c1ae" d="M566.9 130.4l4.6 63.5"/>
<path class="n" stroke="#4852f4" d="M571.5 193.9l-3.1-19.7"/>
<path stroke="#24c1ae" fill="#b5eae4" d="M571.5 193.9l-4.6-63.5l3 23.3l4.6 42z"/>
<path class="n" stroke="#259be8" d="M569.9 153.7l4.6 42"/>
<path class="n" stroke="#3e26a8" d="M574.5 195.7l-3-1.8"/>
<path stroke="#259be8" fill="#b5ddf7" d="M574.5 195.7l-4.6-42l3.1 45.1l4.6-1.4z"/>
<path class="n" stroke="#3e26a8" d="M573 198.8l4.6-1.4"/>
<path class="n" stroke="#3e26a8" d="M577.6 197.4l-3.1-1.7"/>
<path stroke="#f6ef20" fill="#fcfab3" d="M511.9 42.6l-4.5 5.8l3 .5l4.6-5.1z"/>
<path class="n" stroke="#f9fb15" d="M515 43.8l-3.1-1.2"/>
<path stroke="#f6ef20" fill="#fcfab3" d="M515 43.8l-4.6 5.1l3.1 .6l4.6-4.4z"/>
<path class="n" stroke="#f9fb15" d="M518.1 45.1l-3.1-1.3"/>
<path stroke="#f7f51b" fill="#fcfcb2" d="M518.1 45.1l-4.6 4.4l3 .8l4.6-3.7z"/>
<path stroke="#f7f51b" fill="#fcfcb2" d="M521.1 46.6l-4.6 3.7l3.1 .8l4.6-2.9z"/>
<path stroke="#f9fb15" fill="#fdfeaf" d="M524.2 48.2l-4.6 2.9l3 1.1l4.6-2.1z"/>
<path stroke="#f9fb15" fill="#fdfeaf" d="M527.2 50.1l-4.6 2.1l3.1 1.2l4.6-1.1z"/>
<path stroke="#f9fb15" fill="#fdfeaf" d="M530.3 52.3l-4.6 1.1l3 1.5l4.6-.2z"/>
<path stroke="#f9fb15" fill="#fdfeaf" d="M533.3 54.7l-4.6 .2l3.1 1.7l4.6 .9z"/>
<path stroke="#f9fb15" fill="#fdfeaf" d="M536.4 57.5l-4.6-.9l3 1.9l4.6 2.2z"/>
<path stroke="#f9fb15" fill="#fdfeaf" d="M539.4 60.7l-4.6-2.2l3.1 2.3l4.6 3.5z"/>
<path class="n" stroke="#f6ef20" d="M542.5 64.3l-3.1-3.6"/>
<path stroke="#f9fb15" fill="#fdfeaf" d="M542.5 64.3l-4.6-3.5l3.1 2.7l4.5 5z"/>
<path class="n" stroke="#f5e924" d="M545.5 68.5l-3-4.2"/>
<path stroke="#f9fb15" fill="#fdfeaf" d="M545.5 68.5l-4.5-5l3 3.1l4.6 6.7z"/>
<path class="n" stroke="#f5e327" d="M548.6 73.3l-3.1-4.8"/>
<path stroke="#f7f51b" fill="#fcfcb2" d="M548.6 73.3l-4.6-6.7l3.1 3.6l4.5 8.7z"/>
<path class="n" stroke="#f7dc2a" d="M551.6 78.9l-3-5.6"/>
<path stroke="#f6ef20" fill="#fcfab3" d="M551.6 78.9l-4.5-8.7l3 4.2l4.6 11.1z"/>
<path class="n" stroke="#fccf30" d="M554.7 85.5l-3.1-6.6"/>
<path stroke="#f5e924" fill="#fcf8b5" d="M554.7 85.5l-4.6-11.1l3.1 5l4.5 13.9z"/>
<path class="n" stroke="#f7dc2a" d="M553.2 79.4l4.5 13.9"/>
<path class="n" stroke="#febe3c" d="M557.7 93.3l-3-7.8"/>
<path stroke="#f7dc2a" fill="#fcf3b7" d="M557.7 93.3l-4.5-13.9l3 5.9l4.6 17.5z"/>
<path class="n" stroke="#fccf30" d="M556.2 85.3l4.6 17.5"/>
<path class="n" stroke="#e6bb2d" d="M560.8 102.8l-3.1-9.5"/>
<path stroke="#fccf30" fill="#feefb9" d="M560.8 102.8l-4.6-17.5l3.1 7l4.5 22.4z"/>
<path class="n" stroke="#febe3c" d="M559.3 92.3l4.5 22.4"/>
<path class="n" stroke="#b9c431" d="M563.8 114.7l-3-11.9"/>
<path stroke="#febe3c" fill="#ffe9bd" d="M563.8 114.7l-4.5-22.4l3 8.6l4.6 29.5z"/>
<path class="n" stroke="#dcbd29" d="M562.3 100.9l4.6 29.5"/>
<path class="n" stroke="#64cd6f" d="M566.9 130.4l-3.1-15.7"/>
<path stroke="#dcbd29" fill="#f3e9b6" d="M566.9 130.4l-4.6-29.5l3.1 10.7l4.5 42.1z"/>
<path class="n" stroke="#abc739" d="M565.4 111.6l4.5 42.1"/>
<path class="n" stroke="#24c1ae" d="M569.9 153.7l-3-23.3"/>
<path stroke="#abc739" fill="#e3ecbc" d="M569.9 153.7l-4.5-42.1l3 13.8l4.6 73.4z"/>
<path class="n" stroke="#4acb84" d="M568.4 125.4l4.6 73.4"/>
<path class="n" stroke="#259be8" d="M573 198.8l-3.1-45.1"/>
<path stroke="#4acb84" fill="#c1edd5" d="M573 198.8l-4.6-73.4l3.1 19.3l4.5 55.8z"/>
<path class="n" stroke="#01b8ca" d="M571.5 144.7l4.5 55.8"/>
<path class="n" stroke="#3e26a8" d="M576 200.5l-3-1.7"/>
<path stroke="#01b8ca" fill="#a9e7ed" d="M576 200.5l-4.5-55.8l3 35.9l4.6 21.7z"/>
<path class="n" stroke="#4563fd" d="M574.5 180.6l4.6 21.7"/>
<path class="n" stroke="#3e26a8" d="M579.1 202.3l-3.1-1.8"/>
<path stroke="#4563fd" fill="#c0cafe" d="M579.1 202.3l-4.6-21.7l3.1 24.8l4.6-1.4z"/>
<path class="n" stroke="#3e26a8" d="M577.6 205.4l4.6-1.4"/>
<path class="n" stroke="#3e26a8" d="M582.2 204l-3.1-1.7"/>
<path stroke="#fad62d" fill="#fdf1b8" d="M507.4 48.4l-4.6 9l3.1-.1l4.5-8.4z"/>
<path class="n" stroke="#f6ef20" d="M510.4 48.9l-3-.5"/>
<path stroke="#f7dc2a" fill="#fcf3b7" d="M510.4 48.9l-4.5 8.4l3-.1l4.6-7.7z"/>
<path class="n" stroke="#f6ef20" d="M513.5 49.5l-3.1-.6"/>
<path stroke="#f5e327" fill="#fcf5b6" d="M513.5 49.5l-4.6 7.7l3.1 .1l4.5-7z"/>
<path class="n" stroke="#f7f51b" d="M516.5 50.3l-3-.8"/>
<path stroke="#f5e327" fill="#fcf5b6" d="M516.5 50.3l-4.5 7l3 .1l4.6-6.3z"/>
<path class="n" stroke="#f7f51b" d="M519.6 51.1l-3.1-.8"/>
<path stroke="#f5e924" fill="#fcf8b5" d="M519.6 51.1l-4.6 6.3l3.1 .3l4.5-5.5z"/>
<path class="n" stroke="#f9fb15" d="M522.6 52.2l-3-1.1"/>
<path stroke="#f6ef20" fill="#fcfab3" d="M522.6 52.2l-4.5 5.5l3 .5l4.6-4.8z"/>
<path class="n" stroke="#f9fb15" d="M525.7 53.4l-3.1-1.2"/>
<path stroke="#f7f51b" fill="#fcfcb2" d="M525.7 53.4l-4.6 4.8l3.1 .5l4.5-3.8z"/>
<path stroke="#f7f51b" fill="#fcfcb2" d="M528.7 54.9l-4.5 3.8l3 .8l4.6-2.9z"/>
<path stroke="#f9fb15" fill="#fdfeaf" d="M531.8 56.6l-4.6 2.9l3.1 1l4.5-2z"/>
<path stroke="#f9fb15" fill="#fdfeaf" d="M534.8 58.5l-4.5 2l3 1.2l4.6-.9z"/>
<path stroke="#f9fb15" fill="#fdfeaf" d="M537.9 60.8l-4.6 .9l3.1 1.4l4.6 .4z"/>
<path stroke="#f9fb15" fill="#fdfeaf" d="M541 63.5l-4.6-.4l3 1.8l4.6 1.7z"/>
<path stroke="#f9fb15" fill="#fdfeaf" d="M544 66.6l-4.6-1.7l3.1 2.2l4.6 3.1z"/>
<path stroke="#f9fb15" fill="#fdfeaf" d="M547.1 70.2l-4.6-3.1l3 2.5l4.6 4.8z"/>
<path class="n" stroke="#f6ef20" d="M550.1 74.4l-3-4.2"/>
<path stroke="#f9fb15" fill="#fdfeaf" d="M550.1 74.4l-4.6-4.8l3.1 3.1l4.6 6.7z"/>
<path class="n" stroke="#f5e924" d="M553.2 79.4l-3.1-5"/>
<path stroke="#f7f51b" fill="#fcfcb2" d="M553.2 79.4l-4.6-6.7l3 3.6l4.6 9z"/>
<path class="n" stroke="#f7dc2a" d="M556.2 85.3l-3-5.9"/>
<path stroke="#f6ef20" fill="#fcfab3" d="M556.2 85.3l-4.6-9l3.1 4.4l4.6 11.6z"/>
<path class="n" stroke="#fccf30" d="M559.3 92.3l-3.1-7"/>
<path stroke="#f5e924" fill="#fcf8b5" d="M559.3 92.3l-4.6-11.6l3.1 5.2l4.5 15z"/>
<path class="n" stroke="#f7dc2a" d="M557.8 85.9l4.5 15"/>
<path class="n" stroke="#febe3c" d="M562.3 100.9l-3-8.6"/>
<path stroke="#f7dc2a" fill="#fcf3b7" d="M562.3 100.9l-4.5-15l3 6.4l4.6 19.3z"/>
<path class="n" stroke="#fec934" d="M560.8 92.3l4.6 19.3"/>
<path class="n" stroke="#dcbd29" d="M565.4 111.6l-3.1-10.7"/>
<path stroke="#fec934" fill="#ffedba" d="M565.4 111.6l-4.6-19.3l3.1 7.8l4.5 25.3z"/>
<path class="n" stroke="#f8ba3d" d="M563.9 100.1l4.5 25.3"/>
<path class="n" stroke="#abc739" d="M568.4 125.4l-3-13.8"/>
<path stroke="#f8ba3d" fill="#fde8bd" d="M568.4 125.4l-4.5-25.3l3 9.7l4.6 34.9z"/>
<path class="n" stroke="#d1bf27" d="M566.9 109.8l4.6 34.9"/>
<path class="n" stroke="#4acb84" d="M571.5 144.7l-3.1-19.3"/>
<path stroke="#d1bf27" fill="#efe9b6" d="M571.5 144.7l-4.6-34.9l3.1 12.6l4.5 58.2z"/>
<path class="n" stroke="#81cc59" d="M570 122.4l4.5 58.2"/>
<path class="n" stroke="#01b8ca" d="M574.5 180.6l-3-35.9"/>
<path stroke="#81cc59" fill="#d4eec6" d="M574.5 180.6l-4.5-58.2l3 17.2l4.6 65.8z"/>
<path class="n" stroke="#2cc4a7" d="M573 139.6l4.6 65.8"/>
<path class="n" stroke="#4563fd" d="M577.6 205.4l-3.1-24.8"/>
<path stroke="#2cc4a7" fill="#b7ebe1" d="M577.6 205.4l-4.6-65.8l3.1 27.3l4.5 40.2z"/>
<path class="n" stroke="#2797eb" d="M576.1 166.9l4.5 40.2"/>
<path class="n" stroke="#3e26a8" d="M580.6 207.1l-3-1.7"/>
<path stroke="#2797eb" fill="#b6dbf8" d="M580.6 207.1l-4.5-40.2l3 43.4l4.6-1.4z"/>
<path class="n" stroke="#3e26a8" d="M579.1 210.3l4.6-1.4"/>
<path class="n" stroke="#3e26a8" d="M583.7 208.9l-3.1-1.8"/>
<path stroke="#f0ba36" fill="#fae7bb" d="M502.8 57.4l-4.6 12.7l3.1-.8l4.6-12z"/>
<path class="n" stroke="#fad62d" d="M505.9 57.3l-3.1 .1"/>
<path stroke="#f8ba3d" fill="#fde8bd" d="M505.9 57.3l-4.6 12l3-.8l4.6-11.3z"/>
<path class="n" stroke="#fec338" d="M504.3 68.5l4.6-11.3"/>
<path class="n" stroke="#f7dc2a" d="M508.9 57.2l-3 .1"/>
<path stroke="#fec338" fill="#ffebbb" d="M508.9 57.2l-4.6 11.3l3.1-.6l4.6-10.6z"/>
<path class="n" stroke="#f5e327" d="M512 57.3l-3.1-.1"/>
<path stroke="#fec934" fill="#ffedba" d="M512 57.3l-4.6 10.6l3-.6l4.6-9.9z"/>
<path class="n" stroke="#f5e327" d="M515 57.4l-3-.1"/>
<path stroke="#fccf30" fill="#feefb9" d="M515 57.4l-4.6 9.9l3.1-.4l4.6-9.2z"/>
<path class="n" stroke="#f5e924" d="M518.1 57.7l-3.1-.3"/>
<path stroke="#fad62d" fill="#fdf1b8" d="M518.1 57.7l-4.6 9.2l3.1-.4l4.5-8.3z"/>
<path class="n" stroke="#f6ef20" d="M521.1 58.2l-3-.5"/>
<path stroke="#f7dc2a" fill="#fcf3b7" d="M521.1 58.2l-4.5 8.3l3-.2l4.6-7.6z"/>
<path class="n" stroke="#f7f51b" d="M524.2 58.7l-3.1-.5"/>
<path stroke="#f5e327" fill="#fcf5b6" d="M524.2 58.7l-4.6 7.6l3.1-.1l4.5-6.7z"/>
<path class="n" stroke="#f7f51b" d="M527.2 59.5l-3-.8"/>
<path stroke="#f5e924" fill="#fcf8b5" d="M527.2 59.5l-4.5 6.7l3 .1l4.6-5.8z"/>
<path class="n" stroke="#f9fb15" d="M530.3 60.5l-3.1-1"/>
<path stroke="#f6ef20" fill="#fcfab3" d="M530.3 60.5l-4.6 5.8l3.1 .3l4.5-4.9z"/>
<path class="n" stroke="#f9fb15" d="M533.3 61.7l-3-1.2"/>
<path stroke="#f7f51b" fill="#fcfcb2" d="M533.3 61.7l-4.5 4.9l3 .4l4.6-3.9z"/>
<path stroke="#f7f51b" fill="#fcfcb2" d="M536.4 63.1l-4.6 3.9l3.1 .7l4.5-2.8z"/>
<path stroke="#f9fb15" fill="#fdfeaf" d="M539.4 64.9l-4.5 2.8l3 .9l4.6-1.5z"/>
<path stroke="#f9fb15" fill="#fdfeaf" d="M542.5 67.1l-4.6 1.5l3.1 1.3l4.5-.3z"/>
<path stroke="#f9fb15" fill="#fdfeaf" d="M545.5 69.6l-4.5 .3l3 1.5l4.6 1.3z"/>
<path stroke="#f9fb15" fill="#fdfeaf" d="M548.6 72.7l-4.6-1.3l3.1 2l4.5 2.9z"/>
<path stroke="#f9fb15" fill="#fdfeaf" d="M551.6 76.3l-4.5-2.9l3 2.5l4.6 4.8z"/>
<path class="n" stroke="#f6ef20" d="M554.7 80.7l-3.1-4.4"/>
<path stroke="#f9fb15" fill="#fdfeaf" d="M554.7 80.7l-4.6-4.8l3.1 3.1l4.6 6.9z"/>
<path class="n" stroke="#f5e924" d="M557.8 85.9l-3.1-5.2"/>
<path stroke="#f7f51b" fill="#fcfcb2" d="M557.8 85.9l-4.6-6.9l3 3.8l4.6 9.5z"/>
<path class="n" stroke="#f7dc2a" d="M560.8 92.3l-3-6.4"/>
<path stroke="#f6ef20" fill="#fcfab3" d="M560.8 92.3l-4.6-9.5l3.1 4.6l4.6 12.7z"/>
<path class="n" stroke="#fec934" d="M563.9 100.1l-3.1-7.8"/>
<path stroke="#f5e924" fill="#fcf8b5" d="M563.9 100.1l-4.6-12.7l3 5.7l4.6 16.7z"/>
<path class="n" stroke="#f7dc2a" d="M562.3 93.1l4.6 16.7"/>
<path class="n" stroke="#f8ba3d" d="M566.9 109.8l-3-9.7"/>
<path stroke="#f7dc2a" fill="#fcf3b7" d="M566.9 109.8l-4.6-16.7l3.1 7.2l4.6 22.1z"/>
<path class="n" stroke="#fec934" d="M565.4 100.3l4.6 22.1"/>
<path class="n" stroke="#d1bf27" d="M570 122.4l-3.1-12.6"/>
<path stroke="#fec934" fill="#ffedba" d="M570 122.4l-4.6-22.1l3 9l4.6 30.3z"/>
<path class="n" stroke="#f0ba36" d="M568.4 109.3l4.6 30.3"/>
<path class="n" stroke="#81cc59" d="M573 139.6l-3-17.2"/>
<path stroke="#f0ba36" fill="#fae7bb" d="M573 139.6l-4.6-30.3l3.1 11.7l4.6 45.9z"/>
<path class="n" stroke="#b9c431" d="M571.5 121l4.6 45.9"/>
<path class="n" stroke="#2cc4a7" d="M576.1 166.9l-3.1-27.3"/>
<path stroke="#b9c431" fill="#e7ebb9" d="M576.1 166.9l-4.6-45.9l3.1 15.9l4.5 73.4z"/>
<path class="n" stroke="#4acb84" d="M574.6 136.9l4.5 73.4"/>
<path class="n" stroke="#2797eb" d="M579.1 210.3l-3-43.4"/>
<path stroke="#4acb84" fill="#c1edd5" d="M579.1 210.3l-4.5-73.4l3 24.1l4.6 51z"/>
<path class="n" stroke="#12b1d6" d="M577.6 161l4.6 51"/>
<path class="n" stroke="#3e26a8" d="M582.2 212l-3.1-1.7"/>
<path stroke="#12b1d6" fill="#aee5f1" d="M582.2 212l-4.6-51l3.1 54.2l4.5-1.5z"/>
<path class="n" stroke="#3e26a8" d="M580.7 215.2l4.5-1.5"/>
<path class="n" stroke="#3e26a8" d="M585.2 213.7l-3-1.7"/>
<path stroke="#8fcb4e" fill="#d9edc3" d="M498.2 70.1l-4.5 17.6l3-1.7l4.6-16.7z"/>
<path class="n" stroke="#f0ba36" d="M501.3 69.3l-3.1 .8"/>
<path stroke="#9dc943" fill="#deedbf" d="M501.3 69.3l-4.6 16.7l3.1-1.7l4.5-15.8z"/>
<path class="n" stroke="#b9c431" d="M499.8 84.3l4.5-15.8"/>
<path class="n" stroke="#f8ba3d" d="M504.3 68.5l-3 .8"/>
<path stroke="#b9c431" fill="#e7ebb9" d="M504.3 68.5l-4.5 15.8l3-1.5l4.6-14.9z"/>
<path class="n" stroke="#d1bf27" d="M502.8 82.8l4.6-14.9"/>
<path class="n" stroke="#fec338" d="M507.4 67.9l-3.1 .6"/>
<path stroke="#d1bf27" fill="#efe9b6" d="M507.4 67.9l-4.6 14.9l3.1-1.4l4.5-14.1z"/>
<path class="n" stroke="#fec934" d="M510.4 67.3l-3 .6"/>
<path stroke="#dcbd29" fill="#f3e9b6" d="M510.4 67.3l-4.5 14.1l3-1.2l4.6-13.3z"/>
<path class="n" stroke="#f0ba36" d="M508.9 80.2l4.6-13.3"/>
<path class="n" stroke="#fccf30" d="M513.5 66.9l-3.1 .4"/>
<path stroke="#f0ba36" fill="#fae7bb" d="M513.5 66.9l-4.6 13.3l3.1-1.2l4.6-12.5z"/>
<path class="n" stroke="#fad62d" d="M516.6 66.5l-3.1 .4"/>
<path stroke="#f8ba3d" fill="#fde8bd" d="M516.6 66.5l-4.6 12.5l3-1.1l4.6-11.6z"/>
<path class="n" stroke="#fec338" d="M515 77.9l4.6-11.6"/>
<path class="n" stroke="#f7dc2a" d="M519.6 66.3l-3 .2"/>
<path stroke="#fec338" fill="#ffebbb" d="M519.6 66.3l-4.6 11.6l3.1-.9l4.6-10.8z"/>
<path class="n" stroke="#f5e327" d="M522.7 66.2l-3.1 .1"/>
<path stroke="#fec934" fill="#ffedba" d="M522.7 66.2l-4.6 10.8l3-.8l4.6-9.9z"/>
<path class="n" stroke="#fad62d" d="M521.1 76.2l4.6-9.9"/>
<path class="n" stroke="#f5e924" d="M525.7 66.3l-3-.1"/>
<path stroke="#fad62d" fill="#fdf1b8" d="M525.7 66.3l-4.6 9.9l3.1-.7l4.6-8.9z"/>
<path class="n" stroke="#f6ef20" d="M528.8 66.6l-3.1-.3"/>
<path stroke="#f7dc2a" fill="#fcf3b7" d="M528.8 66.6l-4.6 8.9l3-.5l4.6-8z"/>
<path class="n" stroke="#f7f51b" d="M531.8 67l-3-.4"/>
<path stroke="#f5e327" fill="#fcf5b6" d="M531.8 67l-4.6 8l3.1-.3l4.6-7z"/>
<path class="n" stroke="#f7f51b" d="M534.9 67.7l-3.1-.7"/>
<path stroke="#f5e924" fill="#fcf8b5" d="M534.9 67.7l-4.6 7l3.1-.1l4.5-6z"/>
<path class="n" stroke="#f9fb15" d="M537.9 68.6l-3-.9"/>
<path stroke="#f6ef20" fill="#fcfab3" d="M537.9 68.6l-4.5 6l3 0l4.6-4.7z"/>
<path class="n" stroke="#f9fb15" d="M541 69.9l-3.1-1.3"/>
<path stroke="#f7f51b" fill="#fcfcb2" d="M541 69.9l-4.6 4.7l3.1 .4l4.5-3.6z"/>
<path stroke="#f7f51b" fill="#fcfcb2" d="M544 71.4l-4.5 3.6l3 .6l4.6-2.2z"/>
<path stroke="#f9fb15" fill="#fdfeaf" d="M547.1 73.4l-4.6 2.2l3.1 1l4.5-.7z"/>
<path stroke="#f9fb15" fill="#fdfeaf" d="M550.1 75.9l-4.5 .7l3 1.4l4.6 1z"/>
<path stroke="#f9fb15" fill="#fdfeaf" d="M553.2 79l-4.6-1l3.1 1.9l4.5 2.9z"/>
<path stroke="#f9fb15" fill="#fdfeaf" d="M556.2 82.8l-4.5-2.9l3 2.5l4.6 5z"/>
<path class="n" stroke="#f6ef20" d="M559.3 87.4l-3.1-4.6"/>
<path stroke="#f9fb15" fill="#fdfeaf" d="M559.3 87.4l-4.6-5l3.1 3.2l4.5 7.5z"/>
<path class="n" stroke="#f5e924" d="M562.3 93.1l-3-5.7"/>
<path stroke="#f7f51b" fill="#fcfcb2" d="M562.3 93.1l-4.5-7.5l3 4l4.6 10.7z"/>
<path class="n" stroke="#f7dc2a" d="M565.4 100.3l-3.1-7.2"/>
<path stroke="#f6ef20" fill="#fcfab3" d="M565.4 100.3l-4.6-10.7l3.1 5.1l4.5 14.6z"/>
<path class="n" stroke="#f5e327" d="M563.9 94.7l4.5 14.6"/>
<path class="n" stroke="#fec934" d="M568.4 109.3l-3-9"/>
<path stroke="#f5e327" fill="#fcf5b6" d="M568.4 109.3l-4.5-14.6l3 6.6l4.6 19.7z"/>
<path class="n" stroke="#fad62d" d="M566.9 101.3l4.6 19.7"/>
<path class="n" stroke="#f0ba36" d="M571.5 121l-3.1-11.7"/>
<path stroke="#fad62d" fill="#fdf1b8" d="M571.5 121l-4.6-19.7l3.1 8.4l4.6 27.2z"/>
<path class="n" stroke="#febe3c" d="M570 109.7l4.6 27.2"/>
<path class="n" stroke="#b9c431" d="M574.6 136.9l-3.1-15.9"/>
<path stroke="#febe3c" fill="#ffe9bd" d="M574.6 136.9l-4.6-27.2l3 11.1l4.6 40.2z"/>
<path class="n" stroke="#d1bf27" d="M573 120.8l4.6 40.2"/>
<path class="n" stroke="#4acb84" d="M577.6 161l-3-24.1"/>
<path stroke="#d1bf27" fill="#efe9b6" d="M577.6 161l-4.6-40.2l3.1 15.2l4.6 79.2z"/>
<path class="n" stroke="#72cd64" d="M576.1 136l4.6 79.2"/>
<path class="n" stroke="#12b1d6" d="M580.7 215.2l-3.1-54.2"/>
<path stroke="#72cd64" fill="#cfeeca" d="M580.7 215.2l-4.6-79.2l3 22.9l4.6 58z"/>
<path class="n" stroke="#02bac3" d="M579.1 158.9l4.6 58"/>
<path class="n" stroke="#3e26a8" d="M583.7 216.9l-3-1.7"/>
<path stroke="#02bac3" fill="#a9e8eb" d="M583.7 216.9l-4.6-58l3.1 61.2l4.6-1.5z"/>
<path class="n" stroke="#3e26a8" d="M582.2 220.1l4.6-1.5"/>
<path class="n" stroke="#3e26a8" d="M586.8 218.6l-3.1-1.7"/>
<path stroke="#02bac3" fill="#a9e8eb" d="M493.7 87.7l-4.6 26l3.1-3.4l4.5-24.3z"/>
<path class="n" stroke="#24c1ae" d="M492.2 110.3l4.5-24.3"/>
<path class="n" stroke="#8fcb4e" d="M496.7 86l-3 1.7"/>
<path stroke="#24c1ae" fill="#b5eae4" d="M496.7 86l-4.5 24.3l3-3.2l4.6-22.8z"/>
<path class="n" stroke="#31c69f" d="M495.2 107.1l4.6-22.8"/>
<path class="n" stroke="#9dc943" d="M499.8 84.3l-3.1 1.7"/>
<path stroke="#31c69f" fill="#b9ecde" d="M499.8 84.3l-4.6 22.8l3.1-2.9l4.5-21.4z"/>
<path class="n" stroke="#3fca8e" d="M498.3 104.2l4.5-21.4"/>
<path class="n" stroke="#b9c431" d="M502.8 82.8l-3 1.5"/>
<path stroke="#3fca8e" fill="#beedd9" d="M502.8 82.8l-4.5 21.4l3-2.7l4.6-20.1z"/>
<path class="n" stroke="#64cd6f" d="M501.3 101.5l4.6-20.1"/>
<path class="n" stroke="#d1bf27" d="M505.9 81.4l-3.1 1.4"/>
<path stroke="#64cd6f" fill="#caeece" d="M505.9 81.4l-4.6 20.1l3.1-2.5l4.5-18.8z"/>
<path class="n" stroke="#81cc59" d="M504.4 99l4.5-18.8"/>
<path class="n" stroke="#dcbd29" d="M508.9 80.2l-3 1.2"/>
<path stroke="#81cc59" fill="#d4eec6" d="M508.9 80.2l-4.5 18.8l3-2.3l4.6-17.7z"/>
<path class="n" stroke="#9dc943" d="M507.4 96.7l4.6-17.7"/>
<path class="n" stroke="#f0ba36" d="M512 79l-3.1 1.2"/>
<path stroke="#9dc943" fill="#deedbf" d="M512 79l-4.6 17.7l3.1-2.1l4.5-16.7z"/>
<path class="n" stroke="#b9c431" d="M510.5 94.6l4.5-16.7"/>
<path class="n" stroke="#f8ba3d" d="M515 77.9l-3 1.1"/>
<path stroke="#b9c431" fill="#e7ebb9" d="M515 77.9l-4.5 16.7l3-2l4.6-15.6z"/>
<path class="n" stroke="#d1bf27" d="M513.5 92.6l4.6-15.6"/>
<path class="n" stroke="#fec338" d="M518.1 77l-3.1 .9"/>
<path stroke="#d1bf27" fill="#efe9b6" d="M518.1 77l-4.6 15.6l3.1-1.8l4.5-14.6z"/>
<path class="n" stroke="#e6bb2d" d="M516.6 90.8l4.5-14.6"/>
<path class="n" stroke="#fec934" d="M521.1 76.2l-3 .8"/>
<path stroke="#e6bb2d" fill="#f7e8b8" d="M521.1 76.2l-4.5 14.6l3-1.7l4.6-13.6z"/>
<path class="n" stroke="#fad62d" d="M524.2 75.5l-3.1 .7"/>
<path stroke="#f0ba36" fill="#fae7bb" d="M524.2 75.5l-4.6 13.6l3.1-1.5l4.5-12.6z"/>
<path class="n" stroke="#febe3c" d="M522.7 87.6l4.5-12.6"/>
<path class="n" stroke="#f7dc2a" d="M527.2 75l-3 .5"/>
<path stroke="#febe3c" fill="#ffe9bd" d="M527.2 75l-4.5 12.6l3-1.4l4.6-11.5z"/>
<path class="n" stroke="#fec934" d="M525.7 86.2l4.6-11.5"/>
<path class="n" stroke="#f5e327" d="M530.3 74.7l-3.1 .3"/>
<path stroke="#fec934" fill="#ffedba" d="M530.3 74.7l-4.6 11.5l3.1-1.2l4.6-10.4z"/>
<path class="n" stroke="#f5e924" d="M533.4 74.6l-3.1 .1"/>
<path stroke="#fccf30" fill="#feefb9" d="M533.4 74.6l-4.6 10.4l3-1l4.6-9.4z"/>
<path class="n" stroke="#f7dc2a" d="M531.8 84l4.6-9.4"/>
<path class="n" stroke="#f6ef20" d="M536.4 74.6l-3 0"/>
<path stroke="#f7dc2a" fill="#fcf3b7" d="M536.4 74.6l-4.6 9.4l3.1-.8l4.6-8.2z"/>
<path class="n" stroke="#f7f51b" d="M539.5 75l-3.1-.4"/>
<path stroke="#f5e327" fill="#fcf5b6" d="M539.5 75l-4.6 8.2l3-.6l4.6-7z"/>
<path class="n" stroke="#f7f51b" d="M542.5 75.6l-3-.6"/>
<path stroke="#f5e924" fill="#fcf8b5" d="M542.5 75.6l-4.6 7l3.1-.3l4.6-5.7z"/>
<path class="n" stroke="#f9fb15" d="M545.6 76.6l-3.1-1"/>
<path stroke="#f6ef20" fill="#fcfab3" d="M545.6 76.6l-4.6 5.7l3 0l4.6-4.3z"/>
<path class="n" stroke="#f9fb15" d="M548.6 78l-3-1.4"/>
<path stroke="#f7f51b" fill="#fcfcb2" d="M548.6 78l-4.6 4.3l3.1 .4l4.6-2.8z"/>
<path stroke="#f9fb15" fill="#fdfeaf" d="M551.7 79.9l-4.6 2.8l3.1 .7l4.5-1z"/>
<path stroke="#f9fb15" fill="#fdfeaf" d="M554.7 82.4l-4.5 1l3 1.3l4.6 .9z"/>
<path stroke="#f9fb15" fill="#fdfeaf" d="M557.8 85.6l-4.6-.9l3.1 1.8l4.5 3.1z"/>
<path stroke="#f9fb15" fill="#fdfeaf" d="M560.8 89.6l-4.5-3.1l3 2.6l4.6 5.6z"/>
<path class="n" stroke="#f6ef20" d="M563.9 94.7l-3.1-5.1"/>
<path stroke="#f9fb15" fill="#fdfeaf" d="M563.9 94.7l-4.6-5.6l3.1 3.4l4.5 8.8z"/>
<path class="n" stroke="#f5e327" d="M566.9 101.3l-3-6.6"/>
<path stroke="#f7f51b" fill="#fcfcb2" d="M566.9 101.3l-4.5-8.8l3 4.6l4.6 12.6z"/>
<path class="n" stroke="#fad62d" d="M570 109.7l-3.1-8.4"/>
<path stroke="#f6ef20" fill="#fcfab3" d="M570 109.7l-4.6-12.6l3.1 6l4.5 17.7z"/>
<path class="n" stroke="#f7dc2a" d="M568.5 103.1l4.5 17.7"/>
<path class="n" stroke="#febe3c" d="M573 120.8l-3-11.1"/>
<path stroke="#f7dc2a" fill="#fcf3b7" d="M573 120.8l-4.5-17.7l3 7.9l4.6 25z"/>
<path class="n" stroke="#fec934" d="M571.5 111l4.6 25"/>
<path class="n" stroke="#d1bf27" d="M576.1 136l-3.1-15.2"/>
<path stroke="#fec934" fill="#ffedba" d="M576.1 136l-4.6-25l3.1 10.8l4.5 37.1z"/>
<path class="n" stroke="#e6bb2d" d="M574.6 121.8l4.5 37.1"/>
<path class="n" stroke="#72cd64" d="M579.1 158.9l-3-22.9"/>
<path stroke="#e6bb2d" fill="#f7e8b8" d="M579.1 158.9l-4.5-37.1l3 14.9l4.6 83.4z"/>
<path class="n" stroke="#9dc943" d="M577.6 136.7l4.6 83.4"/>
<path class="n" stroke="#02bac3" d="M582.2 220.1l-3.1-61.2"/>
<path stroke="#9dc943" fill="#deedbf" d="M582.2 220.1l-4.6-83.4l3.1 22.8l4.5 62.3z"/>
<path class="n" stroke="#24c1ae" d="M580.7 159.5l4.5 62.3"/>
<path class="n" stroke="#3e26a8" d="M585.2 221.8l-3-1.7"/>
<path stroke="#24c1ae" fill="#b5eae4" d="M585.2 221.8l-4.5-62.3l3 58l4.6 6z"/>
<path class="n" stroke="#4332cb" d="M583.7 217.5l4.6 6"/>
<path class="n" stroke="#3e26a8" d="M588.3 223.5l-3.1-1.7"/>
<path stroke="#4332cb" fill="#bfb9ed" d="M588.3 223.5l-4.6-6l3.1 9.2l4.6-1.5z"/>
<path class="n" stroke="#3e26a8" d="M586.8 226.7l4.6-1.5"/>
<path class="n" stroke="#3e26a8" d="M591.4 225.2l-3.1-1.7"/>
<path stroke="#8b7dcb" fill="#bdb5e2" d="M489.1 113.7l-4.6 60l3.1-8.9l4.6-54.5z"/>
<path stroke="#463cde" fill="#c0bdf4" d="M492.2 110.3l-4.6 54.5l3-15.9l4.6-41.8z"/>
<path class="n" stroke="#3e6fff" d="M490.6 148.9l4.6-41.8"/>
<path class="n" stroke="#24c1ae" d="M495.2 107.1l-3 3.2"/>
<path stroke="#3e6fff" fill="#bdceff" d="M495.2 107.1l-4.6 41.8l3.1-8.6l4.6-36.1z"/>
<path class="n" stroke="#2d8cf3" d="M493.7 140.3l4.6-36.1"/>
<path class="n" stroke="#31c69f" d="M498.3 104.2l-3.1 2.9"/>
<path stroke="#2d8cf3" fill="#b8d8fb" d="M498.3 104.2l-4.6 36.1l3-6.6l4.6-32.2z"/>
<path class="n" stroke="#20a5e3" d="M496.7 133.7l4.6-32.2"/>
<path class="n" stroke="#3fca8e" d="M501.3 101.5l-3 2.7"/>
<path stroke="#20a5e3" fill="#b3e0f5" d="M501.3 101.5l-4.6 32.2l3.1-5.5l4.6-29.2z"/>
<path class="n" stroke="#12b1d6" d="M499.8 128.2l4.6-29.2"/>
<path class="n" stroke="#64cd6f" d="M504.4 99l-3.1 2.5"/>
<path stroke="#12b1d6" fill="#aee5f1" d="M504.4 99l-4.6 29.2l3-4.7l4.6-26.8z"/>
<path class="n" stroke="#0bbdbd" d="M502.8 123.5l4.6-26.8"/>
<path class="n" stroke="#81cc59" d="M507.4 96.7l-3 2.3"/>
<path stroke="#0bbdbd" fill="#ace9e8" d="M507.4 96.7l-4.6 26.8l3.1-4.2l4.6-24.7z"/>
<path class="n" stroke="#2cc4a7" d="M505.9 119.3l4.6-24.7"/>
<path class="n" stroke="#9dc943" d="M510.5 94.6l-3.1 2.1"/>
<path stroke="#2cc4a7" fill="#b7ebe1" d="M510.5 94.6l-4.6 24.7l3.1-3.7l4.5-23z"/>
<path class="n" stroke="#3fca8e" d="M509 115.6l4.5-23"/>
<path class="n" stroke="#b9c431" d="M513.5 92.6l-3 2"/>
<path stroke="#3fca8e" fill="#beedd9" d="M513.5 92.6l-4.5 23l3-3.5l4.6-21.3z"/>
<path class="n" stroke="#57cc7a" d="M512 112.1l4.6-21.3"/>
<path class="n" stroke="#d1bf27" d="M516.6 90.8l-3.1 1.8"/>
<path stroke="#57cc7a" fill="#c6eed2" d="M516.6 90.8l-4.6 21.3l3.1-3.1l4.5-19.9z"/>
<path class="n" stroke="#81cc59" d="M515.1 109l4.5-19.9"/>
<path class="n" stroke="#e6bb2d" d="M519.6 89.1l-3 1.7"/>
<path stroke="#81cc59" fill="#d4eec6" d="M519.6 89.1l-4.5 19.9l3-2.9l4.6-18.5z"/>
<path class="n" stroke="#9dc943" d="M518.1 106.1l4.6-18.5"/>
<path class="n" stroke="#f0ba36" d="M522.7 87.6l-3.1 1.5"/>
<path stroke="#9dc943" fill="#deedbf" d="M522.7 87.6l-4.6 18.5l3.1-2.7l4.5-17.2z"/>
<path class="n" stroke="#c5c22a" d="M521.2 103.4l4.5-17.2"/>
<path class="n" stroke="#febe3c" d="M525.7 86.2l-3 1.4"/>
<path stroke="#c5c22a" fill="#ebeab7" d="M525.7 86.2l-4.5 17.2l3-2.5l4.6-15.9z"/>
<path class="n" stroke="#dcbd29" d="M524.2 100.9l4.6-15.9"/>
<path class="n" stroke="#fec934" d="M528.8 85l-3.1 1.2"/>
<path stroke="#dcbd29" fill="#f3e9b6" d="M528.8 85l-4.6 15.9l3.1-2.3l4.5-14.6z"/>
<path class="n" stroke="#f0ba36" d="M527.3 98.6l4.5-14.6"/>
<path class="n" stroke="#fccf30" d="M531.8 84l-3 1"/>
<path stroke="#f0ba36" fill="#fae7bb" d="M531.8 84l-4.5 14.6l3-2l4.6-13.4z"/>
<path class="n" stroke="#febe3c" d="M530.3 96.6l4.6-13.4"/>
<path class="n" stroke="#f7dc2a" d="M534.9 83.2l-3.1 .8"/>
<path stroke="#febe3c" fill="#ffe9bd" d="M534.9 83.2l-4.6 13.4l3.1-1.8l4.5-12.2z"/>
<path class="n" stroke="#fec934" d="M533.4 94.8l4.5-12.2"/>
<path class="n" stroke="#f5e327" d="M537.9 82.6l-3 .6"/>
<path stroke="#fec934" fill="#ffedba" d="M537.9 82.6l-4.5 12.2l3-1.7l4.6-10.8z"/>
<path class="n" stroke="#f5e924" d="M541 82.3l-3.1 .3"/>
<path stroke="#fccf30" fill="#feefb9" d="M541 82.3l-4.6 10.8l3.1-1.3l4.5-9.5z"/>
<path class="n" stroke="#f7dc2a" d="M539.5 91.8l4.5-9.5"/>
<path class="n" stroke="#f6ef20" d="M544 82.3l-3 0"/>
<path stroke="#f7dc2a" fill="#fcf3b7" d="M544 82.3l-4.5 9.5l3-1.1l4.6-8z"/>
<path class="n" stroke="#f7f51b" d="M547.1 82.7l-3.1-.4"/>
<path stroke="#f5e327" fill="#fcf5b6" d="M547.1 82.7l-4.6 8l3.1-.7l4.6-6.6z"/>
<path class="n" stroke="#f6ef20" d="M545.6 90l4.6-6.6"/>
<path class="n" stroke="#f9fb15" d="M550.2 83.4l-3.1-.7"/>
<path stroke="#f6ef20" fill="#fcfab3" d="M550.2 83.4l-4.6 6.6l3-.4l4.6-4.9z"/>
<path class="n" stroke="#f9fb15" d="M553.2 84.7l-3-1.3"/>
<path stroke="#f7f51b" fill="#fcfcb2" d="M553.2 84.7l-4.6 4.9l3.1 0l4.6-3.1z"/>
<path stroke="#f9fb15" fill="#fdfeaf" d="M556.3 86.5l-4.6 3.1l3 .5l4.6-1z"/>
<path stroke="#f9fb15" fill="#fdfeaf" d="M559.3 89.1l-4.6 1l3.1 1.2l4.6 1.2z"/>
<path stroke="#f9fb15" fill="#fdfeaf" d="M562.4 92.5l-4.6-1.2l3 1.9l4.6 3.9z"/>
<path stroke="#f9fb15" fill="#fdfeaf" d="M565.4 97.1l-4.6-3.9l3.1 2.8l4.6 7.1z"/>
<path class="n" stroke="#f6ef20" d="M568.5 103.1l-3.1-6"/>
<path stroke="#f9fb15" fill="#fdfeaf" d="M568.5 103.1l-4.6-7.1l3.1 4l4.5 11z"/>
<path class="n" stroke="#f7dc2a" d="M571.5 111l-3-7.9"/>
<path stroke="#f7f51b" fill="#fcfcb2" d="M571.5 111l-4.5-11l3 5.5l4.6 16.3z"/>
<path class="n" stroke="#f5e924" d="M570 105.5l4.6 16.3"/>
<path class="n" stroke="#fec934" d="M574.6 121.8l-3.1-10.8"/>
<path stroke="#f5e924" fill="#fcf8b5" d="M574.6 121.8l-4.6-16.3l3.1 7.6l4.5 23.6z"/>
<path class="n" stroke="#fad62d" d="M573.1 113.1l4.5 23.6"/>
<path class="n" stroke="#e6bb2d" d="M577.6 136.7l-3-14.9"/>
<path stroke="#fad62d" fill="#fdf1b8" d="M577.6 136.7l-4.5-23.6l3 10.6l4.6 35.8z"/>
<path class="n" stroke="#f8ba3d" d="M576.1 123.7l4.6 35.8"/>
<path class="n" stroke="#9dc943" d="M580.7 159.5l-3.1-22.8"/>
<path stroke="#f8ba3d" fill="#fde8bd" d="M580.7 159.5l-4.6-35.8l3.1 15.3l4.5 78.5z"/>
<path class="n" stroke="#abc739" d="M579.2 139l4.5 78.5"/>
<path class="n" stroke="#24c1ae" d="M583.7 217.5l-3-58"/>
<path stroke="#abc739" fill="#e3ecbc" d="M583.7 217.5l-4.5-78.5l3 23.9l4.6 63.8z"/>
<path class="n" stroke="#24c1ae" d="M582.2 162.9l4.6 63.8"/>
<path class="n" stroke="#4332cb" d="M586.8 226.7l-3.1-9.2"/>
<path stroke="#24c1ae" fill="#b5eae4" d="M586.8 226.7l-4.6-63.8l3.1 67l4.5-1.5z"/>
<path class="n" stroke="#3e26a8" d="M585.3 229.9l4.5-1.5"/>
<path class="n" stroke="#3e26a8" d="M589.8 228.4l-3-1.7"/>
<path stroke="#3e26a8" fill="#bdb5e2" d="M484.5 173.7l-4.5 1.4l3 1.7l4.6-12z"/>
<path stroke="#8b7dcb" fill="#bdb5e2" d="M487.6 164.8l-4.6 12l3.1 1.8l4.5-29.7z"/>
<path stroke="#8b7dcb" fill="#bdb5e2" d="M490.6 148.9l-4.5 29.7l3 1.7l4.6-40z"/>
<path stroke="#8b7dcb" fill="#bdb5e2" d="M493.7 140.3l-4.6 40l3.1 1.7l4.5-48.3z"/>
<path stroke="#8b7dcb" fill="#bdb5e2" d="M496.7 133.7l-4.5 48.3l3 1.7l4.6-55.5z"/>
<path stroke="#8b7dcb" fill="#bdb5e2" d="M499.8 128.2l-4.6 55.5l3.1 1.7l4.5-61.9z"/>
<path stroke="#8b7dcb" fill="#bdb5e2" d="M502.8 123.5l-4.5 61.9l3-11.1l4.6-55z"/>
<path stroke="#4741e5" fill="#c0bef6" d="M505.9 119.3l-4.6 55l3.1-16.7l4.6-42z"/>
<path class="n" stroke="#327cfc" d="M504.4 157.6l4.6-42"/>
<path class="n" stroke="#2cc4a7" d="M509 115.6l-3.1 3.7"/>
<path stroke="#327cfc" fill="#b9d2fe" d="M509 115.6l-4.6 42l3-9.5l4.6-36z"/>
<path class="n" stroke="#2797eb" d="M507.4 148.1l4.6-36"/>
<path class="n" stroke="#3fca8e" d="M512 112.1l-3 3.5"/>
<path stroke="#2797eb" fill="#b6dbf8" d="M512 112.1l-4.6 36l3.1-7.3l4.6-31.8z"/>
<path class="n" stroke="#18addb" d="M510.5 140.8l4.6-31.8"/>
<path class="n" stroke="#57cc7a" d="M515.1 109l-3.1 3.1"/>
<path stroke="#18addb" fill="#b1e3f3" d="M515.1 109l-4.6 31.8l3-6l4.6-28.7z"/>
<path class="n" stroke="#02bac3" d="M513.5 134.8l4.6-28.7"/>
<path class="n" stroke="#81cc59" d="M518.1 106.1l-3 2.9"/>
<path stroke="#02bac3" fill="#a9e8eb" d="M518.1 106.1l-4.6 28.7l3.1-5.3l4.6-26.1z"/>
<path class="n" stroke="#2cc4a7" d="M516.6 129.5l4.6-26.1"/>
<path class="n" stroke="#9dc943" d="M521.2 103.4l-3.1 2.7"/>
<path stroke="#2cc4a7" fill="#b7ebe1" d="M521.2 103.4l-4.6 26.1l3-4.7l4.6-23.9z"/>
<path class="n" stroke="#3fca8e" d="M519.6 124.8l4.6-23.9"/>
<path class="n" stroke="#c5c22a" d="M524.2 100.9l-3 2.5"/>
<path stroke="#3fca8e" fill="#beedd9" d="M524.2 100.9l-4.6 23.9l3.1-4.2l4.6-22z"/>
<path class="n" stroke="#64cd6f" d="M522.7 120.6l4.6-22"/>
<path class="n" stroke="#dcbd29" d="M527.3 98.6l-3.1 2.3"/>
<path stroke="#64cd6f" fill="#caeece" d="M527.3 98.6l-4.6 22l3.1-3.8l4.5-20.2z"/>
<path class="n" stroke="#8fcb4e" d="M525.8 116.8l4.5-20.2"/>
<path class="n" stroke="#f0ba36" d="M530.3 96.6l-3 2"/>
<path stroke="#8fcb4e" fill="#d9edc3" d="M530.3 96.6l-4.5 20.2l3-3.5l4.6-18.5z"/>
<path class="n" stroke="#b9c431" d="M528.8 113.3l4.6-18.5"/>
<path class="n" stroke="#febe3c" d="M533.4 94.8l-3.1 1.8"/>
<path stroke="#b9c431" fill="#e7ebb9" d="M533.4 94.8l-4.6 18.5l3.1-3.2l4.5-17z"/>
<path class="n" stroke="#d1bf27" d="M531.9 110.1l4.5-17"/>
<path class="n" stroke="#fec934" d="M536.4 93.1l-3 1.7"/>
<path stroke="#d1bf27" fill="#efe9b6" d="M536.4 93.1l-4.5 17l3-2.9l4.6-15.4z"/>
<path class="n" stroke="#f0ba36" d="M534.9 107.2l4.6-15.4"/>
<path class="n" stroke="#fccf30" d="M539.5 91.8l-3.1 1.3"/>
<path stroke="#f0ba36" fill="#fae7bb" d="M539.5 91.8l-4.6 15.4l3.1-2.6l4.5-13.9z"/>
<path class="n" stroke="#febe3c" d="M538 104.6l4.5-13.9"/>
<path class="n" stroke="#f7dc2a" d="M542.5 90.7l-3 1.1"/>
<path stroke="#febe3c" fill="#ffe9bd" d="M542.5 90.7l-4.5 13.9l3-2.3l4.6-12.3z"/>
<path class="n" stroke="#fec934" d="M541 102.3l4.6-12.3"/>
<path class="n" stroke="#f5e327" d="M545.6 90l-3.1 .7"/>
<path stroke="#fec934" fill="#ffedba" d="M545.6 90l-4.6 12.3l3.1-2l4.5-10.7z"/>
<path class="n" stroke="#fad62d" d="M544.1 100.3l4.5-10.7"/>
<path class="n" stroke="#f6ef20" d="M548.6 89.6l-3 .4"/>
<path stroke="#fad62d" fill="#fdf1b8" d="M548.6 89.6l-4.5 10.7l3-1.7l4.6-9z"/>
<path class="n" stroke="#f5e327" d="M547.1 98.6l4.6-9"/>
<path class="n" stroke="#f7f51b" d="M551.7 89.6l-3.1 0"/>
<path stroke="#f5e327" fill="#fcf5b6" d="M551.7 89.6l-4.6 9l3.1-1.2l4.5-7.3z"/>
<path class="n" stroke="#f9fb15" d="M554.7 90.1l-3-.5"/>
<path stroke="#f5e924" fill="#fcf8b5" d="M554.7 90.1l-4.5 7.3l3-.8l4.6-5.3z"/>
<path class="n" stroke="#f7f51b" d="M553.2 96.6l4.6-5.3"/>
<path class="n" stroke="#f9fb15" d="M557.8 91.3l-3.1-1.2"/>
<path stroke="#f7f51b" fill="#fcfcb2" d="M557.8 91.3l-4.6 5.3l3.1-.3l4.5-3.1z"/>
<path stroke="#f9fb15" fill="#fdfeaf" d="M560.8 93.2l-4.5 3.1l3 .4l4.6-.7z"/>
<path stroke="#f9fb15" fill="#fdfeaf" d="M563.9 96l-4.6 .7l3.1 1.1l4.6 2.2z"/>
<path stroke="#f9fb15" fill="#fdfeaf" d="M567 100l-4.6-2.2l3 2.2l4.6 5.5z"/>
<path stroke="#f9fb15" fill="#fdfeaf" d="M570 105.5l-4.6-5.5l3.1 3.5l4.6 9.6z"/>
<path class="n" stroke="#f5e924" d="M573.1 113.1l-3.1-7.6"/>
<path stroke="#f7f51b" fill="#fcfcb2" d="M573.1 113.1l-4.6-9.6l3 5.1l4.6 15.1z"/>
<path class="n" stroke="#fad62d" d="M576.1 123.7l-3-10.6"/>
<path stroke="#f6ef20" fill="#fcfab3" d="M576.1 123.7l-4.6-15.1l3.1 7.4l4.6 23z"/>
<path class="n" stroke="#f7dc2a" d="M574.6 116l4.6 23"/>
<path class="n" stroke="#f8ba3d" d="M579.2 139l-3.1-15.3"/>
<path stroke="#f7dc2a" fill="#fcf3b7" d="M579.2 139l-4.6-23l3 10.8l4.6 36.1z"/>
<path class="n" stroke="#febe3c" d="M577.6 126.8l4.6 36.1"/>
<path class="n" stroke="#abc739" d="M582.2 162.9l-3-23.9"/>
<path stroke="#febe3c" fill="#ffe9bd" d="M582.2 162.9l-4.6-36.1l3.1 16.2l4.6 86.9z"/>
<path class="n" stroke="#abc739" d="M580.7 143l4.6 86.9"/>
<path class="n" stroke="#24c1ae" d="M585.3 229.9l-3.1-67"/>
<path stroke="#abc739" fill="#e3ecbc" d="M585.3 229.9l-4.6-86.9l3.1 26.8l4.5 61.8z"/>
<path class="n" stroke="#19bfb6" d="M583.8 169.8l4.5 61.8"/>
<path class="n" stroke="#3e26a8" d="M588.3 231.6l-3-1.7"/>
<path stroke="#19bfb6" fill="#b1e9e6" d="M588.3 231.6l-4.5-61.8l3 65l4.6-1.5z"/>
<path class="n" stroke="#3e26a8" d="M586.8 234.8l4.6-1.5"/>
<path class="n" stroke="#3e26a8" d="M591.4 233.3l-3.1-1.7"/>
<path stroke="#8b7dcb" fill="#bdb5e2" d="M498.3 185.4l-4.6 1.5l3.1 1.7l4.5-14.3z"/>
<path stroke="#8b7dcb" fill="#bdb5e2" d="M501.3 174.3l-4.5 14.3l3 1.7l4.6-32.7z"/>
<path stroke="#8b7dcb" fill="#bdb5e2" d="M504.4 157.6l-4.6 32.7l3.1 1.7l4.5-43.9z"/>
<path stroke="#8b7dcb" fill="#bdb5e2" d="M507.4 148.1l-4.5 43.9l3 1.7l4.6-52.9z"/>
<path stroke="#8b7dcb" fill="#bdb5e2" d="M510.5 140.8l-4.6 52.9l3.1 1.7l4.5-60.6z"/>
<path stroke="#8b7dcb" fill="#bdb5e2" d="M513.5 134.8l-4.5 60.6l3 1.7l4.6-67.6z"/>
<path stroke="#8b7dcb" fill="#bdb5e2" d="M516.6 129.5l-4.6 67.6l3.1-25.7l4.5-46.6z"/>
<path stroke="#3e6fff" fill="#bdceff" d="M519.6 124.8l-4.5 46.6l3-12.4l4.6-38.4z"/>
<path class="n" stroke="#2797eb" d="M518.1 159l4.6-38.4"/>
<path class="n" stroke="#3fca8e" d="M522.7 120.6l-3.1 4.2"/>
<path stroke="#2797eb" fill="#b6dbf8" d="M522.7 120.6l-4.6 38.4l3.1-9l4.6-33.2z"/>
<path class="n" stroke="#12b1d6" d="M521.2 150l4.6-33.2"/>
<path class="n" stroke="#64cd6f" d="M525.8 116.8l-3.1 3.8"/>
<path stroke="#12b1d6" fill="#aee5f1" d="M525.8 116.8l-4.6 33.2l3-7.2l4.6-29.5z"/>
<path class="n" stroke="#0bbdbd" d="M524.2 142.8l4.6-29.5"/>
<path class="n" stroke="#8fcb4e" d="M528.8 113.3l-3 3.5"/>
<path stroke="#0bbdbd" fill="#ace9e8" d="M528.8 113.3l-4.6 29.5l3.1-6.2l4.6-26.5z"/>
<path class="n" stroke="#31c69f" d="M527.3 136.6l4.6-26.5"/>
<path class="n" stroke="#b9c431" d="M531.9 110.1l-3.1 3.2"/>
<path stroke="#31c69f" fill="#b9ecde" d="M531.9 110.1l-4.6 26.5l3-5.4l4.6-24z"/>
<path class="n" stroke="#57cc7a" d="M530.3 131.2l4.6-24"/>
<path class="n" stroke="#d1bf27" d="M534.9 107.2l-3 2.9"/>
<path stroke="#57cc7a" fill="#c6eed2" d="M534.9 107.2l-4.6 24l3.1-4.9l4.6-21.7z"/>
<path class="n" stroke="#81cc59" d="M533.4 126.3l4.6-21.7"/>
<path class="n" stroke="#f0ba36" d="M538 104.6l-3.1 2.6"/>
<path stroke="#81cc59" fill="#d4eec6" d="M538 104.6l-4.6 21.7l3-4.4l4.6-19.6z"/>
<path class="n" stroke="#b9c431" d="M536.4 121.9l4.6-19.6"/>
<path class="n" stroke="#febe3c" d="M541 102.3l-3 2.3"/>
<path stroke="#b9c431" fill="#e7ebb9" d="M541 102.3l-4.6 19.6l3.1-4l4.6-17.6z"/>
<path class="n" stroke="#dcbd29" d="M539.5 117.9l4.6-17.6"/>
<path class="n" stroke="#fec934" d="M544.1 100.3l-3.1 2"/>
<path stroke="#dcbd29" fill="#f3e9b6" d="M544.1 100.3l-4.6 17.6l3.1-3.5l4.5-15.8z"/>
<path class="n" stroke="#f0ba36" d="M542.6 114.4l4.5-15.8"/>
<path class="n" stroke="#fad62d" d="M547.1 98.6l-3 1.7"/>
<path stroke="#f0ba36" fill="#fae7bb" d="M547.1 98.6l-4.5 15.8l3-3.2l4.6-13.8z"/>
<path class="n" stroke="#fec338" d="M545.6 111.2l4.6-13.8"/>
<path class="n" stroke="#f5e327" d="M550.2 97.4l-3.1 1.2"/>
<path stroke="#fec338" fill="#ffebbb" d="M550.2 97.4l-4.6 13.8l3.1-2.8l4.5-11.8z"/>
<path class="n" stroke="#fccf30" d="M548.7 108.4l4.5-11.8"/>
<path class="n" stroke="#f5e924" d="M553.2 96.6l-3 .8"/>
<path stroke="#fccf30" fill="#feefb9" d="M553.2 96.6l-4.5 11.8l3-2.3l4.6-9.8z"/>
<path class="n" stroke="#f7dc2a" d="M551.7 106.1l4.6-9.8"/>
<path class="n" stroke="#f7f51b" d="M556.3 96.3l-3.1 .3"/>
<path stroke="#f7dc2a" fill="#fcf3b7" d="M556.3 96.3l-4.6 9.8l3.1-1.7l4.5-7.7z"/>
<path class="n" stroke="#f5e924" d="M554.8 104.4l4.5-7.7"/>
<path class="n" stroke="#f9fb15" d="M559.3 96.7l-3-.4"/>
<path stroke="#f5e924" fill="#fcf8b5" d="M559.3 96.7l-4.5 7.7l3-1.2l4.6-5.4z"/>
<path class="n" stroke="#f7f51b" d="M557.8 103.2l4.6-5.4"/>
<path class="n" stroke="#f9fb15" d="M562.4 97.8l-3.1-1.1"/>
<path stroke="#f7f51b" fill="#fcfcb2" d="M562.4 97.8l-4.6 5.4l3.1-.5l4.5-2.7z"/>
<path stroke="#f9fb15" fill="#fdfeaf" d="M565.4 100l-4.5 2.7l3 .3l4.6 .5z"/>
<path stroke="#f9fb15" fill="#fdfeaf" d="M568.5 103.5l-4.6-.5l3.1 1.5l4.5 4.1z"/>
<path stroke="#f9fb15" fill="#fdfeaf" d="M571.5 108.6l-4.5-4.1l3 2.9l4.6 8.6z"/>
<path class="n" stroke="#f6ef20" d="M574.6 116l-3.1-7.4"/>
<path stroke="#f9fb15" fill="#fdfeaf" d="M574.6 116l-4.6-8.6l3.1 4.8l4.5 14.6z"/>
<path class="n" stroke="#f6ef20" d="M573.1 112.2l4.5 14.6"/>
<path class="n" stroke="#f7dc2a" d="M577.6 126.8l-3-10.8"/>
<path stroke="#f6ef20" fill="#fcfab3" d="M577.6 126.8l-4.5-14.6l3 7.4l4.6 23.4z"/>
<path class="n" stroke="#f7dc2a" d="M576.1 119.6l4.6 23.4"/>
<path class="n" stroke="#febe3c" d="M580.7 143l-3.1-16.2"/>
<path stroke="#f7dc2a" fill="#fcf3b7" d="M580.7 143l-4.6-23.4l3.1 11.5l4.6 38.7z"/>
<path class="n" stroke="#febe3c" d="M579.2 131.1l4.6 38.7"/>
<path class="n" stroke="#abc739" d="M583.8 169.8l-3.1-26.8"/>
<path stroke="#febe3c" fill="#ffe9bd" d="M583.8 169.8l-4.6-38.7l3 18.1l4.6 85.6z"/>
<path class="n" stroke="#abc739" d="M582.2 149.2l4.6 85.6"/>
<path class="n" stroke="#19bfb6" d="M586.8 234.8l-3-65"/>
<path stroke="#abc739" fill="#e3ecbc" d="M586.8 234.8l-4.6-85.6l3.1 33.1l4.6 54.2z"/>
<path class="n" stroke="#08b5d0" d="M585.3 182.3l4.6 54.2"/>
<path class="n" stroke="#3e26a8" d="M589.9 236.5l-3.1-1.7"/>
<path stroke="#08b5d0" fill="#abe6ef" d="M589.9 236.5l-4.6-54.2l3 57.4l4.6-1.5z"/>
<path class="n" stroke="#3e26a8" d="M588.3 239.7l4.6-1.5"/>
<path class="n" stroke="#3e26a8" d="M592.9 238.2l-3-1.7"/>
<path stroke="#8b7dcb" fill="#bdb5e2" d="M512 197.1l-4.5 1.5l3 1.7l4.6-28.9z"/>
<path stroke="#8b7dcb" fill="#bdb5e2" d="M515.1 171.4l-4.6 28.9l3.1 1.7l4.5-43z"/>
<path stroke="#8b7dcb" fill="#bdb5e2" d="M518.1 159l-4.5 43l3 1.7l4.6-53.7z"/>
<path stroke="#8b7dcb" fill="#bdb5e2" d="M521.2 150l-4.6 53.7l3.1 1.7l4.5-62.6z"/>
<path stroke="#8b7dcb" fill="#bdb5e2" d="M524.2 142.8l-4.5 62.6l3 1.7l4.6-70.5z"/>
<path stroke="#8b7dcb" fill="#bdb5e2" d="M527.3 136.6l-4.6 70.5l3.1-29.8l4.5-46.1z"/>
<path stroke="#327cfc" fill="#b9d2fe" d="M530.3 131.2l-4.5 46.1l3-13.2l4.6-37.8z"/>
<path class="n" stroke="#20a5e3" d="M528.8 164.1l4.6-37.8"/>
<path class="n" stroke="#57cc7a" d="M533.4 126.3l-3.1 4.9"/>
<path stroke="#20a5e3" fill="#b3e0f5" d="M533.4 126.3l-4.6 37.8l3.1-9.7l4.5-32.5z"/>
<path class="n" stroke="#01b8ca" d="M531.9 154.4l4.5-32.5"/>
<path class="n" stroke="#81cc59" d="M536.4 121.9l-3 4.4"/>
<path stroke="#01b8ca" fill="#a9e7ed" d="M536.4 121.9l-4.5 32.5l3-7.9l4.6-28.6z"/>
<path class="n" stroke="#2cc4a7" d="M534.9 146.5l4.6-28.6"/>
<path class="n" stroke="#b9c431" d="M539.5 117.9l-3.1 4"/>
<path stroke="#2cc4a7" fill="#b7ebe1" d="M539.5 117.9l-4.6 28.6l3.1-6.8l4.6-25.3z"/>
<path class="n" stroke="#57cc7a" d="M538 139.7l4.6-25.3"/>
<path class="n" stroke="#dcbd29" d="M542.6 114.4l-3.1 3.5"/>
<path stroke="#57cc7a" fill="#c6eed2" d="M542.6 114.4l-4.6 25.3l3-6l4.6-22.5z"/>
<path class="n" stroke="#8fcb4e" d="M541 133.7l4.6-22.5"/>
<path class="n" stroke="#f0ba36" d="M545.6 111.2l-3 3.2"/>
<path stroke="#8fcb4e" fill="#d9edc3" d="M545.6 111.2l-4.6 22.5l3.1-5.3l4.6-20z"/>
<path class="n" stroke="#c5c22a" d="M544.1 128.4l4.6-20"/>
<path class="n" stroke="#fec338" d="M548.7 108.4l-3.1 2.8"/>
<path stroke="#c5c22a" fill="#ebeab7" d="M548.7 108.4l-4.6 20l3-4.7l4.6-17.6z"/>
<path class="n" stroke="#e6bb2d" d="M547.1 123.7l4.6-17.6"/>
<path class="n" stroke="#fccf30" d="M551.7 106.1l-3 2.3"/>
<path stroke="#e6bb2d" fill="#f7e8b8" d="M551.7 106.1l-4.6 17.6l3.1-4.1l4.6-15.2z"/>
<path class="n" stroke="#febe3c" d="M550.2 119.6l4.6-15.2"/>
<path class="n" stroke="#f7dc2a" d="M554.8 104.4l-3.1 1.7"/>
<path stroke="#febe3c" fill="#ffe9bd" d="M554.8 104.4l-4.6 15.2l3-3.6l4.6-12.8z"/>
<path class="n" stroke="#fccf30" d="M553.2 116l4.6-12.8"/>
<path class="n" stroke="#f5e924" d="M557.8 103.2l-3 1.2"/>
<path stroke="#fccf30" fill="#feefb9" d="M557.8 103.2l-4.6 12.8l3.1-3l4.6-10.3z"/>
<path class="n" stroke="#f7dc2a" d="M556.3 113l4.6-10.3"/>
<path class="n" stroke="#f7f51b" d="M560.9 102.7l-3.1 .5"/>
<path stroke="#f7dc2a" fill="#fcf3b7" d="M560.9 102.7l-4.6 10.3l3.1-2.3l4.5-7.7z"/>
<path class="n" stroke="#f5e924" d="M559.4 110.7l4.5-7.7"/>
<path class="n" stroke="#f9fb15" d="M563.9 103l-3-.3"/>
<path stroke="#f5e924" fill="#fcf8b5" d="M563.9 103l-4.5 7.7l3-1.5l4.6-4.7z"/>
<path class="n" stroke="#f7f51b" d="M562.4 109.2l4.6-4.7"/>
<path class="n" stroke="#f9fb15" d="M567 104.5l-3.1-1.5"/>
<path stroke="#f7f51b" fill="#fcfcb2" d="M567 104.5l-4.6 4.7l3.1-.6l4.5-1.2z"/>
<path stroke="#f9fb15" fill="#fdfeaf" d="M570 107.4l-4.5 1.2l3 .8l4.6 2.8z"/>
<path stroke="#f9fb15" fill="#fdfeaf" d="M573.1 112.2l-4.6-2.8l3.1 2.3l4.5 7.9z"/>
<path class="n" stroke="#f6ef20" d="M576.1 119.6l-3-7.4"/>
<path stroke="#f9fb15" fill="#fdfeaf" d="M576.1 119.6l-4.5-7.9l3 4.6l4.6 14.8z"/>
<path class="n" stroke="#f7dc2a" d="M579.2 131.1l-3.1-11.5"/>
<path stroke="#f7f51b" fill="#fcfcb2" d="M579.2 131.1l-4.6-14.8l3.1 7.8l4.5 25.1z"/>
<path class="n" stroke="#f7dc2a" d="M577.7 124.1l4.5 25.1"/>
<path class="n" stroke="#febe3c" d="M582.2 149.2l-3-18.1"/>
<path stroke="#f7dc2a" fill="#fcf3b7" d="M582.2 149.2l-4.5-25.1l3 12.9l4.6 45.3z"/>
<path class="n" stroke="#febe3c" d="M580.7 137l4.6 45.3"/>
<path class="n" stroke="#abc739" d="M585.3 182.3l-3.1-33.1"/>
<path stroke="#febe3c" fill="#ffe9bd" d="M585.3 182.3l-4.6-45.3l3.1 22.1l4.5 80.6z"/>
<path class="n" stroke="#81cc59" d="M583.8 159.1l4.5 80.6"/>
<path class="n" stroke="#08b5d0" d="M588.3 239.7l-3-57.4"/>
<path stroke="#81cc59" fill="#d4eec6" d="M588.3 239.7l-4.5-80.6l3 49.9l4.6 32.4z"/>
<path class="n" stroke="#2f81fa" d="M586.8 209l4.6 32.4"/>
<path class="n" stroke="#3e26a8" d="M591.4 241.4l-3.1-1.7"/>
<path stroke="#2f81fa" fill="#b8d4fd" d="M591.4 241.4l-4.6-32.4l3.1 35.6l4.5-1.5z"/>
<path class="n" stroke="#3e26a8" d="M589.9 244.6l4.5-1.5"/>
<path class="n" stroke="#3e26a8" d="M594.4 243.1l-3-1.7"/>
<path stroke="#8b7dcb" fill="#bdb5e2" d="M522.7 207.1l-4.5 1.5l3 1.7l4.6-33z"/>
<path stroke="#8b7dcb" fill="#bdb5e2" d="M525.8 177.3l-4.6 33l3.1 1.7l4.5-47.9z"/>
<path stroke="#8b7dcb" fill="#bdb5e2" d="M528.8 164.1l-4.5 47.9l3 1.7l4.6-59.3z"/>
<path stroke="#8b7dcb" fill="#bdb5e2" d="M531.9 154.4l-4.6 59.3l3.1 1.7l4.5-68.9z"/>
<path stroke="#8b7dcb" fill="#bdb5e2" d="M534.9 146.5l-4.5 68.9l3-21.8l4.6-53.9z"/>
<path stroke="#4563fd" fill="#c0cafe" d="M538 139.7l-4.6 53.9l3.1-18.7l4.5-41.2z"/>
<path class="n" stroke="#259be8" d="M536.5 174.9l4.5-41.2"/>
<path class="n" stroke="#57cc7a" d="M541 133.7l-3 6"/>
<path stroke="#259be8" fill="#b5ddf7" d="M541 133.7l-4.5 41.2l3-12.2l4.6-34.3z"/>
<path class="n" stroke="#01b8ca" d="M539.5 162.7l4.6-34.3"/>
<path class="n" stroke="#8fcb4e" d="M544.1 128.4l-3.1 5.3"/>
<path stroke="#01b8ca" fill="#a9e7ed" d="M544.1 128.4l-4.6 34.3l3.1-9.5l4.5-29.5z"/>
<path class="n" stroke="#31c69f" d="M542.6 153.2l4.5-29.5"/>
<path class="n" stroke="#c5c22a" d="M547.1 123.7l-3 4.7"/>
<path stroke="#31c69f" fill="#b9ecde" d="M547.1 123.7l-4.5 29.5l3-8l4.6-25.6z"/>
<path class="n" stroke="#64cd6f" d="M545.6 145.2l4.6-25.6"/>
<path class="n" stroke="#e6bb2d" d="M550.2 119.6l-3.1 4.1"/>
<path stroke="#64cd6f" fill="#caeece" d="M550.2 119.6l-4.6 25.6l3.1-7l4.5-22.2z"/>
<path class="n" stroke="#abc739" d="M548.7 138.2l4.5-22.2"/>
<path class="n" stroke="#febe3c" d="M553.2 116l-3 3.6"/>
<path stroke="#abc739" fill="#e3ecbc" d="M553.2 116l-4.5 22.2l3-6l4.6-19.2z"/>
<path class="n" stroke="#dcbd29" d="M551.7 132.2l4.6-19.2"/>
<path class="n" stroke="#fccf30" d="M556.3 113l-3.1 3"/>
<path stroke="#dcbd29" fill="#f3e9b6" d="M556.3 113l-4.6 19.2l3.1-5.3l4.6-16.2z"/>
<path class="n" stroke="#febe3c" d="M554.8 126.9l4.6-16.2"/>
<path class="n" stroke="#f7dc2a" d="M559.4 110.7l-3.1 2.3"/>
<path stroke="#febe3c" fill="#ffe9bd" d="M559.4 110.7l-4.6 16.2l3-4.5l4.6-13.2z"/>
<path class="n" stroke="#fccf30" d="M557.8 122.4l4.6-13.2"/>
<path class="n" stroke="#f5e924" d="M562.4 109.2l-3 1.5"/>
<path stroke="#fccf30" fill="#feefb9" d="M562.4 109.2l-4.6 13.2l3.1-3.7l4.6-10.1z"/>
<path class="n" stroke="#f5e327" d="M560.9 118.7l4.6-10.1"/>
<path class="n" stroke="#f7f51b" d="M565.5 108.6l-3.1 .6"/>
<path stroke="#f5e327" fill="#fcf5b6" d="M565.5 108.6l-4.6 10.1l3-2.7l4.6-6.6z"/>
<path class="n" stroke="#f6ef20" d="M563.9 116l4.6-6.6"/>
<path class="n" stroke="#f9fb15" d="M568.5 109.4l-3-.8"/>
<path stroke="#f6ef20" fill="#fcfab3" d="M568.5 109.4l-4.6 6.6l3.1-1.5l4.6-2.8z"/>
<path class="n" stroke="#f9fb15" d="M571.6 111.7l-3.1-2.3"/>
<path stroke="#f7f51b" fill="#fcfcb2" d="M571.6 111.7l-4.6 2.8l3-.1l4.6 1.9z"/>
<path stroke="#f9fb15" fill="#fdfeaf" d="M574.6 116.3l-4.6-1.9l3.1 1.9l4.6 7.8z"/>
<path stroke="#f9fb15" fill="#fdfeaf" d="M577.7 124.1l-4.6-7.8l3.1 4.7l4.5 16z"/>
<path class="n" stroke="#f7dc2a" d="M580.7 137l-3-12.9"/>
<path stroke="#f7f51b" fill="#fcfcb2" d="M580.7 137l-4.5-16l3 8.9l4.6 29.2z"/>
<path class="n" stroke="#f7dc2a" d="M579.2 129.9l4.6 29.2"/>
<path class="n" stroke="#febe3c" d="M583.8 159.1l-3.1-22.1"/>
<path stroke="#f7dc2a" fill="#fcf3b7" d="M583.8 159.1l-4.6-29.2l3.1 15.8l4.5 63.3z"/>
<path class="n" stroke="#f0ba36" d="M582.3 145.7l4.5 63.3"/>
<path class="n" stroke="#81cc59" d="M586.8 209l-3-49.9"/>
<path stroke="#f0ba36" fill="#fae7bb" d="M586.8 209l-4.5-63.3l3 30.5l4.6 68.4z"/>
<path class="n" stroke="#37c897" d="M585.3 176.2l4.6 68.4"/>
<path class="n" stroke="#2f81fa" d="M589.9 244.6l-3.1-35.6"/>
<path stroke="#37c897" fill="#bbecdc" d="M589.9 244.6l-4.6-68.4l3.1 71.6l4.5-1.5z"/>
<path class="n" stroke="#3e26a8" d="M588.4 247.8l4.5-1.5"/>
<path class="n" stroke="#3e26a8" d="M592.9 246.3l-3-1.7"/>
<path stroke="#8b7dcb" fill="#bdb5e2" d="M530.4 215.4l-4.6 1.5l3 1.7l4.6-25z"/>
<path stroke="#8b7dcb" fill="#bdb5e2" d="M533.4 193.6l-4.6 25l3.1 1.7l4.6-45.4z"/>
<path stroke="#8b7dcb" fill="#bdb5e2" d="M536.5 174.9l-4.6 45.4l3.1 1.7l4.5-59.3z"/>
<path stroke="#8b7dcb" fill="#bdb5e2" d="M539.5 162.7l-4.5 59.3l3 1.7l4.6-70.5z"/>
<path stroke="#8b7dcb" fill="#bdb5e2" d="M542.6 153.2l-4.6 70.5l3.1-22.9l4.5-55.6z"/>
<path stroke="#4563fd" fill="#c0cafe" d="M545.6 145.2l-4.5 55.6l3-21.2l4.6-41.4z"/>
<path class="n" stroke="#20a5e3" d="M544.1 179.6l4.6-41.4"/>
<path class="n" stroke="#64cd6f" d="M548.7 138.2l-3.1 7"/>
<path stroke="#20a5e3" fill="#b3e0f5" d="M548.7 138.2l-4.6 41.4l3.1-13.6l4.5-33.8z"/>
<path class="n" stroke="#19bfb6" d="M547.2 166l4.5-33.8"/>
<path class="n" stroke="#abc739" d="M551.7 132.2l-3 6"/>
<path stroke="#19bfb6" fill="#b1e9e6" d="M551.7 132.2l-4.5 33.8l3-10.6l4.6-28.5z"/>
<path class="n" stroke="#4acb84" d="M550.2 155.4l4.6-28.5"/>
<path class="n" stroke="#dcbd29" d="M554.8 126.9l-3.1 5.3"/>
<path stroke="#4acb84" fill="#c1edd5" d="M554.8 126.9l-4.6 28.5l3.1-8.9l4.5-24.1z"/>
<path class="n" stroke="#9dc943" d="M553.3 146.5l4.5-24.1"/>
<path class="n" stroke="#febe3c" d="M557.8 122.4l-3 4.5"/>
<path stroke="#9dc943" fill="#deedbf" d="M557.8 122.4l-4.5 24.1l3-7.5l4.6-20.3z"/>
<path class="n" stroke="#dcbd29" d="M556.3 139l4.6-20.3"/>
<path class="n" stroke="#fccf30" d="M560.9 118.7l-3.1 3.7"/>
<path stroke="#dcbd29" fill="#f3e9b6" d="M560.9 118.7l-4.6 20.3l3.1-6.5l4.5-16.5z"/>
<path class="n" stroke="#febe3c" d="M559.4 132.5l4.5-16.5"/>
<path class="n" stroke="#f5e327" d="M563.9 116l-3 2.7"/>
<path stroke="#febe3c" fill="#ffe9bd" d="M563.9 116l-4.5 16.5l3-5.3l4.6-12.7z"/>
<path class="n" stroke="#fad62d" d="M562.4 127.2l4.6-12.7"/>
<path class="n" stroke="#f6ef20" d="M567 114.5l-3.1 1.5"/>
<path stroke="#fad62d" fill="#fdf1b8" d="M567 114.5l-4.6 12.7l3.1-4.1l4.5-8.7z"/>
<path class="n" stroke="#f5e924" d="M565.5 123.1l4.5-8.7"/>
<path class="n" stroke="#f7f51b" d="M570 114.4l-3 .1"/>
<path stroke="#f5e924" fill="#fcf8b5" d="M570 114.4l-4.5 8.7l3-2.7l4.6-4.1z"/>
<path class="n" stroke="#f7f51b" d="M568.5 120.4l4.6-4.1"/>
<path class="n" stroke="#f9fb15" d="M573.1 116.3l-3.1-1.9"/>
<path stroke="#f7f51b" fill="#fcfcb2" d="M573.1 116.3l-4.6 4.1l3.1-.9l4.6 1.5z"/>
<path stroke="#f9fb15" fill="#fdfeaf" d="M576.2 121l-4.6-1.5l3 1.7l4.6 8.7z"/>
<path stroke="#f9fb15" fill="#fdfeaf" d="M579.2 129.9l-4.6-8.7l3.1 5.3l4.6 19.2z"/>
<path class="n" stroke="#f6ef20" d="M577.7 126.5l4.6 19.2"/>
<path class="n" stroke="#f7dc2a" d="M582.3 145.7l-3.1-15.8"/>
<path stroke="#f6ef20" fill="#fcfab3" d="M582.3 145.7l-4.6-19.2l3 11.1l4.6 38.6z"/>
<path class="n" stroke="#fad62d" d="M580.7 137.6l4.6 38.6"/>
<path class="n" stroke="#f0ba36" d="M585.3 176.2l-3-30.5"/>
<path stroke="#fad62d" fill="#fdf1b8" d="M585.3 176.2l-4.6-38.6l3.1 22.3l4.6 87.9z"/>
<path class="n" stroke="#b9c431" d="M583.8 159.9l4.6 87.9"/>
<path class="n" stroke="#37c897" d="M588.4 247.8l-3.1-71.6"/>
<path stroke="#8b7dcb" fill="#bdb5e2" d="M538 223.7l-4.6 1.5l3.1 1.7l4.6-26.1z"/>
<path stroke="#8b7dcb" fill="#bdb5e2" d="M541.1 200.8l-4.6 26.1l3 1.7l4.6-49z"/>
<path stroke="#8b7dcb" fill="#bdb5e2" d="M544.1 179.6l-4.6 49l3.1 1.7l4.6-64.3z"/>
<path stroke="#8b7dcb" fill="#bdb5e2" d="M547.2 166l-4.6 64.3l3 1.7l4.6-76.6z"/>
<path stroke="#8b7dcb" fill="#bdb5e2" d="M550.2 155.4l-4.6 76.6l3.1-36.3l4.6-49.2z"/>
<path stroke="#2d8cf3" fill="#b8d8fb" d="M553.3 146.5l-4.6 49.2l3.1-19l4.5-37.7z"/>
<path class="n" stroke="#02bac3" d="M551.8 176.7l4.5-37.7"/>
<path class="n" stroke="#9dc943" d="M556.3 139l-3 7.5"/>
<path stroke="#02bac3" fill="#a9e8eb" d="M556.3 139l-4.5 37.7l3-13.6l4.6-30.6z"/>
<path class="n" stroke="#4acb84" d="M554.8 163.1l4.6-30.6"/>
<path class="n" stroke="#dcbd29" d="M559.4 132.5l-3.1 6.5"/>
<path stroke="#4acb84" fill="#c1edd5" d="M559.4 132.5l-4.6 30.6l3.1-10.8l4.5-25.1z"/>
<path class="n" stroke="#9dc943" d="M557.9 152.3l4.5-25.1"/>
<path class="n" stroke="#febe3c" d="M562.4 127.2l-3 5.3"/>
<path stroke="#9dc943" fill="#deedbf" d="M562.4 127.2l-4.5 25.1l3-9.1l4.6-20.1z"/>
<path class="n" stroke="#e6bb2d" d="M560.9 143.2l4.6-20.1"/>
<path class="n" stroke="#fad62d" d="M565.5 123.1l-3.1 4.1"/>
<path stroke="#e6bb2d" fill="#f7e8b8" d="M565.5 123.1l-4.6 20.1l3.1-7.4l4.5-15.4z"/>
<path class="n" stroke="#fec934" d="M564 135.8l4.5-15.4"/>
<path class="n" stroke="#f5e924" d="M568.5 120.4l-3 2.7"/>
<path stroke="#fec934" fill="#ffedba" d="M568.5 120.4l-4.5 15.4l3-5.8l4.6-10.5z"/>
<path class="n" stroke="#f5e327" d="M567 130l4.6-10.5"/>
<path class="n" stroke="#f7f51b" d="M571.6 119.5l-3.1 .9"/>
<path stroke="#f5e327" fill="#fcf5b6" d="M571.6 119.5l-4.6 10.5l3.1-3.9l4.5-4.9z"/>
<path class="n" stroke="#f7f51b" d="M570.1 126.1l4.5-4.9"/>
<path class="n" stroke="#f9fb15" d="M574.6 121.2l-3-1.7"/>
<path stroke="#f7f51b" fill="#fcfcb2" d="M574.6 121.2l-4.5 4.9l3-1.6l4.6 2z"/>
<path stroke="#f9fb15" fill="#fdfeaf" d="M577.7 126.5l-4.6-2l3.1 1.8l4.5 11.3z"/>
<path class="n" stroke="#f6ef20" d="M580.7 137.6l-3-11.1"/>
<path stroke="#f9fb15" fill="#fdfeaf" d="M580.7 137.6l-4.5-11.3l3 7.1l4.6 26.5z"/>
<path class="n" stroke="#f5e924" d="M579.2 133.4l4.6 26.5"/>
<path class="n" stroke="#fad62d" d="M583.8 159.9l-3.1-22.3"/>
<path stroke="#8b7dcb" fill="#bdb5e2" d="M545.6 232l-4.5 1.5l3 1.7l4.6-39.5z"/>
<path stroke="#8b7dcb" fill="#bdb5e2" d="M548.7 195.7l-4.6 39.5l3.1 1.7l4.6-60.2z"/>
<path stroke="#8b7dcb" fill="#bdb5e2" d="M551.8 176.7l-4.6 60.2l3 1.7l4.6-75.5z"/>
<path stroke="#8b7dcb" fill="#bdb5e2" d="M554.8 163.1l-4.6 75.5l3.1-31.3l4.6-55z"/>
<path stroke="#2f81fa" fill="#b8d4fd" d="M557.9 152.3l-4.6 55l3-24.5l4.6-39.6z"/>
<path class="n" stroke="#02bac3" d="M556.3 182.8l4.6-39.6"/>
<path class="n" stroke="#9dc943" d="M560.9 143.2l-3 9.1"/>
<path stroke="#02bac3" fill="#a9e8eb" d="M560.9 143.2l-4.6 39.6l3.1-16.2l4.6-30.8z"/>
<path class="n" stroke="#64cd6f" d="M559.4 166.6l4.6-30.8"/>
<path class="n" stroke="#e6bb2d" d="M564 135.8l-3.1 7.4"/>
<path stroke="#64cd6f" fill="#caeece" d="M564 135.8l-4.6 30.8l3-12.5l4.6-24.1z"/>
<path class="n" stroke="#c5c22a" d="M562.4 154.1l4.6-24.1"/>
<path class="n" stroke="#fec934" d="M567 130l-3 5.8"/>
<path stroke="#c5c22a" fill="#ebeab7" d="M567 130l-4.6 24.1l3.1-10.1l4.6-17.9z"/>
<path class="n" stroke="#febe3c" d="M565.5 144l4.6-17.9"/>
<path class="n" stroke="#f5e327" d="M570.1 126.1l-3.1 3.9"/>
<path stroke="#febe3c" fill="#ffe9bd" d="M570.1 126.1l-4.6 17.9l3-7.7l4.6-11.8z"/>
<path class="n" stroke="#f7dc2a" d="M568.5 136.3l4.6-11.8"/>
<path class="n" stroke="#f7f51b" d="M573.1 124.5l-3 1.6"/>
<path stroke="#f7dc2a" fill="#fcf3b7" d="M573.1 124.5l-4.6 11.8l3.1-5.3l4.6-4.7z"/>
<path class="n" stroke="#f7f51b" d="M571.6 131l4.6-4.7"/>
<path class="n" stroke="#f9fb15" d="M576.2 126.3l-3.1-1.8"/>
<path stroke="#f7f51b" fill="#fcfcb2" d="M576.2 126.3l-4.6 4.7l3.1-1.9l4.5 4.3z"/>
<path stroke="#8b7dcb" fill="#bdb5e2" d="M550.2 238.6l-4.5 1.5l3 1.7l4.6-34.5z"/>
<path stroke="#8b7dcb" fill="#bdb5e2" d="M553.3 207.3l-4.6 34.5l3.1 1.7l4.5-60.7z"/>
<path stroke="#8b7dcb" fill="#bdb5e2" d="M556.3 182.8l-4.5 60.7l3 1.7l4.6-78.6z"/>
<path stroke="#8b7dcb" fill="#bdb5e2" d="M559.4 166.6l-4.6 78.6l3.1-37.5l4.5-53.6z"/>
<path stroke="#2b91ef" fill="#b7daf9" d="M562.4 154.1l-4.5 53.6l3-26l4.6-37.7z"/>
<path class="n" stroke="#2cc4a7" d="M560.9 181.7l4.6-37.7"/>
<path class="n" stroke="#c5c22a" d="M565.5 144l-3.1 10.1"/>
<path stroke="#2cc4a7" fill="#b7ebe1" d="M565.5 144l-4.6 37.7l3.1-17.4l4.5-28z"/>
<path class="n" stroke="#9dc943" d="M564 164.3l4.5-28"/>
<path class="n" stroke="#febe3c" d="M568.5 136.3l-3 7.7"/>
<path stroke="#9dc943" fill="#deedbf" d="M568.5 136.3l-4.5 28l3-13.3l4.6-20z"/>
<path class="n" stroke="#f8ba3d" d="M567 151l4.6-20"/>
<path class="n" stroke="#f7dc2a" d="M571.6 131l-3.1 5.3"/>
<path stroke="#f8ba3d" fill="#fde8bd" d="M571.6 131l-4.6 20l3.1-9.9l4.6-12z"/>
<path class="n" stroke="#f7dc2a" d="M570.1 141.1l4.6-12"/>
<path class="n" stroke="#f7f51b" d="M574.7 129.1l-3.1 1.9"/>
<path stroke="#8b7dcb" fill="#bdb5e2" d="M554.8 245.2l-4.5 1.5l3 1.7l4.6-40.7z"/>
<path stroke="#8b7dcb" fill="#bdb5e2" d="M557.9 207.7l-4.6 40.7l3.1 1.7l4.5-68.4z"/>
<path stroke="#8b7dcb" fill="#bdb5e2" d="M560.9 181.7l-4.5 68.4l3 1.7l4.6-87.5z"/>
<path stroke="#8b7dcb" fill="#bdb5e2" d="M564 164.3l-4.6 87.5l3.1-55.7l4.5-45.1z"/>
<path stroke="#01b8ca" fill="#a9e7ed" d="M567 151l-4.5 45.1l3-23.9l4.6-31.1z"/>
<path class="n" stroke="#8fcb4e" d="M565.5 172.2l4.6-31.1"/>
<path class="n" stroke="#f8ba3d" d="M570.1 141.1l-3.1 9.9"/>
<path stroke="#8b7dcb" fill="#bdb5e2" d="M559.4 251.8l-4.6 1.5l3.1 1.7l4.6-58.9z"/>
<path stroke="#8b7dcb" fill="#bdb5e2" d="M562.5 196.1l-4.6 58.9l3 1.7l4.6-84.5z"/>
</g>
<g class="n" stroke-width=".9" stroke-linecap="round">
<path stroke="#402ab4" d="M562.5 196.1l-3.1 55.7M557.9 207.7l-3.1 37.5M553.3 207.3l-3.1 31.3M548.7 195.7l-3.1 36.3M541.1 200.8l-3.1 22.9M533.4 193.6l-3 21.8M525.8 177.3l-3.1 29.8M515.1 171.4l-3.1 25.7M501.3 174.3l-3 11.1M487.6 164.8l-3.1 8.9"/>
<path stroke="#463cde" d="M504.4 157.6l-3.1 16.7M490.6 148.9l-3 15.9"/>
<path stroke="#4269fe" d="M544.1 179.6l-3 21.2M536.5 174.9l-3.1 18.7M518.1 159l-3 12.4M493.7 140.3l-3.1 8.6"/>
<path stroke="#2f81fa" d="M556.3 182.8l-3 24.5M551.8 176.7l-3.1 19M528.8 164.1l-3 13.2M507.4 148.1l-3 9.5M496.7 133.7l-3 6.6"/>
<path stroke="#2797eb" d="M560.9 181.7l-3 26M539.5 162.7l-3 12.2M521.2 150l-3.1 9M510.5 140.8l-3.1 7.3"/>
<path stroke="#1ca9df" d="M547.2 166l-3.1 13.6M531.9 154.4l-3.1 9.7M524.2 142.8l-3 7.2M513.5 134.8l-3 6M502.8 123.5l-3 4.7M499.8 128.2l-3.1 5.5"/>
<path stroke="#01b8ca" d="M565.5 172.2l-3 23.9M559.4 166.6l-3.1 16.2M554.8 163.1l-3 13.6M542.6 153.2l-3.1 9.5M534.9 146.5l-3 7.9M527.3 136.6l-3.1 6.2M516.6 129.5l-3.1 5.3M505.9 119.3l-3.1 4.2M492.2 110.3l-3.1 3.4"/>
<path stroke="#24c1ae" d="M564 164.3l-3.1 17.4M550.2 155.4l-3 10.6M545.6 145.2l-3 8M538 139.7l-3.1 6.8M530.3 131.2l-3 5.4M519.6 124.8l-3 4.7M509 115.6l-3.1 3.7M498.3 104.2l-3.1 2.9M495.2 107.1l-3 3.2"/>
<path stroke="#3fca8e" d="M557.9 152.3l-3.1 10.8M553.3 146.5l-3.1 8.9M541 133.7l-3 6M533.4 126.3l-3.1 4.9M522.7 120.6l-3.1 4.2M515.1 109l-3.1 3.1M512 112.1l-3 3.5M501.3 101.5l-3 2.7"/>
<path stroke="#72cd64" d="M562.4 154.1l-3 12.5M548.7 138.2l-3.1 7M544.1 128.4l-3.1 5.3M536.4 121.9l-3 4.4M528.8 113.3l-3 3.5M525.8 116.8l-3.1 3.8M518.1 106.1l-3 2.9M507.4 96.7l-3 2.3M504.4 99l-3.1 2.5M496.7 86l-3 1.7"/>
<path stroke="#abc739" d="M567 151l-3 13.3M565.5 144l-3.1 10.1M560.9 143.2l-3 9.1M556.3 139l-3 7.5M551.7 132.2l-3 6M547.1 123.7l-3 4.7M539.5 117.9l-3.1 4M531.9 110.1l-3.1 3.2M524.2 100.9l-3 2.5M521.2 103.4l-3.1 2.7M513.5 92.6l-3 2M510.5 94.6l-3.1 2.1M502.8 82.8l-3 1.5M499.8 84.3l-3.1 1.7"/>
<path stroke="#dcbd29" d="M564 135.8l-3.1 7.4M559.4 132.5l-3.1 6.5M554.8 126.9l-3.1 5.3M550.2 119.6l-3.1 4.1M545.6 111.2l-3 3.2M542.6 114.4l-3.1 3.5M538 104.6l-3.1 2.6M534.9 107.2l-3 2.9M530.3 96.6l-3 2M527.3 98.6l-3.1 2.3M522.7 87.6l-3.1 1.5M519.6 89.1l-3 1.7M516.6 90.8l-3.1 1.8M512 79l-3.1 1.2M508.9 80.2l-3 1.2M505.9 81.4l-3.1 1.4M501.3 69.3l-3.1 .8"/>
<path stroke="#febe3c" d="M570.1 141.1l-3.1 9.9M568.5 136.3l-3 7.7M567 130l-3 5.8M562.4 127.2l-3 5.3M557.8 122.4l-3 4.5M553.2 116l-3 3.6M548.7 108.4l-3.1 2.8M544.1 100.3l-3.1 2M541 102.3l-3 2.3M536.4 93.1l-3 1.7M533.4 94.8l-3.1 1.8M528.8 85l-3.1 1.2M525.7 86.2l-3 1.4M521.1 76.2l-3 .8M518.1 77l-3.1 .9M515 77.9l-3 1.1M510.4 67.3l-3 .6M507.4 67.9l-3.1 .6M504.3 68.5l-3 .8"/>
<path stroke="#fad62d" d="M571.6 131l-3.1 5.3M570.1 126.1l-3.1 3.9M565.5 123.1l-3.1 4.1M563.9 116l-3 2.7M560.9 118.7l-3.1 3.7M559.4 110.7l-3.1 2.3M556.3 113l-3.1 3M554.8 104.4l-3.1 1.7M551.7 106.1l-3 2.3M550.2 97.4l-3.1 1.2M547.1 98.6l-3 1.7M545.6 90l-3.1 .7M542.5 90.7l-3 1.1M539.5 91.8l-3.1 1.3M537.9 82.6l-3 .6M534.9 83.2l-3.1 .8M531.8 84l-3 1M530.3 74.7l-3.1 .3M527.2 75l-3 .5M524.2 75.5l-3.1 .7M522.7 66.2l-3.1 .1M519.6 66.3l-3 .2M516.6 66.5l-3.1 .4M513.5 66.9l-3.1 .4M515 57.4l-3-.1M512 57.3l-3.1-.1M508.9 57.2l-3 .1M505.9 57.3l-3.1 .1"/>
<path stroke="#f6ef20" d="M568.5 120.4l-3 2.7M567 114.5l-3.1 1.5M562.4 109.2l-3 1.5M560.9 102.7l-3.1 .5M557.8 103.2l-3 1.2M556.3 96.3l-3.1 .3M553.2 96.6l-3 .8M551.7 89.6l-3.1 0M548.6 89.6l-3 .4M547.1 82.7l-3.1-.4M544 82.3l-3 0M541 82.3l-3.1 .3M542.5 75.6l-3-.6M539.5 75l-3.1-.4M536.4 74.6l-3 0M533.4 74.6l-3.1 .1M537.9 68.6l-3-.9M534.9 67.7l-3.1-.7M531.8 67l-3-.4M528.8 66.6l-3.1-.3M525.7 66.3l-3-.1M530.3 60.5l-3.1-1M527.2 59.5l-3-.8M524.2 58.7l-3.1-.5M521.1 58.2l-3-.5M518.1 57.7l-3.1-.3M522.6 52.2l-3-1.1M519.6 51.1l-3.1-.8M516.5 50.3l-3-.8M513.5 49.5l-3.1-.6M510.4 48.9l-3-.5M515 43.8l-3.1-1.2"/>
</g>
<path stroke="none" fill="#9e93d4" d="M524.4 268.6L560.9 256.7L557.9 255L521.3 266.9zM521.3 266.9L557.9 255L554.8 253.3L518.3 265.2zM518.3 265.2L559.4 251.8L556.4 250.1L515.2 263.5zM515.2 263.5L556.4 250.1L553.3 248.4L512.2 261.8zM512.2 261.8L553.3 248.4L550.3 246.7L509.1 260.1zM509.1 260.1L554.8 245.2L551.8 243.5L506.1 258.4zM506.1 258.4L551.8 243.5L548.7 241.8L503 256.7zM503 256.7L548.7 241.8L545.7 240.1L500 255zM500 255L550.2 238.6L547.2 236.9L496.9 253.3zM496.9 253.3L547.2 236.9L544.1 235.2L493.9 251.6zM493.9 251.6L544.1 235.2L541.1 233.5L490.8 249.8zM490.8 249.8L545.6 232L542.6 230.3L487.8 248.1zM487.8 248.1L542.6 230.3L539.5 228.6L484.7 246.4zM484.7 246.4L539.5 228.6L536.5 226.9L481.7 244.7zM481.7 244.7L536.5 226.9L533.4 225.2L478.6 243zM478.6 243L538 223.7L535 222L475.6 241.3zM475.6 241.3L535 222L531.9 220.3L472.5 239.6zM472.5 239.6L531.9 220.3L528.8 218.6L469.5 237.9zM469.5 237.9L528.8 218.6L525.8 216.9L466.4 236.2zM466.4 236.2L530.4 215.4L527.3 213.7L463.4 234.5zM463.4 234.5L527.3 213.7L524.3 212L460.3 232.8zM460.3 232.8L524.3 212L521.2 210.3L457.2 231.1zM457.2 231.1L521.2 210.3L518.2 208.6L454.2 229.4zM454.2 229.4L522.7 207.1L519.7 205.4L451.1 227.7zM451.1 227.7L519.7 205.4L516.6 203.7L448.1 226zM448.1 226L516.6 203.7L513.6 202L445 224.3zM445 224.3L513.6 202L510.5 200.3L442 222.6zM442 222.6L510.5 200.3L507.5 198.6L438.9 220.9zM438.9 220.9L512 197.1L509 195.4L435.9 219.2zM435.9 219.2L509 195.4L505.9 193.7L432.8 217.5zM432.8 217.5L505.9 193.7L502.9 192L429.8 215.7zM429.8 215.7L502.9 192L499.8 190.3L426.7 214zM426.7 214L499.8 190.3L496.8 188.6L423.7 212.3zM423.7 212.3L496.8 188.6L493.7 186.9L420.6 210.6zM420.6 210.6L498.3 185.4L495.2 183.7L417.6 208.9zM417.6 208.9L495.2 183.7L492.2 182L414.5 207.2zM414.5 207.2L492.2 182L489.1 180.3L411.5 205.5zM411.5 205.5L489.1 180.3L486.1 178.6L408.4 203.8zM408.4 203.8L486.1 178.6L483 176.8L405.4 202.1zM405.4 202.1L483 176.8L480 175.1L402.3 200.4z"/>
<path class="n" stroke-width=".5" stroke="#3e26a8" d="M524.4 268.6L402.3 200.4M526.7 267.9L404.6 199.7M529 267.1L406.9 198.9M531.3 266.4L409.2 198.2M533.5 265.6L411.4 197.4M535.8 264.9L413.7 196.7M538.1 264.1L416 195.9M540.4 263.4L418.3 195.2M542.7 262.7L420.6 194.5M545 261.9L422.9 193.7M547.2 261.2L425.1 193M549.5 260.4L427.4 192.2M551.8 259.7L429.7 191.5M554.1 258.9L432 190.7M556.4 258.2L434.3 190M558.7 257.5L436.6 189.3M560.9 256.7L438.8 188.5M557.1 252.6L441.1 187.8M559.4 251.8L443.4 187M552.5 246L445.7 186.3M554.8 245.2L448 185.5M548 239.4L450.3 184.8M550.2 238.6L452.6 184.1M543.4 232.8L454.8 183.3M545.6 232L457.1 182.6M535.7 224.5L459.4 181.8M538 223.7L461.7 181.1M528.1 216.1L464 180.3M530.4 215.4L466.3 179.6M520.4 207.8L468.5 178.9M522.7 207.1L470.8 178.1M509.7 197.8L473.1 177.4M512 197.1L475.4 176.6M496 186.1L477.7 175.9M498.3 185.4L480 175.1"/>
<path class="n" stroke-width=".85" stroke="#3e26a8" d="M524.4 268.6L560.9 256.7M521.3 266.9L557.9 255M518.3 265.2L559.4 251.8M515.2 263.5L556.4 250.1M512.2 261.8L553.3 248.4M509.1 260.1L554.8 245.2M506.1 258.4L551.8 243.5M503 256.7L548.7 241.8M500 255L550.2 238.6M496.9 253.3L547.2 236.9M493.9 251.6L544.1 235.2M490.8 249.8L545.6 232M487.8 248.1L542.6 230.3M484.7 246.4L539.5 228.6M481.7 244.7L536.5 226.9M478.6 243L538 223.7M475.6 241.3L535 222M472.5 239.6L531.9 220.3M469.5 237.9L528.8 218.6M466.4 236.2L530.4 215.4M463.4 234.5L527.3 213.7M460.3 232.8L524.3 212M457.2 231.1L521.2 210.3M454.2 229.4L522.7 207.1M451.1 227.7L519.7 205.4M448.1 226L516.6 203.7M445 224.3L513.6 202M442 222.6L510.5 200.3M438.9 220.9L512 197.1M435.9 219.2L509 195.4M432.8 217.5L505.9 193.7M429.8 215.7L502.9 192M426.7 214L499.8 190.3M423.7 212.3L496.8 188.6M420.6 210.6L498.3 185.4M417.6 208.9L495.2 183.7M414.5 207.2L492.2 182M411.5 205.5L489.1 180.3M408.4 203.8L486.1 178.6M405.4 202.1L483 176.8M402.3 200.4L480 175.1"/>
</g>
<g font-family="Liberation Sans, sans-serif" font-weight="bold" font-size="10.6" fill="#111" stroke="#111" stroke-width=".45" transform="scale(0.88 1)">
<text x="35.2" y="202.2" text-anchor="end">0</text>
<text x="35.2" y="172.6" text-anchor="end">20</text>
<text x="35.2" y="142.9" text-anchor="end">40</text>
<text x="35.2" y="113.3" text-anchor="end">60</text>
<text x="35.2" y="83.6" text-anchor="end">80</text>
<text x="35.2" y="54" text-anchor="end">100</text>
<text x="173.7" y="282.7" text-anchor="end">0.5</text>
<text x="138.9" y="265.7" text-anchor="end">1</text>
<text x="104.1" y="248.7" text-anchor="end">1.5</text>
<text x="69.3" y="231.7" text-anchor="end">2</text>
<text x="34.4" y="214.7" text-anchor="end">2.5</text>
<text x="190.2" y="284.4" text-anchor="start">0</text>
<text x="242" y="269.5" text-anchor="start">20</text>
<text x="293.8" y="254.7" text-anchor="start">40</text>
<text x="345.6" y="239.8" text-anchor="start">60</text>
<text x="448.9" y="202" text-anchor="end">0</text>
<text x="448.9" y="152.7" text-anchor="end">20</text>
<text x="448.9" y="103.3" text-anchor="end">40</text>
<text x="448.9" y="54" text-anchor="end">60</text>
<text x="586.8" y="282.7" text-anchor="end">0.5</text>
<text x="552.1" y="265.6" text-anchor="end">1</text>
<text x="517.4" y="248.6" text-anchor="end">1.5</text>
<text x="482.8" y="231.5" text-anchor="end">2</text>
<text x="448.1" y="214.5" text-anchor="end">2.5</text>
<text x="603.3" y="284.4" text-anchor="start">0</text>
<text x="655.2" y="269.5" text-anchor="start">20</text>
<text x="707.1" y="254.7" text-anchor="start">40</text>
<text x="759" y="239.8" text-anchor="start">60</text>
</g>
<text transform="translate(9.3 126.6) scale(0.87 1) rotate(-90)" text-anchor="middle" font-family="Liberation Sans, sans-serif" font-weight="bold" font-size="12.8" fill="#111" stroke="#111" stroke-width=".45">%Coverage-Mean</text>
<text transform="translate(378.4 129) scale(0.87 1) rotate(-90)" text-anchor="middle" font-family="Liberation Sans, sans-serif" font-weight="bold" font-size="12.8" fill="#111" stroke="#111" stroke-width=".45">%Coverage-Std</text>
<text transform="translate(62 284.5) scale(0.87 1)" font-family="Liberation Sans, sans-serif" font-weight="bold" font-size="12.3" fill="#111" stroke="#111" stroke-width=".45">P<tspan font-size="9.6" dy="6">t</tspan><tspan dy="-6"> </tspan>(mW)</text>
<text transform="translate(227.5 288.7) scale(0.87 1)" font-family="Liberation Sans, sans-serif" font-weight="bold" font-size="12.3" fill="#111" stroke="#111" stroke-width=".45">d<tspan font-size="9.6" dy="6">r,t</tspan><tspan dy="-6"> </tspan>(m)</text>
<text transform="translate(425.5 284.5) scale(0.87 1)" font-family="Liberation Sans, sans-serif" font-weight="bold" font-size="12.3" fill="#111" stroke="#111" stroke-width=".45">P<tspan font-size="9.6" dy="6">t</tspan><tspan dy="-6"> </tspan>(mW)</text>
<text transform="translate(591 288.7) scale(0.87 1)" font-family="Liberation Sans, sans-serif" font-weight="bold" font-size="12.3" fill="#111" stroke="#111" stroke-width=".45">d<tspan font-size="9.6" dy="6">r,t</tspan><tspan dy="-6"> </tspan>(m)</text>
</svg>
</body></html>
